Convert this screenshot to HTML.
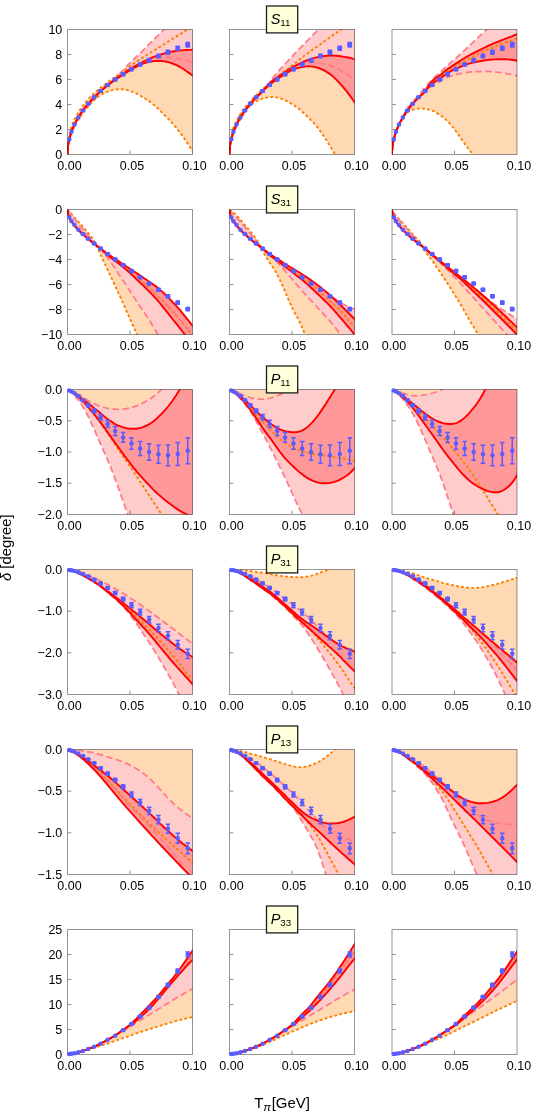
<!DOCTYPE html>
<html lang="en"><head><meta charset="utf-8"><title>Phase shifts</title>
<style>html,body{margin:0;padding:0;background:#fff}svg{display:block;will-change:transform}text{font-family:"Liberation Sans", sans-serif;fill:#000}.t{font-size:12.5px}.l{font-size:14.5px}.fo{fill:#ffd9b3;stroke:none}.fp{fill:#ffcccc;stroke:none}.fr{fill:#ff9999;stroke:none}.lo{fill:none;stroke:#ff8000;stroke-width:1.9;stroke-dasharray:2.9 2.2}.lp{fill:none;stroke:#ff7a86;stroke-width:1.75;stroke-dasharray:6.6 3.3}.lr{fill:none;stroke:#ff0000;stroke-width:1.9}.fr0{fill:none;stroke:#000;stroke-width:1;stroke-opacity:.42}.tk{stroke:#000;stroke-width:1;stroke-opacity:.45;fill:none}.pt{fill:#5b5bff}.eb{stroke:#5b5bff;stroke-width:1.5;fill:none}</style></head><body>
<svg width="540" height="1115" viewBox="0 0 540 1115">
<rect width="540" height="1115" fill="#fff"/>
<defs>
<clipPath id="c00"><rect x="67.5" y="29.5" width="125" height="125"/></clipPath>
<clipPath id="c01"><rect x="229.5" y="29.5" width="125" height="125"/></clipPath>
<clipPath id="c02"><rect x="392" y="29.5" width="125" height="125"/></clipPath>
<clipPath id="c10"><rect x="67.5" y="209.5" width="125" height="125"/></clipPath>
<clipPath id="c11"><rect x="229.5" y="209.5" width="125" height="125"/></clipPath>
<clipPath id="c12"><rect x="392" y="209.5" width="125" height="125"/></clipPath>
<clipPath id="c20"><rect x="67.5" y="389.5" width="125" height="125"/></clipPath>
<clipPath id="c21"><rect x="229.5" y="389.5" width="125" height="125"/></clipPath>
<clipPath id="c22"><rect x="392" y="389.5" width="125" height="125"/></clipPath>
<clipPath id="c30"><rect x="67.5" y="569.5" width="125" height="125"/></clipPath>
<clipPath id="c31"><rect x="229.5" y="569.5" width="125" height="125"/></clipPath>
<clipPath id="c32"><rect x="392" y="569.5" width="125" height="125"/></clipPath>
<clipPath id="c40"><rect x="67.5" y="749.5" width="125" height="125"/></clipPath>
<clipPath id="c41"><rect x="229.5" y="749.5" width="125" height="125"/></clipPath>
<clipPath id="c42"><rect x="392" y="749.5" width="125" height="125"/></clipPath>
<clipPath id="c50"><rect x="67.5" y="929.5" width="125" height="125"/></clipPath>
<clipPath id="c51"><rect x="229.5" y="929.5" width="125" height="125"/></clipPath>
<clipPath id="c52"><rect x="392" y="929.5" width="125" height="125"/></clipPath>
</defs>
<g clip-path="url(#c00)"><polygon class="fo" points="67.5,154.5 67.5,151.6 67.7,148.7 67.9,145.8 68.1,142.9 68.5,140.1 68.9,137.3 69.5,134.6 70.1,132 70.7,129.4 71.5,126.9 72.3,124.5 74.5,119.5 76.5,115.6 78.5,112.2 80.5,109.1 82.5,106.3 84.5,103.8 86.5,101.4 88.5,99.1 90.5,97 92.5,95 94.5,93.1 96.5,91.2 98.5,89.5 100.5,87.8 102.5,86.2 104.5,84.7 106.5,83.2 108.5,81.7 110.5,80.2 112.5,78.8 114.5,77.4 116.5,75.9 118.5,74.5 120.5,73.1 122.5,71.6 124.5,70.2 126.5,68.7 128.5,67.3 130.5,65.9 132.5,64.4 134.5,63 136.5,61.7 138.5,60.3 140.5,59 142.5,57.7 144.5,56.5 146.5,55.2 148.5,54 150.5,52.8 152.5,51.5 154.5,50.3 156.5,49 158.5,47.8 160.5,46.5 162.5,45.2 164.5,44 166.5,42.7 168.5,41.4 170.5,40.2 172.5,38.9 174.5,37.7 176.5,36.4 178.5,35.2 180.5,33.9 182.5,32.7 184.5,31.4 186.5,30.1 188.5,28.9 190.5,27.6 192.5,26.3 194.5,25 194.5,154.4 192.5,151.2 190.5,148 188.5,144.8 186.5,141.7 184.5,138.7 182.5,135.9 180.5,133.2 178.5,130.6 176.5,128.1 174.5,125.7 172.5,123.4 170.5,121.2 168.5,119.1 166.5,117.1 164.5,115.1 162.5,113.1 160.5,111.1 158.5,109.1 156.5,107.2 154.5,105.3 152.5,103.6 150.5,102.1 148.5,100.8 146.5,99.5 144.5,98.3 142.5,97.1 140.5,95.8 138.5,94.6 136.5,93.5 134.5,92.6 132.5,91.8 130.5,91 128.5,90.4 126.5,90 124.5,89.6 122.5,89.3 120.5,89.2 118.5,89.2 116.5,89.4 114.5,89.7 112.5,90.2 110.5,90.7 108.5,91.4 106.5,92.1 104.5,93 102.5,94 100.5,95.2 98.5,96.5 96.5,98 94.5,99.7 92.5,101.7 90.5,103.9 88.5,106.2 86.5,108.6 84.5,111 82.5,113.5 80.5,116.2 78.5,119.2 76.5,122.4 74.5,126 72.3,130.8 71.5,133 70.7,135.1 70.1,137.3 69.5,139.4 68.9,141.5 68.5,143.6 68.1,145.8 67.9,148 67.7,150.1 67.5,152.3 67.5,154.5"/><polygon class="fp" points="67.5,154.5 67.5,152.2 67.7,150 67.9,147.7 68.1,145.4 68.5,143.2 68.9,140.9 69.5,138.6 70.1,136.4 70.7,134.1 71.5,131.8 72.3,129.5 74.5,124.5 76.5,120.6 78.5,117.2 80.5,114 82.5,111.1 84.5,108.4 86.5,105.9 88.5,103.6 90.5,101.3 92.5,99.1 94.5,97 96.5,95 98.5,93.1 100.5,91.3 102.5,89.5 104.5,87.7 106.5,85.9 108.5,84.1 110.5,82.3 112.5,80.6 114.5,78.7 116.5,76.9 118.5,74.9 120.5,73 122.5,70.9 124.5,68.7 126.5,66.5 128.5,64.4 130.5,62.3 132.5,60.4 134.5,58.5 136.5,56.7 138.5,54.8 140.5,52.9 142.5,50.9 144.5,48.9 146.5,46.9 148.5,44.9 150.5,42.9 152.5,40.9 154.5,38.9 156.5,37 158.5,35 160.5,33 162.5,31 164.5,29 166.5,27 168.5,24.9 170.5,22.9 172.5,20.8 174.5,18.8 176.5,16.8 178.5,14.8 180.5,12.8 182.5,10.8 184.5,8.7 186.5,6.7 188.5,4.7 190.5,2.7 192.5,0.7 194.5,-1.3 194.5,62.8 192.5,62.2 190.5,61.6 188.5,61 186.5,60.5 184.5,59.9 182.5,59.4 180.5,59 178.5,58.6 176.5,58.2 174.5,57.9 172.5,57.7 170.5,57.5 168.5,57.3 166.5,57.2 164.5,57.2 162.5,57.1 160.5,57.2 158.5,57.3 156.5,57.6 154.5,58 152.5,58.6 150.5,59.3 148.5,60.1 146.5,61 144.5,61.9 142.5,62.9 140.5,63.9 138.5,65 136.5,66 134.5,67.2 132.5,68.3 130.5,69.5 128.5,70.7 126.5,72 124.5,73.3 122.5,74.6 120.5,75.9 118.5,77.3 116.5,78.7 114.5,80.2 112.5,81.7 110.5,83.2 108.5,84.7 106.5,86.3 104.5,87.9 102.5,89.6 100.5,91.3 98.5,93.1 96.5,95 94.5,97 92.5,99.1 90.5,101.3 88.5,103.6 86.5,105.9 84.5,108.4 82.5,111.1 80.5,114 78.5,117.2 76.5,120.6 74.5,124.5 72.3,129.5 71.5,131.8 70.7,134.1 70.1,136.4 69.5,138.6 68.9,140.9 68.5,143.2 68.1,145.4 67.9,147.7 67.7,150 67.5,152.2 67.5,154.5"/><polygon class="fr" points="67.5,154.5 67.5,152.2 67.7,150 67.9,147.7 68.1,145.4 68.5,143.2 68.9,140.9 69.5,138.6 70.1,136.4 70.7,134.1 71.5,131.8 72.3,129.5 74.5,124.5 76.5,120.6 78.5,117.2 80.5,114 82.5,111.1 84.5,108.4 86.5,105.9 88.5,103.6 90.5,101.3 92.5,99.1 94.5,97 96.5,95 98.5,93.1 100.5,91.3 102.5,89.5 104.5,87.8 106.5,86.1 108.5,84.5 110.5,82.9 112.5,81.3 114.5,79.8 116.5,78.3 118.5,76.9 120.5,75.5 122.5,74.1 124.5,72.8 126.5,71.4 128.5,70.1 130.5,68.8 132.5,67.6 134.5,66.4 136.5,65.3 138.5,64.2 140.5,63.1 142.5,62 144.5,61 146.5,60 148.5,59.1 150.5,58.2 152.5,57.4 154.5,56.6 156.5,55.9 158.5,55.2 160.5,54.6 162.5,54 164.5,53.4 166.5,52.9 168.5,52.4 170.5,51.9 172.5,51.5 174.5,51.2 176.5,50.9 178.5,50.6 180.5,50.4 182.5,50.3 184.5,50.1 186.5,50 188.5,49.9 190.5,49.9 192.5,49.8 194.5,49.7 194.5,77 192.5,75.5 190.5,74 188.5,72.6 186.5,71.2 184.5,69.8 182.5,68.5 180.5,67.3 178.5,66.2 176.5,65.2 174.5,64.3 172.5,63.5 170.5,62.8 168.5,62.2 166.5,61.7 164.5,61.4 162.5,61.1 160.5,61 158.5,61 156.5,61 154.5,61.1 152.5,61.3 150.5,61.6 148.5,62 146.5,62.6 144.5,63.2 142.5,63.9 140.5,64.7 138.5,65.6 136.5,66.6 134.5,67.6 132.5,68.7 130.5,69.9 128.5,71.1 126.5,72.4 124.5,73.7 122.5,75 120.5,76.3 118.5,77.6 116.5,79 114.5,80.4 112.5,81.8 110.5,83.2 108.5,84.7 106.5,86.3 104.5,87.9 102.5,89.6 100.5,91.3 98.5,93.1 96.5,95 94.5,97 92.5,99.1 90.5,101.3 88.5,103.6 86.5,105.9 84.5,108.4 82.5,111.1 80.5,114 78.5,117.2 76.5,120.6 74.5,124.5 72.3,129.5 71.5,131.8 70.7,134.1 70.1,136.4 69.5,138.6 68.9,140.9 68.5,143.2 68.1,145.4 67.9,147.7 67.7,150 67.5,152.2 67.5,154.5"/><polyline class="lo" points="67.5,154.5 67.5,152.3 67.7,150.1 67.9,148 68.1,145.8 68.5,143.6 68.9,141.5 69.5,139.4 70.1,137.3 70.7,135.1 71.5,133 72.3,130.8 74.5,126 76.5,122.4 78.5,119.2 80.5,116.2 82.5,113.5 84.5,111 86.5,108.6 88.5,106.2 90.5,103.9 92.5,101.7 94.5,99.7 96.5,98 98.5,96.5 100.5,95.2 102.5,94 104.5,93 106.5,92.1 108.5,91.4 110.5,90.7 112.5,90.2 114.5,89.7 116.5,89.4 118.5,89.2 120.5,89.2 122.5,89.3 124.5,89.6 126.5,90 128.5,90.4 130.5,91 132.5,91.8 134.5,92.6 136.5,93.5 138.5,94.6 140.5,95.8 142.5,97.1 144.5,98.3 146.5,99.5 148.5,100.8 150.5,102.1 152.5,103.6 154.5,105.3 156.5,107.2 158.5,109.1 160.5,111.1 162.5,113.1 164.5,115.1 166.5,117.1 168.5,119.1 170.5,121.2 172.5,123.4 174.5,125.7 176.5,128.1 178.5,130.6 180.5,133.2 182.5,135.9 184.5,138.7 186.5,141.7 188.5,144.8 190.5,148 192.5,151.2 194.5,154.4"/><polyline class="lo" points="67.5,154.5 67.5,151.6 67.7,148.7 67.9,145.8 68.1,142.9 68.5,140.1 68.9,137.3 69.5,134.6 70.1,132 70.7,129.4 71.5,126.9 72.3,124.5 74.5,119.5 76.5,115.6 78.5,112.2 80.5,109.1 82.5,106.3 84.5,103.8 86.5,101.4 88.5,99.1 90.5,97 92.5,95 94.5,93.1 96.5,91.2 98.5,89.5 100.5,87.8 102.5,86.2 104.5,84.7 106.5,83.2 108.5,81.7 110.5,80.2 112.5,78.8 114.5,77.4 116.5,75.9 118.5,74.5 120.5,73.1 122.5,71.6 124.5,70.2 126.5,68.7 128.5,67.3 130.5,65.9 132.5,64.4 134.5,63 136.5,61.7 138.5,60.3 140.5,59 142.5,57.7 144.5,56.5 146.5,55.2 148.5,54 150.5,52.8 152.5,51.5 154.5,50.3 156.5,49 158.5,47.8 160.5,46.5 162.5,45.2 164.5,44 166.5,42.7 168.5,41.4 170.5,40.2 172.5,38.9 174.5,37.7 176.5,36.4 178.5,35.2 180.5,33.9 182.5,32.7 184.5,31.4 186.5,30.1 188.5,28.9 190.5,27.6 192.5,26.3 194.5,25"/><polyline class="lp" points="67.5,154.5 67.5,152.2 67.7,150 67.9,147.7 68.1,145.4 68.5,143.2 68.9,140.9 69.5,138.6 70.1,136.4 70.7,134.1 71.5,131.8 72.3,129.5 74.5,124.5 76.5,120.6 78.5,117.2 80.5,114 82.5,111.1 84.5,108.4 86.5,105.9 88.5,103.6 90.5,101.3 92.5,99.1 94.5,97 96.5,95 98.5,93.1 100.5,91.3 102.5,89.6 104.5,87.9 106.5,86.3 108.5,84.7 110.5,83.2 112.5,81.7 114.5,80.2 116.5,78.7 118.5,77.3 120.5,75.9 122.5,74.6 124.5,73.3 126.5,72 128.5,70.7 130.5,69.5 132.5,68.3 134.5,67.2 136.5,66 138.5,65 140.5,63.9 142.5,62.9 144.5,61.9 146.5,61 148.5,60.1 150.5,59.3 152.5,58.6 154.5,58 156.5,57.6 158.5,57.3 160.5,57.2 162.5,57.1 164.5,57.2 166.5,57.2 168.5,57.3 170.5,57.5 172.5,57.7 174.5,57.9 176.5,58.2 178.5,58.6 180.5,59 182.5,59.4 184.5,59.9 186.5,60.5 188.5,61 190.5,61.6 192.5,62.2 194.5,62.8"/><polyline class="lp" points="67.5,154.5 67.5,152.2 67.7,150 67.9,147.7 68.1,145.4 68.5,143.2 68.9,140.9 69.5,138.6 70.1,136.4 70.7,134.1 71.5,131.8 72.3,129.5 74.5,124.5 76.5,120.6 78.5,117.2 80.5,114 82.5,111.1 84.5,108.4 86.5,105.9 88.5,103.6 90.5,101.3 92.5,99.1 94.5,97 96.5,95 98.5,93.1 100.5,91.3 102.5,89.5 104.5,87.7 106.5,85.9 108.5,84.1 110.5,82.3 112.5,80.6 114.5,78.7 116.5,76.9 118.5,74.9 120.5,73 122.5,70.9 124.5,68.7 126.5,66.5 128.5,64.4 130.5,62.3 132.5,60.4 134.5,58.5 136.5,56.7 138.5,54.8 140.5,52.9 142.5,50.9 144.5,48.9 146.5,46.9 148.5,44.9 150.5,42.9 152.5,40.9 154.5,38.9 156.5,37 158.5,35 160.5,33 162.5,31 164.5,29 166.5,27 168.5,24.9 170.5,22.9 172.5,20.8 174.5,18.8 176.5,16.8 178.5,14.8 180.5,12.8 182.5,10.8 184.5,8.7 186.5,6.7 188.5,4.7 190.5,2.7 192.5,0.7 194.5,-1.3"/><polyline class="lr" points="67.5,154.5 67.5,152.2 67.7,150 67.9,147.7 68.1,145.4 68.5,143.2 68.9,140.9 69.5,138.6 70.1,136.4 70.7,134.1 71.5,131.8 72.3,129.5 74.5,124.5 76.5,120.6 78.5,117.2 80.5,114 82.5,111.1 84.5,108.4 86.5,105.9 88.5,103.6 90.5,101.3 92.5,99.1 94.5,97 96.5,95 98.5,93.1 100.5,91.3 102.5,89.6 104.5,87.9 106.5,86.3 108.5,84.7 110.5,83.2 112.5,81.8 114.5,80.4 116.5,79 118.5,77.6 120.5,76.3 122.5,75 124.5,73.7 126.5,72.4 128.5,71.1 130.5,69.9 132.5,68.7 134.5,67.6 136.5,66.6 138.5,65.6 140.5,64.7 142.5,63.9 144.5,63.2 146.5,62.6 148.5,62 150.5,61.6 152.5,61.3 154.5,61.1 156.5,61 158.5,61 160.5,61 162.5,61.1 164.5,61.4 166.5,61.7 168.5,62.2 170.5,62.8 172.5,63.5 174.5,64.3 176.5,65.2 178.5,66.2 180.5,67.3 182.5,68.5 184.5,69.8 186.5,71.2 188.5,72.6 190.5,74 192.5,75.5 194.5,77"/><polyline class="lr" points="67.5,154.5 67.5,152.2 67.7,150 67.9,147.7 68.1,145.4 68.5,143.2 68.9,140.9 69.5,138.6 70.1,136.4 70.7,134.1 71.5,131.8 72.3,129.5 74.5,124.5 76.5,120.6 78.5,117.2 80.5,114 82.5,111.1 84.5,108.4 86.5,105.9 88.5,103.6 90.5,101.3 92.5,99.1 94.5,97 96.5,95 98.5,93.1 100.5,91.3 102.5,89.5 104.5,87.8 106.5,86.1 108.5,84.5 110.5,82.9 112.5,81.3 114.5,79.8 116.5,78.3 118.5,76.9 120.5,75.5 122.5,74.1 124.5,72.8 126.5,71.4 128.5,70.1 130.5,68.8 132.5,67.6 134.5,66.4 136.5,65.3 138.5,64.2 140.5,63.1 142.5,62 144.5,61 146.5,60 148.5,59.1 150.5,58.2 152.5,57.4 154.5,56.6 156.5,55.9 158.5,55.2 160.5,54.6 162.5,54 164.5,53.4 166.5,52.9 168.5,52.4 170.5,51.9 172.5,51.5 174.5,51.2 176.5,50.9 178.5,50.6 180.5,50.4 182.5,50.3 184.5,50.1 186.5,50 188.5,49.9 190.5,49.9 192.5,49.8 194.5,49.7"/></g>
<rect class="fr0" x="67.5" y="29.5" width="125" height="125"/>
<path class="tk" d="M130 154v-3.3M68 129.5h3.3M68 104.5h3.3M68 79.5h3.3M68 54.5h3.3"/>
<circle class="pt" cx="69.28" cy="139.25" r="2.25"/><circle class="pt" cx="71.48" cy="131.75" r="2.25"/><circle class="pt" cx="74.52" cy="124.5" r="2.25"/><circle class="pt" cx="78.36" cy="117.5" r="2.25"/><rect class="pt" x="80.59" y="108.92" width="4.7" height="3.15" rx="0.7"/><circle class="pt" cx="82.94" cy="110.5" r="2.25"/><rect class="pt" x="85.86" y="102.05" width="4.7" height="3.4" rx="0.7"/><circle class="pt" cx="88.21" cy="103.75" r="2.25"/><rect class="pt" x="91.78" y="95.42" width="4.7" height="3.65" rx="0.7"/><circle class="pt" cx="94.13" cy="97.25" r="2.25"/><rect class="pt" x="98.28" y="89.05" width="4.7" height="3.9" rx="0.7"/><circle class="pt" cx="100.63" cy="91" r="2.25"/><rect class="pt" x="105.31" y="82.93" width="4.7" height="4.15" rx="0.7"/><circle class="pt" cx="107.66" cy="85" r="2.25"/><rect class="pt" x="112.82" y="77.3" width="4.7" height="4.4" rx="0.7"/><circle class="pt" cx="115.17" cy="79.5" r="2.25"/><rect class="pt" x="120.77" y="72.05" width="4.7" height="4.4" rx="0.7"/><circle class="pt" cx="123.12" cy="74.25" r="2.25"/><rect class="pt" x="129.11" y="66.92" width="4.7" height="4.65" rx="0.7"/><circle class="pt" cx="131.46" cy="69.25" r="2.25"/><rect class="pt" x="137.8" y="62.17" width="4.7" height="4.65" rx="0.7"/><circle class="pt" cx="140.15" cy="64.5" r="2.25"/><rect class="pt" x="146.8" y="57.8" width="4.7" height="4.9" rx="0.7"/><circle class="pt" cx="149.15" cy="60.25" r="2.25"/><rect class="pt" x="156.09" y="53.42" width="4.7" height="5.15" rx="0.7"/><circle class="pt" cx="158.44" cy="56" r="2.25"/><rect class="pt" x="165.63" y="49.55" width="4.7" height="5.4" rx="0.7"/><circle class="pt" cx="167.98" cy="52.25" r="2.25"/><rect class="pt" x="175.4" y="45.42" width="4.7" height="5.65" rx="0.7"/><circle class="pt" cx="177.75" cy="48.25" r="2.25"/><rect class="pt" x="185.38" y="41.8" width="4.7" height="5.9" rx="0.7"/><circle class="pt" cx="187.73" cy="44.75" r="2.25"/>
<text class="t" text-anchor="middle" x="69.5" y="170">0.00</text>
<text class="t" text-anchor="middle" x="132" y="170">0.05</text>
<text class="t" text-anchor="middle" x="194.5" y="170">0.10</text>
<text class="t" text-anchor="end" x="62.3" y="158.5">0</text>
<text class="t" text-anchor="end" x="62.3" y="133.5">2</text>
<text class="t" text-anchor="end" x="62.3" y="108.5">4</text>
<text class="t" text-anchor="end" x="62.3" y="83.5">6</text>
<text class="t" text-anchor="end" x="62.3" y="58.5">8</text>
<text class="t" text-anchor="end" x="62.3" y="33.5">10</text>
<g clip-path="url(#c01)"><polygon class="fo" points="229.5,154.5 229.5,151.7 229.7,148.9 229.9,146.1 230.1,143.3 230.5,140.6 230.9,137.8 231.5,135.1 232.1,132.5 232.7,130 233.5,127.7 234.3,125.6 236.5,121 238.5,117.2 240.5,113.8 242.5,110.7 244.5,107.9 246.5,105.5 248.5,103.2 250.5,101 252.5,99 254.5,97 256.5,95 258.5,93.1 260.5,91.2 262.5,89.3 264.5,87.5 266.5,85.8 268.5,84 270.5,82.3 272.5,80.7 274.5,79.1 276.5,77.5 278.5,75.9 280.5,74.4 282.5,72.9 284.5,71.3 286.5,69.8 288.5,68.3 290.5,66.8 292.5,65.2 294.5,63.6 296.5,62 298.5,60.3 300.5,58.7 302.5,57.1 304.5,55.6 306.5,54.2 308.5,52.7 310.5,51.3 312.5,49.9 314.5,48.5 316.5,47.1 318.5,45.7 320.5,44.2 322.5,42.7 324.5,41.3 326.5,39.8 328.5,38.3 330.5,36.8 332.5,35.4 334.5,34 336.5,32.7 338.5,31.3 340.5,30 342.5,28.6 344.5,27.2 346.5,25.7 348.5,24.2 350.5,22.6 352.5,21.1 354.5,19.6 356.5,18.1 356.5,192 354.5,188.5 352.5,184.9 350.5,181.4 348.5,177.9 346.5,174.4 344.5,170.9 342.5,167.4 340.5,163.9 338.5,160.4 336.5,156.8 334.5,153.4 332.5,150 330.5,146.6 328.5,143.4 326.5,140.3 324.5,137.2 322.5,134.3 320.5,131.4 318.5,128.7 316.5,126.2 314.5,123.8 312.5,121.6 310.5,119.6 308.5,117.6 306.5,115.7 304.5,113.9 302.5,112 300.5,110.3 298.5,108.6 296.5,107.1 294.5,105.6 292.5,104.3 290.5,103.1 288.5,101.9 286.5,100.9 284.5,99.9 282.5,99.1 280.5,98.4 278.5,97.8 276.5,97.4 274.5,97.1 272.5,97 270.5,97.1 268.5,97.3 266.5,97.6 264.5,98.1 262.5,98.7 260.5,99.4 258.5,100.2 256.5,101.1 254.5,102.2 252.5,103.5 250.5,105.2 248.5,107.3 246.5,109.9 244.5,112.8 242.5,115.9 240.5,119.2 238.5,122.4 236.5,126 234.3,130.8 233.5,133 232.7,135.2 232.1,137.3 231.5,139.4 230.9,141.5 230.5,143.6 230.1,145.8 229.9,148 229.7,150.1 229.5,152.3 229.5,154.5"/><polygon class="fp" points="229.5,154.5 229.5,152.2 229.7,150 229.9,147.7 230.1,145.4 230.5,143.2 230.9,140.9 231.5,138.6 232.1,136.4 232.7,134.1 233.5,131.8 234.3,129.5 236.5,124.5 238.5,120.6 240.5,117.2 242.5,114 244.5,111.1 246.5,108.4 248.5,105.9 250.5,103.5 252.5,101.2 254.5,99 256.5,97 258.5,95.2 260.5,93.3 262.5,91.3 264.5,89 266.5,86.5 268.5,83.9 270.5,81.3 272.5,78.6 274.5,76 276.5,73.5 278.5,71.2 280.5,68.9 282.5,66.7 284.5,64.6 286.5,62.5 288.5,60.3 290.5,58.2 292.5,56.1 294.5,53.9 296.5,51.8 298.5,49.7 300.5,47.7 302.5,45.6 304.5,43.6 306.5,41.5 308.5,39.5 310.5,37.5 312.5,35.4 314.5,33.4 316.5,31.3 318.5,29.3 320.5,27.2 322.5,25.2 324.5,23.1 326.5,21.1 328.5,19 330.5,17 332.5,15 334.5,13 336.5,10.9 338.5,8.9 340.5,6.9 342.5,4.9 344.5,2.9 346.5,0.8 348.5,-1.2 350.5,-3.2 352.5,-5.2 354.5,-7.2 356.5,-9.2 356.5,81.3 354.5,79.8 352.5,78.3 350.5,76.8 348.5,75.4 346.5,74 344.5,72.6 342.5,71.4 340.5,70.2 338.5,69.1 336.5,68.1 334.5,67.2 332.5,66.4 330.5,65.7 328.5,65.1 326.5,64.6 324.5,64.2 322.5,63.8 320.5,63.5 318.5,63.1 316.5,62.8 314.5,62.5 312.5,62.3 310.5,62.3 308.5,62.5 306.5,62.8 304.5,63.3 302.5,63.9 300.5,64.6 298.5,65.4 296.5,66.3 294.5,67.2 292.5,68.3 290.5,69.4 288.5,70.6 286.5,71.8 284.5,73.1 282.5,74.4 280.5,75.8 278.5,77.2 276.5,78.6 274.5,80 272.5,81.5 270.5,83.1 268.5,85 266.5,87 264.5,89.2 262.5,91.3 260.5,93.3 258.5,95.1 256.5,97 254.5,99 252.5,101.2 250.5,103.5 248.5,105.9 246.5,108.4 244.5,111.1 242.5,114 240.5,117.2 238.5,120.6 236.5,124.5 234.3,129.5 233.5,131.8 232.7,134.1 232.1,136.4 231.5,138.6 230.9,140.9 230.5,143.2 230.1,145.4 229.9,147.7 229.7,150 229.5,152.2 229.5,154.5"/><polygon class="fr" points="229.5,154.5 229.5,152.2 229.7,150 229.9,147.7 230.1,145.4 230.5,143.2 230.9,140.9 231.5,138.6 232.1,136.4 232.7,134.1 233.5,131.8 234.3,129.5 236.5,124.5 238.5,120.6 240.5,117.2 242.5,114 244.5,111.1 246.5,108.4 248.5,105.9 250.5,103.5 252.5,101.2 254.5,99 256.5,97 258.5,95.2 260.5,93.3 262.5,91.3 264.5,89 266.5,86.7 268.5,84.4 270.5,82.5 272.5,80.8 274.5,79.3 276.5,77.9 278.5,76.5 280.5,75.1 282.5,73.7 284.5,72.3 286.5,71 288.5,69.7 290.5,68.5 292.5,67.3 294.5,66.2 296.5,65.1 298.5,64.1 300.5,63.1 302.5,62.2 304.5,61.3 306.5,60.5 308.5,59.8 310.5,59.1 312.5,58.4 314.5,57.9 316.5,57.3 318.5,56.9 320.5,56.5 322.5,56.2 324.5,56 326.5,55.8 328.5,55.6 330.5,55.6 332.5,55.5 334.5,55.6 336.5,55.8 338.5,56 340.5,56.3 342.5,56.6 344.5,56.9 346.5,57.2 348.5,57.5 350.5,58 352.5,58.6 354.5,59.3 356.5,60.1 356.5,105.3 354.5,102.3 352.5,99.3 350.5,96.4 348.5,93.8 346.5,91.2 344.5,88.8 342.5,86.4 340.5,84.1 338.5,81.9 336.5,79.8 334.5,77.9 332.5,76.1 330.5,74.5 328.5,73.1 326.5,71.8 324.5,70.7 322.5,69.7 320.5,68.8 318.5,68 316.5,67.4 314.5,66.9 312.5,66.6 310.5,66.4 308.5,66.3 306.5,66.4 304.5,66.6 302.5,67 300.5,67.4 298.5,67.8 296.5,68.4 294.5,69.1 292.5,70 290.5,70.9 288.5,72 286.5,73.2 284.5,74.4 282.5,75.7 280.5,76.9 278.5,78.2 276.5,79.5 274.5,80.9 272.5,82.4 270.5,84 268.5,85.7 266.5,87.5 264.5,89.4 262.5,91.3 260.5,93.2 258.5,95.1 256.5,97 254.5,99.1 252.5,101.3 250.5,103.5 248.5,105.9 246.5,108.4 244.5,111.1 242.5,114 240.5,117.2 238.5,120.6 236.5,124.5 234.3,129.5 233.5,131.8 232.7,134.1 232.1,136.4 231.5,138.6 230.9,140.9 230.5,143.2 230.1,145.4 229.9,147.7 229.7,150 229.5,152.2 229.5,154.5"/><polyline class="lo" points="229.5,154.5 229.5,152.3 229.7,150.1 229.9,148 230.1,145.8 230.5,143.6 230.9,141.5 231.5,139.4 232.1,137.3 232.7,135.2 233.5,133 234.3,130.8 236.5,126 238.5,122.4 240.5,119.2 242.5,115.9 244.5,112.8 246.5,109.9 248.5,107.3 250.5,105.2 252.5,103.5 254.5,102.2 256.5,101.1 258.5,100.2 260.5,99.4 262.5,98.7 264.5,98.1 266.5,97.6 268.5,97.3 270.5,97.1 272.5,97 274.5,97.1 276.5,97.4 278.5,97.8 280.5,98.4 282.5,99.1 284.5,99.9 286.5,100.9 288.5,101.9 290.5,103.1 292.5,104.3 294.5,105.6 296.5,107.1 298.5,108.6 300.5,110.3 302.5,112 304.5,113.9 306.5,115.7 308.5,117.6 310.5,119.6 312.5,121.6 314.5,123.8 316.5,126.2 318.5,128.7 320.5,131.4 322.5,134.3 324.5,137.2 326.5,140.3 328.5,143.4 330.5,146.6 332.5,150 334.5,153.4 336.5,156.8 338.5,160.4 340.5,163.9 342.5,167.4 344.5,170.9 346.5,174.4 348.5,177.9 350.5,181.4 352.5,184.9 354.5,188.5 356.5,192"/><polyline class="lo" points="229.5,154.5 229.5,151.7 229.7,148.9 229.9,146.1 230.1,143.3 230.5,140.6 230.9,137.8 231.5,135.1 232.1,132.5 232.7,130 233.5,127.7 234.3,125.6 236.5,121 238.5,117.2 240.5,113.8 242.5,110.7 244.5,107.9 246.5,105.5 248.5,103.2 250.5,101 252.5,99 254.5,97 256.5,95 258.5,93.1 260.5,91.2 262.5,89.3 264.5,87.5 266.5,85.8 268.5,84 270.5,82.3 272.5,80.7 274.5,79.1 276.5,77.5 278.5,75.9 280.5,74.4 282.5,72.9 284.5,71.3 286.5,69.8 288.5,68.3 290.5,66.8 292.5,65.2 294.5,63.6 296.5,62 298.5,60.3 300.5,58.7 302.5,57.1 304.5,55.6 306.5,54.2 308.5,52.7 310.5,51.3 312.5,49.9 314.5,48.5 316.5,47.1 318.5,45.7 320.5,44.2 322.5,42.7 324.5,41.3 326.5,39.8 328.5,38.3 330.5,36.8 332.5,35.4 334.5,34 336.5,32.7 338.5,31.3 340.5,30 342.5,28.6 344.5,27.2 346.5,25.7 348.5,24.2 350.5,22.6 352.5,21.1 354.5,19.6 356.5,18.1"/><polyline class="lp" points="229.5,154.5 229.5,152.2 229.7,150 229.9,147.7 230.1,145.4 230.5,143.2 230.9,140.9 231.5,138.6 232.1,136.4 232.7,134.1 233.5,131.8 234.3,129.5 236.5,124.5 238.5,120.6 240.5,117.2 242.5,114 244.5,111.1 246.5,108.4 248.5,105.9 250.5,103.5 252.5,101.2 254.5,99 256.5,97 258.5,95.1 260.5,93.3 262.5,91.3 264.5,89.2 266.5,87 268.5,85 270.5,83.1 272.5,81.5 274.5,80 276.5,78.6 278.5,77.2 280.5,75.8 282.5,74.4 284.5,73.1 286.5,71.8 288.5,70.6 290.5,69.4 292.5,68.3 294.5,67.2 296.5,66.3 298.5,65.4 300.5,64.6 302.5,63.9 304.5,63.3 306.5,62.8 308.5,62.5 310.5,62.3 312.5,62.3 314.5,62.5 316.5,62.8 318.5,63.1 320.5,63.5 322.5,63.8 324.5,64.2 326.5,64.6 328.5,65.1 330.5,65.7 332.5,66.4 334.5,67.2 336.5,68.1 338.5,69.1 340.5,70.2 342.5,71.4 344.5,72.6 346.5,74 348.5,75.4 350.5,76.8 352.5,78.3 354.5,79.8 356.5,81.3"/><polyline class="lp" points="229.5,154.5 229.5,152.2 229.7,150 229.9,147.7 230.1,145.4 230.5,143.2 230.9,140.9 231.5,138.6 232.1,136.4 232.7,134.1 233.5,131.8 234.3,129.5 236.5,124.5 238.5,120.6 240.5,117.2 242.5,114 244.5,111.1 246.5,108.4 248.5,105.9 250.5,103.5 252.5,101.2 254.5,99 256.5,97 258.5,95.2 260.5,93.3 262.5,91.3 264.5,89 266.5,86.5 268.5,83.9 270.5,81.3 272.5,78.6 274.5,76 276.5,73.5 278.5,71.2 280.5,68.9 282.5,66.7 284.5,64.6 286.5,62.5 288.5,60.3 290.5,58.2 292.5,56.1 294.5,53.9 296.5,51.8 298.5,49.7 300.5,47.7 302.5,45.6 304.5,43.6 306.5,41.5 308.5,39.5 310.5,37.5 312.5,35.4 314.5,33.4 316.5,31.3 318.5,29.3 320.5,27.2 322.5,25.2 324.5,23.1 326.5,21.1 328.5,19 330.5,17 332.5,15 334.5,13 336.5,10.9 338.5,8.9 340.5,6.9 342.5,4.9 344.5,2.9 346.5,0.8 348.5,-1.2 350.5,-3.2 352.5,-5.2 354.5,-7.2 356.5,-9.2"/><polyline class="lr" points="229.5,154.5 229.5,152.2 229.7,150 229.9,147.7 230.1,145.4 230.5,143.2 230.9,140.9 231.5,138.6 232.1,136.4 232.7,134.1 233.5,131.8 234.3,129.5 236.5,124.5 238.5,120.6 240.5,117.2 242.5,114 244.5,111.1 246.5,108.4 248.5,105.9 250.5,103.5 252.5,101.3 254.5,99.1 256.5,97 258.5,95.1 260.5,93.2 262.5,91.3 264.5,89.4 266.5,87.5 268.5,85.7 270.5,84 272.5,82.4 274.5,80.9 276.5,79.5 278.5,78.2 280.5,76.9 282.5,75.7 284.5,74.4 286.5,73.2 288.5,72 290.5,70.9 292.5,70 294.5,69.1 296.5,68.4 298.5,67.8 300.5,67.4 302.5,67 304.5,66.6 306.5,66.4 308.5,66.3 310.5,66.4 312.5,66.6 314.5,66.9 316.5,67.4 318.5,68 320.5,68.8 322.5,69.7 324.5,70.7 326.5,71.8 328.5,73.1 330.5,74.5 332.5,76.1 334.5,77.9 336.5,79.8 338.5,81.9 340.5,84.1 342.5,86.4 344.5,88.8 346.5,91.2 348.5,93.8 350.5,96.4 352.5,99.3 354.5,102.3 356.5,105.3"/><polyline class="lr" points="229.5,154.5 229.5,152.2 229.7,150 229.9,147.7 230.1,145.4 230.5,143.2 230.9,140.9 231.5,138.6 232.1,136.4 232.7,134.1 233.5,131.8 234.3,129.5 236.5,124.5 238.5,120.6 240.5,117.2 242.5,114 244.5,111.1 246.5,108.4 248.5,105.9 250.5,103.5 252.5,101.2 254.5,99 256.5,97 258.5,95.2 260.5,93.3 262.5,91.3 264.5,89 266.5,86.7 268.5,84.4 270.5,82.5 272.5,80.8 274.5,79.3 276.5,77.9 278.5,76.5 280.5,75.1 282.5,73.7 284.5,72.3 286.5,71 288.5,69.7 290.5,68.5 292.5,67.3 294.5,66.2 296.5,65.1 298.5,64.1 300.5,63.1 302.5,62.2 304.5,61.3 306.5,60.5 308.5,59.8 310.5,59.1 312.5,58.4 314.5,57.9 316.5,57.3 318.5,56.9 320.5,56.5 322.5,56.2 324.5,56 326.5,55.8 328.5,55.6 330.5,55.6 332.5,55.5 334.5,55.6 336.5,55.8 338.5,56 340.5,56.3 342.5,56.6 344.5,56.9 346.5,57.2 348.5,57.5 350.5,58 352.5,58.6 354.5,59.3 356.5,60.1"/></g>
<rect class="fr0" x="229.5" y="29.5" width="125" height="125"/>
<path class="tk" d="M292 154v-3.3M230 129.5h3.3M230 104.5h3.3M230 79.5h3.3M230 54.5h3.3"/>
<circle class="pt" cx="231.28" cy="139.25" r="2.25"/><circle class="pt" cx="233.48" cy="131.75" r="2.25"/><circle class="pt" cx="236.52" cy="124.5" r="2.25"/><circle class="pt" cx="240.36" cy="117.5" r="2.25"/><rect class="pt" x="242.59" y="108.92" width="4.7" height="3.15" rx="0.7"/><circle class="pt" cx="244.94" cy="110.5" r="2.25"/><rect class="pt" x="247.86" y="102.05" width="4.7" height="3.4" rx="0.7"/><circle class="pt" cx="250.21" cy="103.75" r="2.25"/><rect class="pt" x="253.78" y="95.42" width="4.7" height="3.65" rx="0.7"/><circle class="pt" cx="256.13" cy="97.25" r="2.25"/><rect class="pt" x="260.28" y="89.05" width="4.7" height="3.9" rx="0.7"/><circle class="pt" cx="262.63" cy="91" r="2.25"/><rect class="pt" x="267.31" y="82.93" width="4.7" height="4.15" rx="0.7"/><circle class="pt" cx="269.66" cy="85" r="2.25"/><rect class="pt" x="274.82" y="77.3" width="4.7" height="4.4" rx="0.7"/><circle class="pt" cx="277.17" cy="79.5" r="2.25"/><rect class="pt" x="282.77" y="72.05" width="4.7" height="4.4" rx="0.7"/><circle class="pt" cx="285.12" cy="74.25" r="2.25"/><rect class="pt" x="291.11" y="66.92" width="4.7" height="4.65" rx="0.7"/><circle class="pt" cx="293.46" cy="69.25" r="2.25"/><rect class="pt" x="299.8" y="62.17" width="4.7" height="4.65" rx="0.7"/><circle class="pt" cx="302.15" cy="64.5" r="2.25"/><rect class="pt" x="308.8" y="57.8" width="4.7" height="4.9" rx="0.7"/><circle class="pt" cx="311.15" cy="60.25" r="2.25"/><rect class="pt" x="318.09" y="53.42" width="4.7" height="5.15" rx="0.7"/><circle class="pt" cx="320.44" cy="56" r="2.25"/><rect class="pt" x="327.63" y="49.55" width="4.7" height="5.4" rx="0.7"/><circle class="pt" cx="329.98" cy="52.25" r="2.25"/><rect class="pt" x="337.4" y="45.42" width="4.7" height="5.65" rx="0.7"/><circle class="pt" cx="339.75" cy="48.25" r="2.25"/><rect class="pt" x="347.38" y="41.8" width="4.7" height="5.9" rx="0.7"/><circle class="pt" cx="349.73" cy="44.75" r="2.25"/>
<text class="t" text-anchor="middle" x="231.5" y="170">0.00</text>
<text class="t" text-anchor="middle" x="294" y="170">0.05</text>
<text class="t" text-anchor="middle" x="356.5" y="170">0.10</text>
<g clip-path="url(#c02)"><polygon class="fo" points="392,154.5 392,152.2 392.2,150 392.4,147.7 392.6,145.4 393,143.2 393.4,140.9 394,138.6 394.6,136.4 395.2,134.1 396,131.8 396.8,129.5 399,124.5 401,120.6 403,117.2 405,114 407,111.1 409,108.4 411,105.9 413,103.5 415,101.2 417,99 419,97 421,95.3 423,93.5 425,91.3 427,88.7 429,86 431,83.5 433,81.5 435,79.9 437,78.5 439,77.2 441,75.8 443,74.4 445,72.9 447,71.5 449,70.1 451,68.8 453,67.5 455,66.3 457,65.1 459,64.1 461,63 463,62 465,60.9 467,59.9 469,58.8 471,57.7 473,56.6 475,55.6 477,54.6 479,53.6 481,52.6 483,51.7 485,50.8 487,50 489,49.1 491,48.3 493,47.4 495,46.6 497,45.8 499,45 501,44.2 503,43.4 505,42.7 507,41.9 509,41.3 511,40.6 513,40 515,39.3 517,38.7 519,38.1 519,218.6 517,215.8 515,213 513,210.2 511,207.4 509,204.7 507,201.9 505,199.1 503,196.3 501,193.5 499,190.7 497,187.9 495,185.2 493,182.4 491,179.6 489,176.8 487,174 485,171.2 483,168.5 481,165.7 479,162.9 477,160.1 475,157.3 473,154.6 471,152 469,149.4 467,146.8 465,144.1 463,141.3 461,138.4 459,135.5 457,132.7 455,129.9 453,127.3 451,124.9 449,122.7 447,120.7 445,118.9 443,117.3 441,115.8 439,114.4 437,113.1 435,111.9 433,110.9 431,110.1 429,109.6 427,109.2 425,108.8 423,108.6 421,108.5 419,108.6 417,108.8 415,109.2 413,109.7 411,110.3 409,111.2 407,112.6 405,114.8 403,117.9 401,121.4 399,125.3 396.8,130.3 396,132.5 395.2,134.7 394.6,136.9 394,139.2 393.4,141.4 393,143.6 392.6,145.8 392.4,147.9 392.2,150.1 392,152.3 392,154.5"/><polygon class="fp" points="392,154.5 392,152.2 392.2,150 392.4,147.7 392.6,145.4 393,143.2 393.4,140.9 394,138.6 394.6,136.4 395.2,134.1 396,131.8 396.8,129.5 399,124.5 401,120.9 403,117.1 405,112.7 407,108.9 409,106.2 411,104 413,101.9 415,99.5 417,97.1 419,94.7 421,92.4 423,90.1 425,87.8 427,85.5 429,83.2 431,81.1 433,79 435,77 437,75.2 439,73.4 441,71.6 443,69.7 445,67.9 447,66.1 449,64.3 451,62.5 453,60.7 455,59 457,57.1 459,55.3 461,53.5 463,51.7 465,49.8 467,47.9 469,46.1 471,44.2 473,42.3 475,40.4 477,38.6 479,36.7 481,34.9 483,33 485,31.2 487,29.3 489,27.5 491,25.6 493,23.8 495,22 497,20.2 499,18.4 501,16.6 503,14.8 505,13.1 507,11.3 509,9.5 511,7.7 513,5.9 515,4.2 517,2.4 519,0.6 519,76.6 517,76 515,75.4 513,74.9 511,74.4 509,74 507,73.7 505,73.3 503,73 501,72.7 499,72.5 497,72.2 495,72 493,71.8 491,71.6 489,71.5 487,71.4 485,71.4 483,71.5 481,71.5 479,71.5 477,71.6 475,71.7 473,71.8 471,71.9 469,72.1 467,72.4 465,72.7 463,73 461,73.4 459,73.8 457,74.2 455,74.8 453,75.4 451,76 449,76.8 447,77.6 445,78.5 443,79.5 441,80.6 439,81.7 437,82.8 435,83.9 433,85.2 431,86.5 429,88 427,89.6 425,91.3 423,93.1 421,95 419,97 417,99.1 415,101.3 413,103.6 411,105.9 409,108.4 407,111.1 405,114 403,117.2 401,120.6 399,124.5 396.8,129.5 396,131.8 395.2,134.1 394.6,136.4 394,138.6 393.4,140.9 393,143.2 392.6,145.4 392.4,147.7 392.2,150 392,152.2 392,154.5"/><polygon class="fr" points="392,154.5 392,152.2 392.2,150 392.4,147.7 392.6,145.4 393,143.2 393.4,140.9 394,138.6 394.6,136.4 395.2,134.1 396,131.8 396.8,129.5 399,124.5 401,120.6 403,117.2 405,114 407,111 409,108.4 411,106 413,103.5 415,101.2 417,98.9 419,97.1 421,95.4 423,93.6 425,91.3 427,88.3 429,85.1 431,82.3 433,80.2 435,78.6 437,77.2 439,75.9 441,74.4 443,72.8 445,71.1 447,69.5 449,68.1 451,66.7 453,65.4 455,64.1 457,62.9 459,61.6 461,60.3 463,59 465,57.8 467,56.6 469,55.5 471,54.4 473,53.3 475,52.3 477,51.3 479,50.3 481,49.3 483,48.3 485,47.3 487,46.4 489,45.4 491,44.6 493,43.7 495,42.9 497,42.1 499,41.3 501,40.5 503,39.7 505,38.9 507,38.1 509,37.3 511,36.6 513,35.8 515,35 517,34.3 519,33.6 519,61.1 517,60.7 515,60.3 513,60 511,59.7 509,59.5 507,59.4 505,59.3 503,59.2 501,59.2 499,59.3 497,59.3 495,59.4 493,59.5 491,59.6 489,59.8 487,60.1 485,60.3 483,60.7 481,61 479,61.4 477,61.8 475,62.2 473,62.6 471,63.1 469,63.7 467,64.3 465,65 463,65.7 461,66.5 459,67.3 457,68.2 455,69.2 453,70.2 451,71.2 449,72.4 447,73.7 445,75 443,76.4 441,77.8 439,79.2 437,80.5 435,81.7 433,83.1 431,84.8 429,86.8 427,89.1 425,91.3 423,93.3 421,95.2 419,97 417,99 415,101.2 413,103.5 411,105.9 409,108.4 407,111.1 405,114 403,117.2 401,120.6 399,124.5 396.8,129.5 396,131.8 395.2,134.1 394.6,136.4 394,138.6 393.4,140.9 393,143.2 392.6,145.4 392.4,147.7 392.2,150 392,152.2 392,154.5"/><polyline class="lo" points="392,154.5 392,152.3 392.2,150.1 392.4,147.9 392.6,145.8 393,143.6 393.4,141.4 394,139.2 394.6,136.9 395.2,134.7 396,132.5 396.8,130.3 399,125.3 401,121.4 403,117.9 405,114.8 407,112.6 409,111.2 411,110.3 413,109.7 415,109.2 417,108.8 419,108.6 421,108.5 423,108.6 425,108.8 427,109.2 429,109.6 431,110.1 433,110.9 435,111.9 437,113.1 439,114.4 441,115.8 443,117.3 445,118.9 447,120.7 449,122.7 451,124.9 453,127.3 455,129.9 457,132.7 459,135.5 461,138.4 463,141.3 465,144.1 467,146.8 469,149.4 471,152 473,154.6 475,157.3 477,160.1 479,162.9 481,165.7 483,168.5 485,171.2 487,174 489,176.8 491,179.6 493,182.4 495,185.2 497,187.9 499,190.7 501,193.5 503,196.3 505,199.1 507,201.9 509,204.7 511,207.4 513,210.2 515,213 517,215.8 519,218.6"/><polyline class="lo" points="392,154.5 392,152.2 392.2,150 392.4,147.7 392.6,145.4 393,143.2 393.4,140.9 394,138.6 394.6,136.4 395.2,134.1 396,131.8 396.8,129.5 399,124.5 401,120.6 403,117.2 405,114 407,111.1 409,108.4 411,105.9 413,103.5 415,101.2 417,99 419,97 421,95.3 423,93.5 425,91.3 427,88.7 429,86 431,83.5 433,81.5 435,79.9 437,78.5 439,77.2 441,75.8 443,74.4 445,72.9 447,71.5 449,70.1 451,68.8 453,67.5 455,66.3 457,65.1 459,64.1 461,63 463,62 465,60.9 467,59.9 469,58.8 471,57.7 473,56.6 475,55.6 477,54.6 479,53.6 481,52.6 483,51.7 485,50.8 487,50 489,49.1 491,48.3 493,47.4 495,46.6 497,45.8 499,45 501,44.2 503,43.4 505,42.7 507,41.9 509,41.3 511,40.6 513,40 515,39.3 517,38.7 519,38.1"/><polyline class="lp" points="392,154.5 392,152.2 392.2,150 392.4,147.7 392.6,145.4 393,143.2 393.4,140.9 394,138.6 394.6,136.4 395.2,134.1 396,131.8 396.8,129.5 399,124.5 401,120.6 403,117.2 405,114 407,111.1 409,108.4 411,105.9 413,103.6 415,101.3 417,99.1 419,97 421,95 423,93.1 425,91.3 427,89.6 429,88 431,86.5 433,85.2 435,83.9 437,82.8 439,81.7 441,80.6 443,79.5 445,78.5 447,77.6 449,76.8 451,76 453,75.4 455,74.8 457,74.2 459,73.8 461,73.4 463,73 465,72.7 467,72.4 469,72.1 471,71.9 473,71.8 475,71.7 477,71.6 479,71.5 481,71.5 483,71.5 485,71.4 487,71.4 489,71.5 491,71.6 493,71.8 495,72 497,72.2 499,72.5 501,72.7 503,73 505,73.3 507,73.7 509,74 511,74.4 513,74.9 515,75.4 517,76 519,76.6"/><polyline class="lp" points="392,154.5 392,152.2 392.2,150 392.4,147.7 392.6,145.4 393,143.2 393.4,140.9 394,138.6 394.6,136.4 395.2,134.1 396,131.8 396.8,129.5 399,124.5 401,120.9 403,117.1 405,112.7 407,108.9 409,106.2 411,104 413,101.9 415,99.5 417,97.1 419,94.7 421,92.4 423,90.1 425,87.8 427,85.5 429,83.2 431,81.1 433,79 435,77 437,75.2 439,73.4 441,71.6 443,69.7 445,67.9 447,66.1 449,64.3 451,62.5 453,60.7 455,59 457,57.1 459,55.3 461,53.5 463,51.7 465,49.8 467,47.9 469,46.1 471,44.2 473,42.3 475,40.4 477,38.6 479,36.7 481,34.9 483,33 485,31.2 487,29.3 489,27.5 491,25.6 493,23.8 495,22 497,20.2 499,18.4 501,16.6 503,14.8 505,13.1 507,11.3 509,9.5 511,7.7 513,5.9 515,4.2 517,2.4 519,0.6"/><polyline class="lr" points="392,154.5 392,152.2 392.2,150 392.4,147.7 392.6,145.4 393,143.2 393.4,140.9 394,138.6 394.6,136.4 395.2,134.1 396,131.8 396.8,129.5 399,124.5 401,120.6 403,117.2 405,114 407,111.1 409,108.4 411,105.9 413,103.5 415,101.2 417,99 419,97 421,95.2 423,93.3 425,91.3 427,89.1 429,86.8 431,84.8 433,83.1 435,81.7 437,80.5 439,79.2 441,77.8 443,76.4 445,75 447,73.7 449,72.4 451,71.2 453,70.2 455,69.2 457,68.2 459,67.3 461,66.5 463,65.7 465,65 467,64.3 469,63.7 471,63.1 473,62.6 475,62.2 477,61.8 479,61.4 481,61 483,60.7 485,60.3 487,60.1 489,59.8 491,59.6 493,59.5 495,59.4 497,59.3 499,59.3 501,59.2 503,59.2 505,59.3 507,59.4 509,59.5 511,59.7 513,60 515,60.3 517,60.7 519,61.1"/><polyline class="lr" points="392,154.5 392,152.2 392.2,150 392.4,147.7 392.6,145.4 393,143.2 393.4,140.9 394,138.6 394.6,136.4 395.2,134.1 396,131.8 396.8,129.5 399,124.5 401,120.6 403,117.2 405,114 407,111 409,108.4 411,106 413,103.5 415,101.2 417,98.9 419,97.1 421,95.4 423,93.6 425,91.3 427,88.3 429,85.1 431,82.3 433,80.2 435,78.6 437,77.2 439,75.9 441,74.4 443,72.8 445,71.1 447,69.5 449,68.1 451,66.7 453,65.4 455,64.1 457,62.9 459,61.6 461,60.3 463,59 465,57.8 467,56.6 469,55.5 471,54.4 473,53.3 475,52.3 477,51.3 479,50.3 481,49.3 483,48.3 485,47.3 487,46.4 489,45.4 491,44.6 493,43.7 495,42.9 497,42.1 499,41.3 501,40.5 503,39.7 505,38.9 507,38.1 509,37.3 511,36.6 513,35.8 515,35 517,34.3 519,33.6"/></g>
<rect class="fr0" x="392" y="29.5" width="125" height="125"/>
<path class="tk" d="M454.5 154v-3.3M392.5 129.5h3.3M392.5 104.5h3.3M392.5 79.5h3.3M392.5 54.5h3.3"/>
<circle class="pt" cx="393.78" cy="139.25" r="2.25"/><circle class="pt" cx="395.98" cy="131.75" r="2.25"/><circle class="pt" cx="399.02" cy="124.5" r="2.25"/><circle class="pt" cx="402.86" cy="117.5" r="2.25"/><rect class="pt" x="405.09" y="108.92" width="4.7" height="3.15" rx="0.7"/><circle class="pt" cx="407.44" cy="110.5" r="2.25"/><rect class="pt" x="410.36" y="102.05" width="4.7" height="3.4" rx="0.7"/><circle class="pt" cx="412.71" cy="103.75" r="2.25"/><rect class="pt" x="416.28" y="95.42" width="4.7" height="3.65" rx="0.7"/><circle class="pt" cx="418.63" cy="97.25" r="2.25"/><rect class="pt" x="422.78" y="89.05" width="4.7" height="3.9" rx="0.7"/><circle class="pt" cx="425.13" cy="91" r="2.25"/><rect class="pt" x="429.81" y="82.93" width="4.7" height="4.15" rx="0.7"/><circle class="pt" cx="432.16" cy="85" r="2.25"/><rect class="pt" x="437.32" y="77.3" width="4.7" height="4.4" rx="0.7"/><circle class="pt" cx="439.67" cy="79.5" r="2.25"/><rect class="pt" x="445.27" y="72.05" width="4.7" height="4.4" rx="0.7"/><circle class="pt" cx="447.62" cy="74.25" r="2.25"/><rect class="pt" x="453.61" y="66.92" width="4.7" height="4.65" rx="0.7"/><circle class="pt" cx="455.96" cy="69.25" r="2.25"/><rect class="pt" x="462.3" y="62.17" width="4.7" height="4.65" rx="0.7"/><circle class="pt" cx="464.65" cy="64.5" r="2.25"/><rect class="pt" x="471.3" y="57.8" width="4.7" height="4.9" rx="0.7"/><circle class="pt" cx="473.65" cy="60.25" r="2.25"/><rect class="pt" x="480.59" y="53.42" width="4.7" height="5.15" rx="0.7"/><circle class="pt" cx="482.94" cy="56" r="2.25"/><rect class="pt" x="490.13" y="49.55" width="4.7" height="5.4" rx="0.7"/><circle class="pt" cx="492.48" cy="52.25" r="2.25"/><rect class="pt" x="499.9" y="45.42" width="4.7" height="5.65" rx="0.7"/><circle class="pt" cx="502.25" cy="48.25" r="2.25"/><rect class="pt" x="509.88" y="41.8" width="4.7" height="5.9" rx="0.7"/><circle class="pt" cx="512.23" cy="44.75" r="2.25"/>
<text class="t" text-anchor="middle" x="394" y="170">0.00</text>
<text class="t" text-anchor="middle" x="456.5" y="170">0.05</text>
<text class="t" text-anchor="middle" x="519" y="170">0.10</text>
<rect x="266.5" y="6" width="31.2" height="26.9" fill="#ffffd9" stroke="#1c1c1c" stroke-width="1.3"/>
<text class="l" x="270.7" y="24"><tspan font-style="italic">S</tspan><tspan font-size="9.8px" dy="2.2">11</tspan></text>
<g clip-path="url(#c10)"><polygon class="fo" points="67.5,209.5 67.5,210.7 67.7,211.9 67.9,213.1 68.1,214.3 68.5,215.5 68.9,216.7 69.5,217.9 70.1,219 70.7,220.2 71.5,221.3 72.3,222.5 74.5,225.4 76.5,227.9 78.5,230.1 80.5,232 82.5,233.7 84.5,235.6 86.5,237.5 88.5,239.2 90.5,240.8 92.5,242.4 94.5,243.9 96.5,245.4 98.5,247 100.5,248.6 102.5,250.3 104.5,251.9 106.5,253.6 108.5,255.1 110.5,256.6 112.5,258.1 114.5,259.5 116.5,260.9 118.5,262.3 120.5,263.8 122.5,265.2 124.5,266.6 126.5,268.1 128.5,269.6 130.5,271.1 132.5,272.7 134.5,274.4 136.5,276.1 138.5,277.8 140.5,279.6 142.5,281.4 144.5,283.3 146.5,285.1 148.5,287 150.5,288.9 152.5,290.8 154.5,292.8 156.5,294.8 158.5,296.8 160.5,298.9 162.5,300.9 164.5,303 166.5,305.1 168.5,307.1 170.5,309.2 172.5,311.3 174.5,313.5 176.5,315.8 178.5,318.2 180.5,320.7 182.5,323.1 184.5,325.6 186.5,328 188.5,330.4 190.5,332.8 192.5,335.2 194.5,337.6 194.5,463.3 192.5,458.8 190.5,454.4 188.5,449.9 186.5,445.4 184.5,440.9 182.5,436.4 180.5,432 178.5,427.5 176.5,423 174.5,418.5 172.5,414 170.5,409.6 168.5,405.1 166.5,400.6 164.5,396.1 162.5,391.7 160.5,387.2 158.5,382.7 156.5,378.2 154.5,373.7 152.5,369.3 150.5,364.8 148.5,360.3 146.5,355.8 144.5,351.3 142.5,346.9 140.5,342.4 138.5,337.9 136.5,333.4 134.5,328.9 132.5,324.5 130.5,320.1 128.5,315.5 126.5,311 124.5,306.4 122.5,301.9 120.5,297.4 118.5,293.1 116.5,288.7 114.5,284.4 112.5,280.2 110.5,275.9 108.5,271.6 106.5,267.3 104.5,263 102.5,258.8 100.5,254.6 98.5,250.1 96.5,245.7 94.5,241.7 92.5,238.5 90.5,235.8 88.5,233.5 86.5,231.2 84.5,228.7 82.5,226.2 80.5,223.9 78.5,221.8 76.5,219.7 74.5,217.6 72.3,215.1 71.5,214.1 70.7,213.3 70.1,212.5 69.5,211.8 68.9,211.3 68.5,210.8 68.1,210.5 67.9,210.2 67.7,209.9 67.5,209.7 67.5,209.5"/><polygon class="fp" points="67.5,209 67.5,210.2 67.7,211.4 67.9,212.6 68.1,213.8 68.5,215 68.9,216.2 69.5,217.4 70.1,218.5 70.7,219.7 71.5,220.8 72.3,222 74.5,224.9 76.5,227.4 78.5,229.6 80.5,231.5 82.5,233.2 84.5,235.1 86.5,237 88.5,238.7 90.5,240.3 92.5,241.9 94.5,243.4 96.5,244.9 98.5,246.5 100.5,248.1 102.5,249.8 104.5,251.4 106.5,253.1 108.5,254.6 110.5,256.1 112.5,257.6 114.5,259 116.5,260.4 118.5,261.8 120.5,263.3 122.5,264.7 124.5,266.1 126.5,267.6 128.5,269.1 130.5,270.6 132.5,272.2 134.5,273.9 136.5,275.6 138.5,277.3 140.5,279.1 142.5,280.9 144.5,282.8 146.5,284.6 148.5,286.5 150.5,288.4 152.5,290.3 154.5,292.3 156.5,294.3 158.5,296.3 160.5,298.4 162.5,300.4 164.5,302.5 166.5,304.6 168.5,306.6 170.5,308.7 172.5,310.8 174.5,313 176.5,315.3 178.5,317.7 180.5,320.2 182.5,322.6 184.5,325.1 186.5,327.5 188.5,329.9 190.5,332.3 192.5,334.7 194.5,337.1 194.5,394.9 192.5,391.6 190.5,388.3 188.5,385 186.5,381.7 184.5,378.4 182.5,375.1 180.5,371.9 178.5,368.6 176.5,365.3 174.5,362 172.5,358.7 170.5,355.4 168.5,352.1 166.5,348.8 164.5,345.5 162.5,342.2 160.5,338.9 158.5,335.5 156.5,332.2 154.5,328.8 152.5,325.5 150.5,322.2 148.5,319 146.5,316 144.5,313 142.5,310.1 140.5,307.2 138.5,304.2 136.5,301.2 134.5,298.1 132.5,295 130.5,291.8 128.5,288.7 126.5,285.7 124.5,282.7 122.5,279.8 120.5,276.8 118.5,273.8 116.5,270.8 114.5,267.7 112.5,264.7 110.5,261.8 108.5,259.1 106.5,256.5 104.5,254 102.5,251.5 100.5,249.2 98.5,247.2 96.5,245.2 94.5,243.1 92.5,240.9 90.5,238.6 88.5,236.3 86.5,233.9 84.5,231.5 82.5,229.1 80.5,226.6 78.5,224.1 76.5,221.5 74.5,218.9 72.3,216.1 71.5,215 70.7,214.1 70.1,213.3 69.5,212.6 68.9,211.9 68.5,211.4 68.1,210.9 67.9,210.5 67.7,210.2 67.5,209.8 67.5,209.5"/><polygon class="fr" points="67.5,209.5 67.5,210.7 67.7,211.9 67.9,213.1 68.1,214.3 68.5,215.5 68.9,216.7 69.5,217.9 70.1,219 70.7,220.2 71.5,221.3 72.3,222.5 74.5,225.4 76.5,227.9 78.5,230.1 80.5,232 82.5,233.7 84.5,235.6 86.5,237.5 88.5,239.2 90.5,240.8 92.5,242.4 94.5,243.9 96.5,245.5 98.5,247 100.5,248.6 102.5,250.1 104.5,251.6 106.5,253 108.5,254.4 110.5,255.8 112.5,257.2 114.5,258.5 116.5,259.8 118.5,261.1 120.5,262.5 122.5,263.8 124.5,265.1 126.5,266.5 128.5,267.8 130.5,269.2 132.5,270.5 134.5,271.8 136.5,273.1 138.5,274.4 140.5,275.8 142.5,277.1 144.5,278.5 146.5,279.8 148.5,281.2 150.5,282.6 152.5,283.9 154.5,285.4 156.5,286.8 158.5,288.4 160.5,290.1 162.5,291.9 164.5,293.8 166.5,295.7 168.5,297.8 170.5,299.8 172.5,301.9 174.5,304 176.5,306.2 178.5,308.4 180.5,310.7 182.5,313.1 184.5,315.6 186.5,318.1 188.5,320.6 190.5,323.2 192.5,325.7 194.5,328.2 194.5,347.6 192.5,344.9 190.5,342.2 188.5,339.5 186.5,336.8 184.5,334.1 182.5,331.5 180.5,329 178.5,326.4 176.5,323.9 174.5,321.5 172.5,319 170.5,316.5 168.5,313.9 166.5,311.4 164.5,308.8 162.5,306.3 160.5,303.9 158.5,301.5 156.5,299.2 154.5,297 152.5,294.9 150.5,292.8 148.5,290.8 146.5,288.8 144.5,286.8 142.5,284.9 140.5,283 138.5,281.1 136.5,279.2 134.5,277.3 132.5,275.4 130.5,273.5 128.5,271.7 126.5,269.9 124.5,268.2 122.5,266.6 120.5,265 118.5,263.4 116.5,262 114.5,260.5 112.5,259 110.5,257.4 108.5,255.8 106.5,254.1 104.5,252.3 102.5,250.4 100.5,248.6 98.5,246.9 96.5,245.4 94.5,243.9 92.5,242.4 90.5,240.9 88.5,239.2 86.5,237.5 84.5,235.6 82.5,233.7 80.5,232 78.5,230.1 76.5,227.9 74.5,225.4 72.3,222.5 71.5,221.3 70.7,220.2 70.1,219 69.5,217.9 68.9,216.7 68.5,215.5 68.1,214.3 67.9,213.1 67.7,211.9 67.5,210.7 67.5,209.5"/><polyline class="lo" points="67.5,209.5 67.5,209.7 67.7,209.9 67.9,210.2 68.1,210.5 68.5,210.8 68.9,211.3 69.5,211.8 70.1,212.5 70.7,213.3 71.5,214.1 72.3,215.1 74.5,217.6 76.5,219.7 78.5,221.8 80.5,223.9 82.5,226.2 84.5,228.7 86.5,231.2 88.5,233.5 90.5,235.8 92.5,238.5 94.5,241.7 96.5,245.7 98.5,250.1 100.5,254.6 102.5,258.8 104.5,263 106.5,267.3 108.5,271.6 110.5,275.9 112.5,280.2 114.5,284.4 116.5,288.7 118.5,293.1 120.5,297.4 122.5,301.9 124.5,306.4 126.5,311 128.5,315.5 130.5,320.1 132.5,324.5 134.5,328.9 136.5,333.4 138.5,337.9 140.5,342.4 142.5,346.9 144.5,351.3 146.5,355.8 148.5,360.3 150.5,364.8 152.5,369.3 154.5,373.7 156.5,378.2 158.5,382.7 160.5,387.2 162.5,391.7 164.5,396.1 166.5,400.6 168.5,405.1 170.5,409.6 172.5,414 174.5,418.5 176.5,423 178.5,427.5 180.5,432 182.5,436.4 184.5,440.9 186.5,445.4 188.5,449.9 190.5,454.4 192.5,458.8 194.5,463.3"/><polyline class="lo" points="67.5,209.5 67.5,210.7 67.7,211.9 67.9,213.1 68.1,214.3 68.5,215.5 68.9,216.7 69.5,217.9 70.1,219 70.7,220.2 71.5,221.3 72.3,222.5 74.5,225.4 76.5,227.9 78.5,230.1 80.5,232 82.5,233.7 84.5,235.6 86.5,237.5 88.5,239.2 90.5,240.8 92.5,242.4 94.5,243.9 96.5,245.4 98.5,247 100.5,248.6 102.5,250.3 104.5,251.9 106.5,253.6 108.5,255.1 110.5,256.6 112.5,258.1 114.5,259.5 116.5,260.9 118.5,262.3 120.5,263.8 122.5,265.2 124.5,266.6 126.5,268.1 128.5,269.6 130.5,271.1 132.5,272.7 134.5,274.4 136.5,276.1 138.5,277.8 140.5,279.6 142.5,281.4 144.5,283.3 146.5,285.1 148.5,287 150.5,288.9 152.5,290.8 154.5,292.8 156.5,294.8 158.5,296.8 160.5,298.9 162.5,300.9 164.5,303 166.5,305.1 168.5,307.1 170.5,309.2 172.5,311.3 174.5,313.5 176.5,315.8 178.5,318.2 180.5,320.7 182.5,323.1 184.5,325.6 186.5,328 188.5,330.4 190.5,332.8 192.5,335.2 194.5,337.6"/><polyline class="lp" points="67.5,209.5 67.5,209.8 67.7,210.2 67.9,210.5 68.1,210.9 68.5,211.4 68.9,211.9 69.5,212.6 70.1,213.3 70.7,214.1 71.5,215 72.3,216.1 74.5,218.9 76.5,221.5 78.5,224.1 80.5,226.6 82.5,229.1 84.5,231.5 86.5,233.9 88.5,236.3 90.5,238.6 92.5,240.9 94.5,243.1 96.5,245.2 98.5,247.2 100.5,249.2 102.5,251.5 104.5,254 106.5,256.5 108.5,259.1 110.5,261.8 112.5,264.7 114.5,267.7 116.5,270.8 118.5,273.8 120.5,276.8 122.5,279.8 124.5,282.7 126.5,285.7 128.5,288.7 130.5,291.8 132.5,295 134.5,298.1 136.5,301.2 138.5,304.2 140.5,307.2 142.5,310.1 144.5,313 146.5,316 148.5,319 150.5,322.2 152.5,325.5 154.5,328.8 156.5,332.2 158.5,335.5 160.5,338.9 162.5,342.2 164.5,345.5 166.5,348.8 168.5,352.1 170.5,355.4 172.5,358.7 174.5,362 176.5,365.3 178.5,368.6 180.5,371.9 182.5,375.1 184.5,378.4 186.5,381.7 188.5,385 190.5,388.3 192.5,391.6 194.5,394.9"/><polyline class="lp" points="67.5,209 67.5,210.2 67.7,211.4 67.9,212.6 68.1,213.8 68.5,215 68.9,216.2 69.5,217.4 70.1,218.5 70.7,219.7 71.5,220.8 72.3,222 74.5,224.9 76.5,227.4 78.5,229.6 80.5,231.5 82.5,233.2 84.5,235.1 86.5,237 88.5,238.7 90.5,240.3 92.5,241.9 94.5,243.4 96.5,244.9 98.5,246.5 100.5,248.1 102.5,249.8 104.5,251.4 106.5,253.1 108.5,254.6 110.5,256.1 112.5,257.6 114.5,259 116.5,260.4 118.5,261.8 120.5,263.3 122.5,264.7 124.5,266.1 126.5,267.6 128.5,269.1 130.5,270.6 132.5,272.2 134.5,273.9 136.5,275.6 138.5,277.3 140.5,279.1 142.5,280.9 144.5,282.8 146.5,284.6 148.5,286.5 150.5,288.4 152.5,290.3 154.5,292.3 156.5,294.3 158.5,296.3 160.5,298.4 162.5,300.4 164.5,302.5 166.5,304.6 168.5,306.6 170.5,308.7 172.5,310.8 174.5,313 176.5,315.3 178.5,317.7 180.5,320.2 182.5,322.6 184.5,325.1 186.5,327.5 188.5,329.9 190.5,332.3 192.5,334.7 194.5,337.1"/><polyline class="lr" points="67.5,209.5 67.5,210.7 67.7,211.9 67.9,213.1 68.1,214.3 68.5,215.5 68.9,216.7 69.5,217.9 70.1,219 70.7,220.2 71.5,221.3 72.3,222.5 74.5,225.4 76.5,227.9 78.5,230.1 80.5,232 82.5,233.7 84.5,235.6 86.5,237.5 88.5,239.2 90.5,240.9 92.5,242.4 94.5,243.9 96.5,245.4 98.5,246.9 100.5,248.6 102.5,250.4 104.5,252.3 106.5,254.1 108.5,255.8 110.5,257.4 112.5,259 114.5,260.5 116.5,262 118.5,263.4 120.5,265 122.5,266.6 124.5,268.2 126.5,269.9 128.5,271.7 130.5,273.5 132.5,275.4 134.5,277.3 136.5,279.2 138.5,281.1 140.5,283 142.5,284.9 144.5,286.8 146.5,288.8 148.5,290.8 150.5,292.8 152.5,294.9 154.5,297 156.5,299.2 158.5,301.5 160.5,303.9 162.5,306.3 164.5,308.8 166.5,311.4 168.5,313.9 170.5,316.5 172.5,319 174.5,321.5 176.5,323.9 178.5,326.4 180.5,329 182.5,331.5 184.5,334.1 186.5,336.8 188.5,339.5 190.5,342.2 192.5,344.9 194.5,347.6"/><polyline class="lr" points="67.5,209.5 67.5,210.7 67.7,211.9 67.9,213.1 68.1,214.3 68.5,215.5 68.9,216.7 69.5,217.9 70.1,219 70.7,220.2 71.5,221.3 72.3,222.5 74.5,225.4 76.5,227.9 78.5,230.1 80.5,232 82.5,233.7 84.5,235.6 86.5,237.5 88.5,239.2 90.5,240.8 92.5,242.4 94.5,243.9 96.5,245.5 98.5,247 100.5,248.6 102.5,250.1 104.5,251.6 106.5,253 108.5,254.4 110.5,255.8 112.5,257.2 114.5,258.5 116.5,259.8 118.5,261.1 120.5,262.5 122.5,263.8 124.5,265.1 126.5,266.5 128.5,267.8 130.5,269.2 132.5,270.5 134.5,271.8 136.5,273.1 138.5,274.4 140.5,275.8 142.5,277.1 144.5,278.5 146.5,279.8 148.5,281.2 150.5,282.6 152.5,283.9 154.5,285.4 156.5,286.8 158.5,288.4 160.5,290.1 162.5,291.9 164.5,293.8 166.5,295.7 168.5,297.8 170.5,299.8 172.5,301.9 174.5,304 176.5,306.2 178.5,308.4 180.5,310.7 182.5,313.1 184.5,315.6 186.5,318.1 188.5,320.6 190.5,323.2 192.5,325.7 194.5,328.2"/></g>
<rect class="fr0" x="67.5" y="209.5" width="125" height="125"/>
<path class="tk" d="M130 334v-3.3M68 309.5h3.3M68 284.5h3.3M68 259.5h3.3M68 234.5h3.3"/>
<circle class="pt" cx="69.28" cy="217.25" r="2.25"/><circle class="pt" cx="71.48" cy="221.25" r="2.25"/><circle class="pt" cx="74.52" cy="225.12" r="2.25"/><circle class="pt" cx="78.36" cy="229.75" r="2.25"/><rect class="pt" x="80.59" y="232.43" width="4.7" height="3.15" rx="0.7"/><circle class="pt" cx="82.94" cy="234" r="2.25"/><rect class="pt" x="85.86" y="237.05" width="4.7" height="3.4" rx="0.7"/><circle class="pt" cx="88.21" cy="238.75" r="2.25"/><rect class="pt" x="91.78" y="241.68" width="4.7" height="3.65" rx="0.7"/><circle class="pt" cx="94.13" cy="243.5" r="2.25"/><rect class="pt" x="98.28" y="246.68" width="4.7" height="3.9" rx="0.7"/><circle class="pt" cx="100.63" cy="248.62" r="2.25"/><rect class="pt" x="105.31" y="251.93" width="4.7" height="4.15" rx="0.7"/><circle class="pt" cx="107.66" cy="254" r="2.25"/><rect class="pt" x="112.82" y="257.3" width="4.7" height="4.4" rx="0.7"/><circle class="pt" cx="115.17" cy="259.5" r="2.25"/><rect class="pt" x="120.77" y="262.93" width="4.7" height="4.4" rx="0.7"/><circle class="pt" cx="123.12" cy="265.12" r="2.25"/><rect class="pt" x="129.11" y="268.8" width="4.7" height="4.4" rx="0.7"/><circle class="pt" cx="131.46" cy="271" r="2.25"/><rect class="pt" x="137.8" y="275.05" width="4.7" height="4.4" rx="0.7"/><circle class="pt" cx="140.15" cy="277.25" r="2.25"/><rect class="pt" x="146.8" y="281.43" width="4.7" height="4.4" rx="0.7"/><circle class="pt" cx="149.15" cy="283.62" r="2.25"/><rect class="pt" x="156.09" y="287.43" width="4.7" height="4.65" rx="0.7"/><circle class="pt" cx="158.44" cy="289.75" r="2.25"/><rect class="pt" x="165.63" y="293.93" width="4.7" height="4.65" rx="0.7"/><circle class="pt" cx="167.98" cy="296.25" r="2.25"/><rect class="pt" x="175.4" y="300.3" width="4.7" height="4.65" rx="0.7"/><circle class="pt" cx="177.75" cy="302.62" r="2.25"/><rect class="pt" x="185.38" y="306.8" width="4.7" height="4.65" rx="0.7"/><circle class="pt" cx="187.73" cy="309.12" r="2.25"/>
<text class="t" text-anchor="middle" x="69.5" y="350">0.00</text>
<text class="t" text-anchor="middle" x="132" y="350">0.05</text>
<text class="t" text-anchor="middle" x="194.5" y="350">0.10</text>
<text class="t" text-anchor="end" x="62.3" y="338.5">−10</text>
<text class="t" text-anchor="end" x="62.3" y="313.5">−8</text>
<text class="t" text-anchor="end" x="62.3" y="288.5">−6</text>
<text class="t" text-anchor="end" x="62.3" y="263.5">−4</text>
<text class="t" text-anchor="end" x="62.3" y="238.5">−2</text>
<text class="t" text-anchor="end" x="62.3" y="213.5">0</text>
<g clip-path="url(#c11)"><polygon class="fo" points="229.5,209.5 229.5,210.7 229.7,211.9 229.9,213.1 230.1,214.3 230.5,215.5 230.9,216.7 231.5,217.9 232.1,219 232.7,220.2 233.5,221.3 234.3,222.5 236.5,225.4 238.5,227.9 240.5,230.1 242.5,232 244.5,233.7 246.5,235.6 248.5,237.5 250.5,239.2 252.5,240.8 254.5,242.4 256.5,243.9 258.5,245.4 260.5,247 262.5,248.6 264.5,250.2 266.5,251.9 268.5,253.5 270.5,255 272.5,256.5 274.5,257.9 276.5,259.3 278.5,260.7 280.5,262.1 282.5,263.6 284.5,265 286.5,266.4 288.5,267.8 290.5,269.2 292.5,270.6 294.5,272.1 296.5,273.5 298.5,274.9 300.5,276.3 302.5,277.7 304.5,279.1 306.5,280.4 308.5,281.8 310.5,283.3 312.5,284.9 314.5,286.7 316.5,288.5 318.5,290.5 320.5,292.4 322.5,294.3 324.5,296.2 326.5,298 328.5,299.9 330.5,301.7 332.5,303.4 334.5,305.2 336.5,307 338.5,308.9 340.5,311 342.5,313.1 344.5,315.4 346.5,317.7 348.5,320.1 350.5,322.4 352.5,324.7 354.5,327 356.5,329.3 356.5,447.8 354.5,443.4 352.5,439 350.5,434.6 348.5,430.2 346.5,425.8 344.5,421.4 342.5,417 340.5,412.6 338.5,408.2 336.5,403.8 334.5,399.4 332.5,395 330.5,390.6 328.5,386.2 326.5,381.8 324.5,377.3 322.5,372.9 320.5,368.5 318.5,364.1 316.5,359.7 314.5,355.3 312.5,350.9 310.5,346.5 308.5,342.1 306.5,337.7 304.5,333.2 302.5,328.5 300.5,323.9 298.5,319.7 296.5,316 294.5,312.4 292.5,308.5 290.5,304.2 288.5,299.6 286.5,294.9 284.5,290.2 282.5,285.6 280.5,281.2 278.5,277.1 276.5,273.3 274.5,269.8 272.5,266.7 270.5,263.8 268.5,260.9 266.5,257.6 264.5,254.2 262.5,250.6 260.5,246.4 258.5,242.5 256.5,239.6 254.5,236.9 252.5,234.2 250.5,231.6 248.5,229.3 246.5,226.9 244.5,224.5 242.5,222.2 240.5,219.9 238.5,217.6 236.5,215.4 234.3,213.4 233.5,212.7 232.7,212.2 232.1,211.7 231.5,211.3 230.9,210.9 230.5,210.6 230.1,210.3 229.9,210.1 229.7,209.9 229.5,209.7 229.5,209.5"/><polygon class="fp" points="229.5,209.5 229.5,210.7 229.7,211.9 229.9,213.1 230.1,214.3 230.5,215.5 230.9,216.7 231.5,217.9 232.1,219 232.7,220.2 233.5,221.3 234.3,222.5 236.5,225.4 238.5,227.9 240.5,230.1 242.5,232 244.5,233.7 246.5,235.6 248.5,237.5 250.5,239.2 252.5,240.8 254.5,242.4 256.5,243.9 258.5,245.5 260.5,247 262.5,248.6 264.5,250.1 266.5,251.7 268.5,253.1 270.5,254.5 272.5,255.9 274.5,257.3 276.5,258.6 278.5,259.9 280.5,261.3 282.5,262.6 284.5,263.9 286.5,265.2 288.5,266.4 290.5,267.6 292.5,268.9 294.5,270.1 296.5,271.4 298.5,272.7 300.5,274 302.5,275.3 304.5,276.5 306.5,277.8 308.5,279.1 310.5,280.4 312.5,281.8 314.5,283.2 316.5,284.7 318.5,286.2 320.5,287.7 322.5,289.2 324.5,290.7 326.5,292.2 328.5,293.8 330.5,295.4 332.5,297 334.5,298.5 336.5,300 338.5,301.3 340.5,302.6 342.5,303.7 344.5,304.8 346.5,305.7 348.5,306.7 350.5,307.5 352.5,308.4 354.5,309.2 356.5,310 356.5,355.7 354.5,353 352.5,350.4 350.5,347.8 348.5,345.1 346.5,342.5 344.5,339.8 342.5,337.2 340.5,334.5 338.5,331.9 336.5,329.3 334.5,326.7 332.5,324.2 330.5,321.8 328.5,319.5 326.5,317.3 324.5,315.1 322.5,312.9 320.5,310.7 318.5,308.6 316.5,306.5 314.5,304.3 312.5,302.2 310.5,300 308.5,297.9 306.5,295.7 304.5,293.5 302.5,291.3 300.5,289 298.5,286.7 296.5,284.4 294.5,282 292.5,279.6 290.5,277.2 288.5,274.9 286.5,272.5 284.5,270.2 282.5,267.9 280.5,265.7 278.5,263.6 276.5,261.5 274.5,259.5 272.5,257.5 270.5,255.7 268.5,253.8 266.5,252.1 264.5,250.3 262.5,248.4 260.5,246.2 258.5,243.8 256.5,241.3 254.5,238.8 252.5,236.4 250.5,234.1 248.5,231.7 246.5,229.4 244.5,226.9 242.5,224.5 240.5,222.1 238.5,219.8 236.5,217.6 234.3,215.4 233.5,214.6 232.7,213.9 232.1,213.2 231.5,212.6 230.9,212 230.5,211.5 230.1,211.1 229.9,210.7 229.7,210.3 229.5,209.9 229.5,209.5"/><polygon class="fr" points="229.5,209.5 229.5,210.7 229.7,211.9 229.9,213.1 230.1,214.3 230.5,215.5 230.9,216.7 231.5,217.9 232.1,219 232.7,220.2 233.5,221.3 234.3,222.5 236.5,225.4 238.5,227.9 240.5,230.1 242.5,232 244.5,233.7 246.5,235.6 248.5,237.5 250.5,239.2 252.5,240.8 254.5,242.4 256.5,243.9 258.5,245.5 260.5,247 262.5,248.6 264.5,250.1 266.5,251.5 268.5,252.9 270.5,254.3 272.5,255.7 274.5,257 276.5,258.3 278.5,259.6 280.5,260.9 282.5,262.2 284.5,263.5 286.5,264.8 288.5,266 290.5,267.2 292.5,268.4 294.5,269.6 296.5,270.8 298.5,272 300.5,273.2 302.5,274.5 304.5,275.8 306.5,277.1 308.5,278.5 310.5,279.9 312.5,281.3 314.5,282.8 316.5,284.3 318.5,285.8 320.5,287.3 322.5,288.9 324.5,290.6 326.5,292.2 328.5,293.9 330.5,295.7 332.5,297.5 334.5,299.3 336.5,301.2 338.5,303.1 340.5,305 342.5,307 344.5,309 346.5,311 348.5,313 350.5,315 352.5,317 354.5,319 356.5,321 356.5,337.4 354.5,334.7 352.5,332 350.5,329.5 348.5,327.1 346.5,324.8 344.5,322.5 342.5,320.2 340.5,317.8 338.5,315.5 336.5,313.1 334.5,310.8 332.5,308.6 330.5,306.5 328.5,304.4 326.5,302.4 324.5,300.5 322.5,298.5 320.5,296.6 318.5,294.7 316.5,292.8 314.5,290.9 312.5,289 310.5,287.2 308.5,285.4 306.5,283.6 304.5,281.8 302.5,280.1 300.5,278.5 298.5,276.9 296.5,275.4 294.5,273.8 292.5,272.3 290.5,270.8 288.5,269.3 286.5,267.8 284.5,266.3 282.5,264.7 280.5,263.1 278.5,261.6 276.5,260.1 274.5,258.6 272.5,257.2 270.5,255.7 268.5,254 266.5,252.2 264.5,250.4 262.5,248.6 260.5,246.9 258.5,245.4 256.5,243.9 254.5,242.4 252.5,240.9 250.5,239.2 248.5,237.5 246.5,235.6 244.5,233.7 242.5,232 240.5,230.1 238.5,227.9 236.5,225.4 234.3,222.5 233.5,221.3 232.7,220.2 232.1,219 231.5,217.9 230.9,216.7 230.5,215.5 230.1,214.3 229.9,213.1 229.7,211.9 229.5,210.7 229.5,209.5"/><polyline class="lo" points="229.5,209.5 229.5,209.7 229.7,209.9 229.9,210.1 230.1,210.3 230.5,210.6 230.9,210.9 231.5,211.3 232.1,211.7 232.7,212.2 233.5,212.7 234.3,213.4 236.5,215.4 238.5,217.6 240.5,219.9 242.5,222.2 244.5,224.5 246.5,226.9 248.5,229.3 250.5,231.6 252.5,234.2 254.5,236.9 256.5,239.6 258.5,242.5 260.5,246.4 262.5,250.6 264.5,254.2 266.5,257.6 268.5,260.9 270.5,263.8 272.5,266.7 274.5,269.8 276.5,273.3 278.5,277.1 280.5,281.2 282.5,285.6 284.5,290.2 286.5,294.9 288.5,299.6 290.5,304.2 292.5,308.5 294.5,312.4 296.5,316 298.5,319.7 300.5,323.9 302.5,328.5 304.5,333.2 306.5,337.7 308.5,342.1 310.5,346.5 312.5,350.9 314.5,355.3 316.5,359.7 318.5,364.1 320.5,368.5 322.5,372.9 324.5,377.3 326.5,381.8 328.5,386.2 330.5,390.6 332.5,395 334.5,399.4 336.5,403.8 338.5,408.2 340.5,412.6 342.5,417 344.5,421.4 346.5,425.8 348.5,430.2 350.5,434.6 352.5,439 354.5,443.4 356.5,447.8"/><polyline class="lo" points="229.5,209.5 229.5,210.7 229.7,211.9 229.9,213.1 230.1,214.3 230.5,215.5 230.9,216.7 231.5,217.9 232.1,219 232.7,220.2 233.5,221.3 234.3,222.5 236.5,225.4 238.5,227.9 240.5,230.1 242.5,232 244.5,233.7 246.5,235.6 248.5,237.5 250.5,239.2 252.5,240.8 254.5,242.4 256.5,243.9 258.5,245.4 260.5,247 262.5,248.6 264.5,250.2 266.5,251.9 268.5,253.5 270.5,255 272.5,256.5 274.5,257.9 276.5,259.3 278.5,260.7 280.5,262.1 282.5,263.6 284.5,265 286.5,266.4 288.5,267.8 290.5,269.2 292.5,270.6 294.5,272.1 296.5,273.5 298.5,274.9 300.5,276.3 302.5,277.7 304.5,279.1 306.5,280.4 308.5,281.8 310.5,283.3 312.5,284.9 314.5,286.7 316.5,288.5 318.5,290.5 320.5,292.4 322.5,294.3 324.5,296.2 326.5,298 328.5,299.9 330.5,301.7 332.5,303.4 334.5,305.2 336.5,307 338.5,308.9 340.5,311 342.5,313.1 344.5,315.4 346.5,317.7 348.5,320.1 350.5,322.4 352.5,324.7 354.5,327 356.5,329.3"/><polyline class="lp" points="229.5,209.5 229.5,209.9 229.7,210.3 229.9,210.7 230.1,211.1 230.5,211.5 230.9,212 231.5,212.6 232.1,213.2 232.7,213.9 233.5,214.6 234.3,215.4 236.5,217.6 238.5,219.8 240.5,222.1 242.5,224.5 244.5,226.9 246.5,229.4 248.5,231.7 250.5,234.1 252.5,236.4 254.5,238.8 256.5,241.3 258.5,243.8 260.5,246.2 262.5,248.4 264.5,250.3 266.5,252.1 268.5,253.8 270.5,255.7 272.5,257.5 274.5,259.5 276.5,261.5 278.5,263.6 280.5,265.7 282.5,267.9 284.5,270.2 286.5,272.5 288.5,274.9 290.5,277.2 292.5,279.6 294.5,282 296.5,284.4 298.5,286.7 300.5,289 302.5,291.3 304.5,293.5 306.5,295.7 308.5,297.9 310.5,300 312.5,302.2 314.5,304.3 316.5,306.5 318.5,308.6 320.5,310.7 322.5,312.9 324.5,315.1 326.5,317.3 328.5,319.5 330.5,321.8 332.5,324.2 334.5,326.7 336.5,329.3 338.5,331.9 340.5,334.5 342.5,337.2 344.5,339.8 346.5,342.5 348.5,345.1 350.5,347.8 352.5,350.4 354.5,353 356.5,355.7"/><polyline class="lp" points="229.5,209.5 229.5,210.7 229.7,211.9 229.9,213.1 230.1,214.3 230.5,215.5 230.9,216.7 231.5,217.9 232.1,219 232.7,220.2 233.5,221.3 234.3,222.5 236.5,225.4 238.5,227.9 240.5,230.1 242.5,232 244.5,233.7 246.5,235.6 248.5,237.5 250.5,239.2 252.5,240.8 254.5,242.4 256.5,243.9 258.5,245.5 260.5,247 262.5,248.6 264.5,250.1 266.5,251.7 268.5,253.1 270.5,254.5 272.5,255.9 274.5,257.3 276.5,258.6 278.5,259.9 280.5,261.3 282.5,262.6 284.5,263.9 286.5,265.2 288.5,266.4 290.5,267.6 292.5,268.9 294.5,270.1 296.5,271.4 298.5,272.7 300.5,274 302.5,275.3 304.5,276.5 306.5,277.8 308.5,279.1 310.5,280.4 312.5,281.8 314.5,283.2 316.5,284.7 318.5,286.2 320.5,287.7 322.5,289.2 324.5,290.7 326.5,292.2 328.5,293.8 330.5,295.4 332.5,297 334.5,298.5 336.5,300 338.5,301.3 340.5,302.6 342.5,303.7 344.5,304.8 346.5,305.7 348.5,306.7 350.5,307.5 352.5,308.4 354.5,309.2 356.5,310"/><polyline class="lr" points="229.5,209.5 229.5,210.7 229.7,211.9 229.9,213.1 230.1,214.3 230.5,215.5 230.9,216.7 231.5,217.9 232.1,219 232.7,220.2 233.5,221.3 234.3,222.5 236.5,225.4 238.5,227.9 240.5,230.1 242.5,232 244.5,233.7 246.5,235.6 248.5,237.5 250.5,239.2 252.5,240.9 254.5,242.4 256.5,243.9 258.5,245.4 260.5,246.9 262.5,248.6 264.5,250.4 266.5,252.2 268.5,254 270.5,255.7 272.5,257.2 274.5,258.6 276.5,260.1 278.5,261.6 280.5,263.1 282.5,264.7 284.5,266.3 286.5,267.8 288.5,269.3 290.5,270.8 292.5,272.3 294.5,273.8 296.5,275.4 298.5,276.9 300.5,278.5 302.5,280.1 304.5,281.8 306.5,283.6 308.5,285.4 310.5,287.2 312.5,289 314.5,290.9 316.5,292.8 318.5,294.7 320.5,296.6 322.5,298.5 324.5,300.5 326.5,302.4 328.5,304.4 330.5,306.5 332.5,308.6 334.5,310.8 336.5,313.1 338.5,315.5 340.5,317.8 342.5,320.2 344.5,322.5 346.5,324.8 348.5,327.1 350.5,329.5 352.5,332 354.5,334.7 356.5,337.4"/><polyline class="lr" points="229.5,209.5 229.5,210.7 229.7,211.9 229.9,213.1 230.1,214.3 230.5,215.5 230.9,216.7 231.5,217.9 232.1,219 232.7,220.2 233.5,221.3 234.3,222.5 236.5,225.4 238.5,227.9 240.5,230.1 242.5,232 244.5,233.7 246.5,235.6 248.5,237.5 250.5,239.2 252.5,240.8 254.5,242.4 256.5,243.9 258.5,245.5 260.5,247 262.5,248.6 264.5,250.1 266.5,251.5 268.5,252.9 270.5,254.3 272.5,255.7 274.5,257 276.5,258.3 278.5,259.6 280.5,260.9 282.5,262.2 284.5,263.5 286.5,264.8 288.5,266 290.5,267.2 292.5,268.4 294.5,269.6 296.5,270.8 298.5,272 300.5,273.2 302.5,274.5 304.5,275.8 306.5,277.1 308.5,278.5 310.5,279.9 312.5,281.3 314.5,282.8 316.5,284.3 318.5,285.8 320.5,287.3 322.5,288.9 324.5,290.6 326.5,292.2 328.5,293.9 330.5,295.7 332.5,297.5 334.5,299.3 336.5,301.2 338.5,303.1 340.5,305 342.5,307 344.5,309 346.5,311 348.5,313 350.5,315 352.5,317 354.5,319 356.5,321"/></g>
<rect class="fr0" x="229.5" y="209.5" width="125" height="125"/>
<path class="tk" d="M292 334v-3.3M230 309.5h3.3M230 284.5h3.3M230 259.5h3.3M230 234.5h3.3"/>
<circle class="pt" cx="231.28" cy="217.25" r="2.25"/><circle class="pt" cx="233.48" cy="221.25" r="2.25"/><circle class="pt" cx="236.52" cy="225.12" r="2.25"/><circle class="pt" cx="240.36" cy="229.75" r="2.25"/><rect class="pt" x="242.59" y="232.43" width="4.7" height="3.15" rx="0.7"/><circle class="pt" cx="244.94" cy="234" r="2.25"/><rect class="pt" x="247.86" y="237.05" width="4.7" height="3.4" rx="0.7"/><circle class="pt" cx="250.21" cy="238.75" r="2.25"/><rect class="pt" x="253.78" y="241.68" width="4.7" height="3.65" rx="0.7"/><circle class="pt" cx="256.13" cy="243.5" r="2.25"/><rect class="pt" x="260.28" y="246.68" width="4.7" height="3.9" rx="0.7"/><circle class="pt" cx="262.63" cy="248.62" r="2.25"/><rect class="pt" x="267.31" y="251.93" width="4.7" height="4.15" rx="0.7"/><circle class="pt" cx="269.66" cy="254" r="2.25"/><rect class="pt" x="274.82" y="257.3" width="4.7" height="4.4" rx="0.7"/><circle class="pt" cx="277.17" cy="259.5" r="2.25"/><rect class="pt" x="282.77" y="262.93" width="4.7" height="4.4" rx="0.7"/><circle class="pt" cx="285.12" cy="265.12" r="2.25"/><rect class="pt" x="291.11" y="268.8" width="4.7" height="4.4" rx="0.7"/><circle class="pt" cx="293.46" cy="271" r="2.25"/><rect class="pt" x="299.8" y="275.05" width="4.7" height="4.4" rx="0.7"/><circle class="pt" cx="302.15" cy="277.25" r="2.25"/><rect class="pt" x="308.8" y="281.43" width="4.7" height="4.4" rx="0.7"/><circle class="pt" cx="311.15" cy="283.62" r="2.25"/><rect class="pt" x="318.09" y="287.43" width="4.7" height="4.65" rx="0.7"/><circle class="pt" cx="320.44" cy="289.75" r="2.25"/><rect class="pt" x="327.63" y="293.93" width="4.7" height="4.65" rx="0.7"/><circle class="pt" cx="329.98" cy="296.25" r="2.25"/><rect class="pt" x="337.4" y="300.3" width="4.7" height="4.65" rx="0.7"/><circle class="pt" cx="339.75" cy="302.62" r="2.25"/><rect class="pt" x="347.38" y="306.8" width="4.7" height="4.65" rx="0.7"/><circle class="pt" cx="349.73" cy="309.12" r="2.25"/>
<text class="t" text-anchor="middle" x="231.5" y="350">0.00</text>
<text class="t" text-anchor="middle" x="294" y="350">0.05</text>
<text class="t" text-anchor="middle" x="356.5" y="350">0.10</text>
<g clip-path="url(#c12)"><polygon class="fo" points="392,209.5 392,210.7 392.2,211.9 392.4,213.1 392.6,214.3 393,215.5 393.4,216.7 394,217.9 394.6,219 395.2,220.2 396,221.3 396.8,222.5 399,225.4 401,227.9 403,230.1 405,232 407,233.7 409,235.6 411,237.5 413,239.2 415,240.8 417,242.4 419,243.9 421,245.4 423,247 425,248.6 427,250.3 429,252 431,253.7 433,255.4 435,257 437,258.7 439,260.4 441,262 443,263.7 445,265.3 447,267 449,268.6 451,270.3 453,272 455,273.6 457,275.2 459,276.8 461,278.5 463,280.2 465,281.9 467,283.7 469,285.4 471,287.2 473,289 475,290.8 477,292.6 479,294.4 481,296.2 483,298 485,299.9 487,301.8 489,303.7 491,305.6 493,307.5 495,309.5 497,311.4 499,313.4 501,315.3 503,317.3 505,319.2 507,321.2 509,323.1 511,325 513,327 515,328.9 517,330.8 519,332.7 519,410.9 517,407.1 515,403.4 513,399.6 511,395.9 509,392.2 507,388.4 505,384.7 503,381 501,377.2 499,373.5 497,369.8 495,366 493,362.3 491,358.5 489,354.8 487,351.1 485,347.3 483,343.6 481,339.9 479,336.1 477,332.5 475,329.2 473,326 471,322.8 469,319.4 467,315.8 465,312.2 463,308.6 461,305.1 459,301.7 457,298.4 455,295.2 453,292 451,288.8 449,285.7 447,282.6 445,279.6 443,276.6 441,273.6 439,270.6 437,267.7 435,264.8 433,261.8 431,259 429,256.5 427,253.9 425,250.8 423,247.1 421,243.3 419,241 417,239.1 415,237 413,234.7 411,232.3 409,229.9 407,227.6 405,225.4 403,223.2 401,221.2 399,219.2 396.8,217 396,216.2 395.2,215.4 394.6,214.7 394,214 393.4,213.3 393,212.6 392.6,212 392.4,211.4 392.2,210.7 392,210.1 392,209.5"/><polygon class="fp" points="392,209.5 392,210.7 392.2,211.9 392.4,213.1 392.6,214.3 393,215.5 393.4,216.7 394,217.9 394.6,219 395.2,220.2 396,221.3 396.8,222.5 399,225.4 401,227.9 403,230.1 405,232 407,233.7 409,235.6 411,237.5 413,239.2 415,240.8 417,242.4 419,243.9 421,245.4 423,247 425,248.6 427,250.2 429,251.9 431,253.6 433,255.3 435,257 437,258.6 439,260.3 441,261.9 443,263.5 445,265 447,266.6 449,268.2 451,269.8 453,271.3 455,272.9 457,274.5 459,276 461,277.6 463,279.2 465,280.8 467,282.4 469,284 471,285.6 473,287.2 475,288.9 477,290.5 479,292.1 481,293.7 483,295.3 485,296.9 487,298.5 489,300 491,301.5 493,303.1 495,304.6 497,306 499,307.4 501,308.7 503,310.1 505,311.3 507,312.6 509,313.9 511,315.2 513,316.5 515,317.7 517,319 519,320.3 519,347.9 517,345.7 515,343.5 513,341.3 511,339.1 509,336.9 507,334.7 505,332.5 503,330.3 501,328.1 499,325.9 497,323.7 495,321.5 493,319.3 491,317.1 489,314.8 487,312.6 485,310.4 483,308.2 481,306 479,303.8 477,301.6 475,299.4 473,297.2 471,295 469,292.8 467,290.6 465,288.4 463,286.2 461,284 459,281.8 457,279.6 455,277.5 453,275.4 451,273.4 449,271.4 447,269.3 445,267.3 443,265.3 441,263.3 439,261.4 437,259.5 435,257.7 433,256 431,254.3 429,252.6 427,250.9 425,249 423,247 421,244.8 419,242.6 417,240.3 415,238.1 413,235.8 411,233.6 409,231.3 407,229 405,226.7 403,224.4 401,222 399,219.5 396.8,216.6 396,215.5 395.2,214.5 394.6,213.7 394,212.9 393.4,212.2 393,211.7 392.6,211.2 392.4,210.7 392.2,210.3 392,209.9 392,209.5"/><polygon class="fr" points="392,209.5 392,210.7 392.2,211.9 392.4,213.1 392.6,214.3 393,215.5 393.4,216.7 394,217.9 394.6,219 395.2,220.2 396,221.3 396.8,222.5 399,225.4 401,227.9 403,230.1 405,232 407,233.7 409,235.6 411,237.5 413,239.2 415,240.8 417,242.4 419,243.9 421,245.4 423,247 425,248.6 427,250.2 429,251.8 431,253.4 433,255 435,256.7 437,258.4 439,260 441,261.6 443,263.2 445,264.8 447,266.3 449,267.9 451,269.4 453,271 455,272.6 457,274.2 459,275.7 461,277.3 463,278.9 465,280.5 467,282 469,283.7 471,285.3 473,286.9 475,288.6 477,290.3 479,292 481,293.8 483,295.5 485,297.3 487,299.1 489,300.9 491,302.7 493,304.5 495,306.3 497,308.2 499,310.1 501,312 503,313.9 505,315.8 507,317.7 509,319.7 511,321.6 513,323.5 515,325.4 517,327.3 519,329.2 519,336.7 517,334.6 515,332.6 513,330.5 511,328.5 509,326.5 507,324.5 505,322.5 503,320.5 501,318.5 499,316.5 497,314.5 495,312.5 493,310.5 491,308.5 489,306.5 487,304.5 485,302.5 483,300.5 481,298.6 479,296.7 477,294.8 475,292.9 473,291 471,289 469,287.1 467,285.2 465,283.3 463,281.4 461,279.6 459,277.9 457,276.2 455,274.6 453,272.9 451,271.2 449,269.4 447,267.7 445,265.9 443,264.2 441,262.5 439,260.8 437,259.1 435,257.4 433,255.7 431,253.9 429,252.1 427,250.3 425,248.6 423,247 421,245.4 419,243.9 417,242.4 415,240.8 413,239.2 411,237.5 409,235.6 407,233.7 405,232 403,230.1 401,227.9 399,225.4 396.8,222.5 396,221.3 395.2,220.2 394.6,219 394,217.9 393.4,216.7 393,215.5 392.6,214.3 392.4,213.1 392.2,211.9 392,210.7 392,209.5"/><polyline class="lo" points="392,209.5 392,210.1 392.2,210.7 392.4,211.4 392.6,212 393,212.6 393.4,213.3 394,214 394.6,214.7 395.2,215.4 396,216.2 396.8,217 399,219.2 401,221.2 403,223.2 405,225.4 407,227.6 409,229.9 411,232.3 413,234.7 415,237 417,239.1 419,241 421,243.3 423,247.1 425,250.8 427,253.9 429,256.5 431,259 433,261.8 435,264.8 437,267.7 439,270.6 441,273.6 443,276.6 445,279.6 447,282.6 449,285.7 451,288.8 453,292 455,295.2 457,298.4 459,301.7 461,305.1 463,308.6 465,312.2 467,315.8 469,319.4 471,322.8 473,326 475,329.2 477,332.5 479,336.1 481,339.9 483,343.6 485,347.3 487,351.1 489,354.8 491,358.5 493,362.3 495,366 497,369.8 499,373.5 501,377.2 503,381 505,384.7 507,388.4 509,392.2 511,395.9 513,399.6 515,403.4 517,407.1 519,410.9"/><polyline class="lo" points="392,209.5 392,210.7 392.2,211.9 392.4,213.1 392.6,214.3 393,215.5 393.4,216.7 394,217.9 394.6,219 395.2,220.2 396,221.3 396.8,222.5 399,225.4 401,227.9 403,230.1 405,232 407,233.7 409,235.6 411,237.5 413,239.2 415,240.8 417,242.4 419,243.9 421,245.4 423,247 425,248.6 427,250.3 429,252 431,253.7 433,255.4 435,257 437,258.7 439,260.4 441,262 443,263.7 445,265.3 447,267 449,268.6 451,270.3 453,272 455,273.6 457,275.2 459,276.8 461,278.5 463,280.2 465,281.9 467,283.7 469,285.4 471,287.2 473,289 475,290.8 477,292.6 479,294.4 481,296.2 483,298 485,299.9 487,301.8 489,303.7 491,305.6 493,307.5 495,309.5 497,311.4 499,313.4 501,315.3 503,317.3 505,319.2 507,321.2 509,323.1 511,325 513,327 515,328.9 517,330.8 519,332.7"/><polyline class="lp" points="392,209.5 392,209.9 392.2,210.3 392.4,210.7 392.6,211.2 393,211.7 393.4,212.2 394,212.9 394.6,213.7 395.2,214.5 396,215.5 396.8,216.6 399,219.5 401,222 403,224.4 405,226.7 407,229 409,231.3 411,233.6 413,235.8 415,238.1 417,240.3 419,242.6 421,244.8 423,247 425,249 427,250.9 429,252.6 431,254.3 433,256 435,257.7 437,259.5 439,261.4 441,263.3 443,265.3 445,267.3 447,269.3 449,271.4 451,273.4 453,275.4 455,277.5 457,279.6 459,281.8 461,284 463,286.2 465,288.4 467,290.6 469,292.8 471,295 473,297.2 475,299.4 477,301.6 479,303.8 481,306 483,308.2 485,310.4 487,312.6 489,314.8 491,317.1 493,319.3 495,321.5 497,323.7 499,325.9 501,328.1 503,330.3 505,332.5 507,334.7 509,336.9 511,339.1 513,341.3 515,343.5 517,345.7 519,347.9"/><polyline class="lp" points="392,209.5 392,210.7 392.2,211.9 392.4,213.1 392.6,214.3 393,215.5 393.4,216.7 394,217.9 394.6,219 395.2,220.2 396,221.3 396.8,222.5 399,225.4 401,227.9 403,230.1 405,232 407,233.7 409,235.6 411,237.5 413,239.2 415,240.8 417,242.4 419,243.9 421,245.4 423,247 425,248.6 427,250.2 429,251.9 431,253.6 433,255.3 435,257 437,258.6 439,260.3 441,261.9 443,263.5 445,265 447,266.6 449,268.2 451,269.8 453,271.3 455,272.9 457,274.5 459,276 461,277.6 463,279.2 465,280.8 467,282.4 469,284 471,285.6 473,287.2 475,288.9 477,290.5 479,292.1 481,293.7 483,295.3 485,296.9 487,298.5 489,300 491,301.5 493,303.1 495,304.6 497,306 499,307.4 501,308.7 503,310.1 505,311.3 507,312.6 509,313.9 511,315.2 513,316.5 515,317.7 517,319 519,320.3"/><polyline class="lr" points="392,209.5 392,210.7 392.2,211.9 392.4,213.1 392.6,214.3 393,215.5 393.4,216.7 394,217.9 394.6,219 395.2,220.2 396,221.3 396.8,222.5 399,225.4 401,227.9 403,230.1 405,232 407,233.7 409,235.6 411,237.5 413,239.2 415,240.8 417,242.4 419,243.9 421,245.4 423,247 425,248.6 427,250.3 429,252.1 431,253.9 433,255.7 435,257.4 437,259.1 439,260.8 441,262.5 443,264.2 445,265.9 447,267.7 449,269.4 451,271.2 453,272.9 455,274.6 457,276.2 459,277.9 461,279.6 463,281.4 465,283.3 467,285.2 469,287.1 471,289 473,291 475,292.9 477,294.8 479,296.7 481,298.6 483,300.5 485,302.5 487,304.5 489,306.5 491,308.5 493,310.5 495,312.5 497,314.5 499,316.5 501,318.5 503,320.5 505,322.5 507,324.5 509,326.5 511,328.5 513,330.5 515,332.6 517,334.6 519,336.7"/><polyline class="lr" points="392,209.5 392,210.7 392.2,211.9 392.4,213.1 392.6,214.3 393,215.5 393.4,216.7 394,217.9 394.6,219 395.2,220.2 396,221.3 396.8,222.5 399,225.4 401,227.9 403,230.1 405,232 407,233.7 409,235.6 411,237.5 413,239.2 415,240.8 417,242.4 419,243.9 421,245.4 423,247 425,248.6 427,250.2 429,251.8 431,253.4 433,255 435,256.7 437,258.4 439,260 441,261.6 443,263.2 445,264.8 447,266.3 449,267.9 451,269.4 453,271 455,272.6 457,274.2 459,275.7 461,277.3 463,278.9 465,280.5 467,282 469,283.7 471,285.3 473,286.9 475,288.6 477,290.3 479,292 481,293.8 483,295.5 485,297.3 487,299.1 489,300.9 491,302.7 493,304.5 495,306.3 497,308.2 499,310.1 501,312 503,313.9 505,315.8 507,317.7 509,319.7 511,321.6 513,323.5 515,325.4 517,327.3 519,329.2"/></g>
<rect class="fr0" x="392" y="209.5" width="125" height="125"/>
<path class="tk" d="M454.5 334v-3.3M392.5 309.5h3.3M392.5 284.5h3.3M392.5 259.5h3.3M392.5 234.5h3.3"/>
<circle class="pt" cx="393.78" cy="217.25" r="2.25"/><circle class="pt" cx="395.98" cy="221.25" r="2.25"/><circle class="pt" cx="399.02" cy="225.12" r="2.25"/><circle class="pt" cx="402.86" cy="229.75" r="2.25"/><rect class="pt" x="405.09" y="232.43" width="4.7" height="3.15" rx="0.7"/><circle class="pt" cx="407.44" cy="234" r="2.25"/><rect class="pt" x="410.36" y="237.05" width="4.7" height="3.4" rx="0.7"/><circle class="pt" cx="412.71" cy="238.75" r="2.25"/><rect class="pt" x="416.28" y="241.68" width="4.7" height="3.65" rx="0.7"/><circle class="pt" cx="418.63" cy="243.5" r="2.25"/><rect class="pt" x="422.78" y="246.68" width="4.7" height="3.9" rx="0.7"/><circle class="pt" cx="425.13" cy="248.62" r="2.25"/><rect class="pt" x="429.81" y="251.93" width="4.7" height="4.15" rx="0.7"/><circle class="pt" cx="432.16" cy="254" r="2.25"/><rect class="pt" x="437.32" y="257.3" width="4.7" height="4.4" rx="0.7"/><circle class="pt" cx="439.67" cy="259.5" r="2.25"/><rect class="pt" x="445.27" y="262.93" width="4.7" height="4.4" rx="0.7"/><circle class="pt" cx="447.62" cy="265.12" r="2.25"/><rect class="pt" x="453.61" y="268.8" width="4.7" height="4.4" rx="0.7"/><circle class="pt" cx="455.96" cy="271" r="2.25"/><rect class="pt" x="462.3" y="275.05" width="4.7" height="4.4" rx="0.7"/><circle class="pt" cx="464.65" cy="277.25" r="2.25"/><rect class="pt" x="471.3" y="281.43" width="4.7" height="4.4" rx="0.7"/><circle class="pt" cx="473.65" cy="283.62" r="2.25"/><rect class="pt" x="480.59" y="287.43" width="4.7" height="4.65" rx="0.7"/><circle class="pt" cx="482.94" cy="289.75" r="2.25"/><rect class="pt" x="490.13" y="293.93" width="4.7" height="4.65" rx="0.7"/><circle class="pt" cx="492.48" cy="296.25" r="2.25"/><rect class="pt" x="499.9" y="300.3" width="4.7" height="4.65" rx="0.7"/><circle class="pt" cx="502.25" cy="302.62" r="2.25"/><rect class="pt" x="509.88" y="306.8" width="4.7" height="4.65" rx="0.7"/><circle class="pt" cx="512.23" cy="309.12" r="2.25"/>
<text class="t" text-anchor="middle" x="394" y="350">0.00</text>
<text class="t" text-anchor="middle" x="456.5" y="350">0.05</text>
<text class="t" text-anchor="middle" x="519" y="350">0.10</text>
<rect x="266.5" y="186" width="31.2" height="26.9" fill="#ffffd9" stroke="#1c1c1c" stroke-width="1.3"/>
<text class="l" x="270.7" y="204"><tspan font-style="italic">S</tspan><tspan font-size="9.8px" dy="2.2">31</tspan></text>
<g clip-path="url(#c20)"><polygon class="fo" points="67.5,389.5 67.5,389.5 67.7,389.5 67.9,389.5 68.1,389.5 68.5,389.5 68.9,389.4 69.5,389.3 70.1,389.2 70.7,389 71.5,388.8 72.3,388.6 74.5,387.7 76.5,386.8 78.5,385.8 80.5,384.7 82.5,383.5 84.5,382.2 86.5,380.8 88.5,379.4 90.5,377.9 92.5,376.4 94.5,374.9 96.5,373.3 98.5,371.8 100.5,370.2 102.5,368.6 104.5,366.9 106.5,365.3 108.5,363.7 110.5,362 112.5,360.4 114.5,358.8 116.5,357.1 118.5,355.5 120.5,353.8 122.5,352.2 124.5,350.5 126.5,348.9 128.5,347.3 130.5,345.6 132.5,344 134.5,342.4 136.5,340.8 138.5,339.2 140.5,337.6 142.5,336 144.5,334.5 146.5,332.9 148.5,331.3 150.5,329.8 152.5,328.2 154.5,326.7 156.5,325.2 158.5,323.7 160.5,322.2 162.5,320.7 164.5,319.2 166.5,317.7 168.5,316.3 170.5,314.8 172.5,313.4 174.5,311.9 176.5,310.5 178.5,309.1 180.5,307.7 182.5,306.3 184.5,304.9 186.5,303.5 188.5,302.2 190.5,300.8 192.5,299.5 194.5,298.2 194.5,564.5 192.5,561.4 190.5,558.4 188.5,555.3 186.5,552.3 184.5,549.2 182.5,546.2 180.5,543.1 178.5,540.1 176.5,537 174.5,534 172.5,530.9 170.5,527.9 168.5,524.8 166.5,521.8 164.5,518.7 162.5,515.7 160.5,512.6 158.5,509.6 156.5,506.5 154.5,503.5 152.5,500.5 150.5,497.5 148.5,494.5 146.5,491.4 144.5,488.3 142.5,485.2 140.5,482.1 138.5,479 136.5,476 134.5,473 132.5,470 130.5,467.1 128.5,464.2 126.5,461.3 124.5,458.5 122.5,455.6 120.5,452.6 118.5,449.7 116.5,446.6 114.5,443.6 112.5,440.4 110.5,437.3 108.5,434.3 106.5,431.3 104.5,428.4 102.5,425.6 100.5,422.9 98.5,420.2 96.5,417.6 94.5,415 92.5,412.5 90.5,410 88.5,407.6 86.5,405.2 84.5,402.9 82.5,400.8 80.5,398.8 78.5,397 76.5,395.4 74.5,393.8 72.3,392.3 71.5,391.8 70.7,391.4 70.1,391 69.5,390.6 68.9,390.4 68.5,390.1 68.1,390 67.9,389.8 67.7,389.7 67.5,389.6 67.5,389.5"/><polygon class="fp" points="67.5,389.5 67.5,389.5 67.7,389.6 67.9,389.6 68.1,389.7 68.5,389.8 68.9,390 69.5,390.2 70.1,390.4 70.7,390.7 71.5,391 72.3,391.3 74.5,392.4 76.5,393.5 78.5,394.7 80.5,395.9 82.5,397.1 84.5,398.3 86.5,399.5 88.5,400.7 90.5,401.9 92.5,402.9 94.5,403.9 96.5,404.8 98.5,405.6 100.5,406.3 102.5,406.9 104.5,407.5 106.5,408.1 108.5,408.5 110.5,408.8 112.5,409.1 114.5,409.2 116.5,409.4 118.5,409.4 120.5,409.3 122.5,409.1 124.5,408.9 126.5,408.6 128.5,408.2 130.5,407.7 132.5,407.2 134.5,406.6 136.5,405.9 138.5,405.1 140.5,404.2 142.5,403.2 144.5,402.2 146.5,401.1 148.5,399.9 150.5,398.7 152.5,397.3 154.5,395.8 156.5,394.1 158.5,392.3 160.5,390.3 162.5,388.1 164.5,385.8 166.5,383.4 168.5,381.1 170.5,378.8 172.5,376.4 174.5,374.1 176.5,371.8 178.5,369.4 180.5,367.1 182.5,364.8 184.5,362.4 186.5,360.1 188.5,357.8 190.5,355.4 192.5,353.1 194.5,350.8 194.5,701 192.5,695.4 190.5,689.8 188.5,684.2 186.5,678.6 184.5,673 182.5,667.5 180.5,661.9 178.5,656.3 176.5,650.7 174.5,645.1 172.5,639.5 170.5,633.9 168.5,628.3 166.5,622.7 164.5,617.1 162.5,611.5 160.5,606 158.5,600.4 156.5,594.8 154.5,589.2 152.5,583.6 150.5,578 148.5,572.4 146.5,566.8 144.5,561.2 142.5,555.6 140.5,550.1 138.5,544.5 136.5,538.9 134.5,533.3 132.5,527.7 130.5,522.1 128.5,516.5 126.5,510.9 124.5,505.3 122.5,499.6 120.5,493.9 118.5,488.2 116.5,482.6 114.5,477.1 112.5,471.8 110.5,466.8 108.5,462 106.5,457.4 104.5,452.8 102.5,448.3 100.5,443.8 98.5,439.2 96.5,434.7 94.5,430.2 92.5,425.7 90.5,421.3 88.5,417 86.5,413 84.5,409.4 82.5,406.2 80.5,403.2 78.5,400.4 76.5,397.8 74.5,395.3 72.3,393.2 71.5,392.5 70.7,391.9 70.1,391.3 69.5,390.9 68.9,390.6 68.5,390.3 68.1,390.1 67.9,389.9 67.7,389.7 67.5,389.6 67.5,389.5"/><polygon class="fr" points="67.5,389.5 67.5,389.5 67.7,389.6 67.9,389.7 68.1,389.8 68.5,389.9 68.9,390.1 69.5,390.3 70.1,390.6 70.7,390.9 71.5,391.3 72.3,391.8 74.5,393.1 76.5,394.4 78.5,395.9 80.5,397.4 82.5,399 84.5,400.5 86.5,402 88.5,403.5 90.5,405.1 92.5,406.7 94.5,408.4 96.5,410 98.5,411.6 100.5,413.2 102.5,414.9 104.5,416.6 106.5,418.3 108.5,419.7 110.5,421 112.5,422.4 114.5,423.8 116.5,424.9 118.5,425.7 120.5,426.4 122.5,427.1 124.5,427.7 126.5,428.2 128.5,428.5 130.5,428.7 132.5,428.8 134.5,428.8 136.5,428.7 138.5,428.3 140.5,427.8 142.5,427.3 144.5,426.5 146.5,425.7 148.5,424.6 150.5,423.4 152.5,421.9 154.5,420.4 156.5,418.6 158.5,416.8 160.5,414.9 162.5,412.9 164.5,410.7 166.5,408.4 168.5,406 170.5,403.4 172.5,400.7 174.5,397.8 176.5,394.8 178.5,391.6 180.5,388.3 182.5,384.9 184.5,381.4 186.5,377.9 188.5,374.4 190.5,370.9 192.5,367.4 194.5,363.9 194.5,518.3 192.5,517.3 190.5,516.3 188.5,515.2 186.5,514.3 184.5,513.3 182.5,512.3 180.5,511.2 178.5,509.9 176.5,508.6 174.5,507.3 172.5,505.8 170.5,504.3 168.5,502.8 166.5,501.3 164.5,499.7 162.5,498 160.5,496.3 158.5,494.6 156.5,492.7 154.5,490.8 152.5,488.8 150.5,486.7 148.5,484.6 146.5,482.5 144.5,480.3 142.5,478.1 140.5,475.9 138.5,473.7 136.5,471.3 134.5,468.9 132.5,466.4 130.5,463.7 128.5,461 126.5,458.5 124.5,455.9 122.5,453.1 120.5,450.3 118.5,447.5 116.5,444.8 114.5,442.1 112.5,439.2 110.5,436.4 108.5,433.6 106.5,430.8 104.5,427.9 102.5,425.1 100.5,422.4 98.5,419.8 96.5,417.2 94.5,414.7 92.5,412.2 90.5,409.8 88.5,407.4 86.5,405.1 84.5,402.9 82.5,400.8 80.5,398.8 78.5,397 76.5,395.4 74.5,393.8 72.3,392.3 71.5,391.8 70.7,391.4 70.1,391 69.5,390.6 68.9,390.4 68.5,390.1 68.1,390 67.9,389.8 67.7,389.7 67.5,389.6 67.5,389.5"/><polyline class="lo" points="67.5,389.5 67.5,389.6 67.7,389.7 67.9,389.8 68.1,390 68.5,390.1 68.9,390.4 69.5,390.6 70.1,391 70.7,391.4 71.5,391.8 72.3,392.3 74.5,393.8 76.5,395.4 78.5,397 80.5,398.8 82.5,400.8 84.5,402.9 86.5,405.2 88.5,407.6 90.5,410 92.5,412.5 94.5,415 96.5,417.6 98.5,420.2 100.5,422.9 102.5,425.6 104.5,428.4 106.5,431.3 108.5,434.3 110.5,437.3 112.5,440.4 114.5,443.6 116.5,446.6 118.5,449.7 120.5,452.6 122.5,455.6 124.5,458.5 126.5,461.3 128.5,464.2 130.5,467.1 132.5,470 134.5,473 136.5,476 138.5,479 140.5,482.1 142.5,485.2 144.5,488.3 146.5,491.4 148.5,494.5 150.5,497.5 152.5,500.5 154.5,503.5 156.5,506.5 158.5,509.6 160.5,512.6 162.5,515.7 164.5,518.7 166.5,521.8 168.5,524.8 170.5,527.9 172.5,530.9 174.5,534 176.5,537 178.5,540.1 180.5,543.1 182.5,546.2 184.5,549.2 186.5,552.3 188.5,555.3 190.5,558.4 192.5,561.4 194.5,564.5"/><polyline class="lo" points="67.5,389.5 67.5,389.5 67.7,389.5 67.9,389.5 68.1,389.5 68.5,389.5 68.9,389.4 69.5,389.3 70.1,389.2 70.7,389 71.5,388.8 72.3,388.6 74.5,387.7 76.5,386.8 78.5,385.8 80.5,384.7 82.5,383.5 84.5,382.2 86.5,380.8 88.5,379.4 90.5,377.9 92.5,376.4 94.5,374.9 96.5,373.3 98.5,371.8 100.5,370.2 102.5,368.6 104.5,366.9 106.5,365.3 108.5,363.7 110.5,362 112.5,360.4 114.5,358.8 116.5,357.1 118.5,355.5 120.5,353.8 122.5,352.2 124.5,350.5 126.5,348.9 128.5,347.3 130.5,345.6 132.5,344 134.5,342.4 136.5,340.8 138.5,339.2 140.5,337.6 142.5,336 144.5,334.5 146.5,332.9 148.5,331.3 150.5,329.8 152.5,328.2 154.5,326.7 156.5,325.2 158.5,323.7 160.5,322.2 162.5,320.7 164.5,319.2 166.5,317.7 168.5,316.3 170.5,314.8 172.5,313.4 174.5,311.9 176.5,310.5 178.5,309.1 180.5,307.7 182.5,306.3 184.5,304.9 186.5,303.5 188.5,302.2 190.5,300.8 192.5,299.5 194.5,298.2"/><polyline class="lp" points="67.5,389.5 67.5,389.6 67.7,389.7 67.9,389.9 68.1,390.1 68.5,390.3 68.9,390.6 69.5,390.9 70.1,391.3 70.7,391.9 71.5,392.5 72.3,393.2 74.5,395.3 76.5,397.8 78.5,400.4 80.5,403.2 82.5,406.2 84.5,409.4 86.5,413 88.5,417 90.5,421.3 92.5,425.7 94.5,430.2 96.5,434.7 98.5,439.2 100.5,443.8 102.5,448.3 104.5,452.8 106.5,457.4 108.5,462 110.5,466.8 112.5,471.8 114.5,477.1 116.5,482.6 118.5,488.2 120.5,493.9 122.5,499.6 124.5,505.3 126.5,510.9 128.5,516.5 130.5,522.1 132.5,527.7 134.5,533.3 136.5,538.9 138.5,544.5 140.5,550.1 142.5,555.6 144.5,561.2 146.5,566.8 148.5,572.4 150.5,578 152.5,583.6 154.5,589.2 156.5,594.8 158.5,600.4 160.5,606 162.5,611.5 164.5,617.1 166.5,622.7 168.5,628.3 170.5,633.9 172.5,639.5 174.5,645.1 176.5,650.7 178.5,656.3 180.5,661.9 182.5,667.5 184.5,673 186.5,678.6 188.5,684.2 190.5,689.8 192.5,695.4 194.5,701"/><polyline class="lp" points="67.5,389.5 67.5,389.5 67.7,389.6 67.9,389.6 68.1,389.7 68.5,389.8 68.9,390 69.5,390.2 70.1,390.4 70.7,390.7 71.5,391 72.3,391.3 74.5,392.4 76.5,393.5 78.5,394.7 80.5,395.9 82.5,397.1 84.5,398.3 86.5,399.5 88.5,400.7 90.5,401.9 92.5,402.9 94.5,403.9 96.5,404.8 98.5,405.6 100.5,406.3 102.5,406.9 104.5,407.5 106.5,408.1 108.5,408.5 110.5,408.8 112.5,409.1 114.5,409.2 116.5,409.4 118.5,409.4 120.5,409.3 122.5,409.1 124.5,408.9 126.5,408.6 128.5,408.2 130.5,407.7 132.5,407.2 134.5,406.6 136.5,405.9 138.5,405.1 140.5,404.2 142.5,403.2 144.5,402.2 146.5,401.1 148.5,399.9 150.5,398.7 152.5,397.3 154.5,395.8 156.5,394.1 158.5,392.3 160.5,390.3 162.5,388.1 164.5,385.8 166.5,383.4 168.5,381.1 170.5,378.8 172.5,376.4 174.5,374.1 176.5,371.8 178.5,369.4 180.5,367.1 182.5,364.8 184.5,362.4 186.5,360.1 188.5,357.8 190.5,355.4 192.5,353.1 194.5,350.8"/><polyline class="lr" points="67.5,389.5 67.5,389.6 67.7,389.7 67.9,389.8 68.1,390 68.5,390.1 68.9,390.4 69.5,390.6 70.1,391 70.7,391.4 71.5,391.8 72.3,392.3 74.5,393.8 76.5,395.4 78.5,397 80.5,398.8 82.5,400.8 84.5,402.9 86.5,405.1 88.5,407.4 90.5,409.8 92.5,412.2 94.5,414.7 96.5,417.2 98.5,419.8 100.5,422.4 102.5,425.1 104.5,427.9 106.5,430.8 108.5,433.6 110.5,436.4 112.5,439.2 114.5,442.1 116.5,444.8 118.5,447.5 120.5,450.3 122.5,453.1 124.5,455.9 126.5,458.5 128.5,461 130.5,463.7 132.5,466.4 134.5,468.9 136.5,471.3 138.5,473.7 140.5,475.9 142.5,478.1 144.5,480.3 146.5,482.5 148.5,484.6 150.5,486.7 152.5,488.8 154.5,490.8 156.5,492.7 158.5,494.6 160.5,496.3 162.5,498 164.5,499.7 166.5,501.3 168.5,502.8 170.5,504.3 172.5,505.8 174.5,507.3 176.5,508.6 178.5,509.9 180.5,511.2 182.5,512.3 184.5,513.3 186.5,514.3 188.5,515.2 190.5,516.3 192.5,517.3 194.5,518.3"/><polyline class="lr" points="67.5,389.5 67.5,389.5 67.7,389.6 67.9,389.7 68.1,389.8 68.5,389.9 68.9,390.1 69.5,390.3 70.1,390.6 70.7,390.9 71.5,391.3 72.3,391.8 74.5,393.1 76.5,394.4 78.5,395.9 80.5,397.4 82.5,399 84.5,400.5 86.5,402 88.5,403.5 90.5,405.1 92.5,406.7 94.5,408.4 96.5,410 98.5,411.6 100.5,413.2 102.5,414.9 104.5,416.6 106.5,418.3 108.5,419.7 110.5,421 112.5,422.4 114.5,423.8 116.5,424.9 118.5,425.7 120.5,426.4 122.5,427.1 124.5,427.7 126.5,428.2 128.5,428.5 130.5,428.7 132.5,428.8 134.5,428.8 136.5,428.7 138.5,428.3 140.5,427.8 142.5,427.3 144.5,426.5 146.5,425.7 148.5,424.6 150.5,423.4 152.5,421.9 154.5,420.4 156.5,418.6 158.5,416.8 160.5,414.9 162.5,412.9 164.5,410.7 166.5,408.4 168.5,406 170.5,403.4 172.5,400.7 174.5,397.8 176.5,394.8 178.5,391.6 180.5,388.3 182.5,384.9 184.5,381.4 186.5,377.9 188.5,374.4 190.5,370.9 192.5,367.4 194.5,363.9"/></g>
<rect class="fr0" x="67.5" y="389.5" width="125" height="125"/>
<path class="tk" d="M130 514v-3.3M68 483.25h3.3M68 452h3.3M68 420.75h3.3"/>
<circle class="pt" cx="69.28" cy="390.38" r="2.25"/><circle class="pt" cx="71.48" cy="391.5" r="2.25"/><circle class="pt" cx="74.52" cy="393.19" r="2.25"/><rect class="pt" x="76.01" y="394.36" width="4.7" height="3.27" rx="0.7"/><circle class="pt" cx="78.36" cy="396" r="2.25"/><rect class="pt" x="80.59" y="398.24" width="4.7" height="3.9" rx="0.7"/><circle class="pt" cx="82.94" cy="400.19" r="2.25"/><rect class="pt" x="85.86" y="402.93" width="4.7" height="4.53" rx="0.7"/><circle class="pt" cx="88.21" cy="405.19" r="2.25"/><rect class="pt" x="91.78" y="408.3" width="4.7" height="5.4" rx="0.7"/><circle class="pt" cx="94.13" cy="411" r="2.25"/><path class="eb" d="M100.63 414.5V420.12M98.33 414.5h4.6M98.33 420.12h4.6"/><circle class="pt" cx="100.63" cy="417.31" r="2.25"/><path class="eb" d="M107.66 420.19V427.56M105.36 420.19h4.6M105.36 427.56h4.6"/><circle class="pt" cx="107.66" cy="423.88" r="2.25"/><path class="eb" d="M115.17 426.56V435.44M112.87 426.56h4.6M112.87 435.44h4.6"/><circle class="pt" cx="115.17" cy="431" r="2.25"/><path class="eb" d="M123.12 432.56V442.31M120.82 432.56h4.6M120.82 442.31h4.6"/><circle class="pt" cx="123.12" cy="437.44" r="2.25"/><path class="eb" d="M131.46 437.69V449.31M129.16 437.69h4.6M129.16 449.31h4.6"/><circle class="pt" cx="131.46" cy="443.5" r="2.25"/><path class="eb" d="M140.15 441.44V455.56M137.85 441.44h4.6M137.85 455.56h4.6"/><circle class="pt" cx="140.15" cy="448.5" r="2.25"/><path class="eb" d="M149.15 443.81V460.19M146.85 443.81h4.6M146.85 460.19h4.6"/><circle class="pt" cx="149.15" cy="452" r="2.25"/><path class="eb" d="M158.44 445.31V463.31M156.14 445.31h4.6M156.14 463.31h4.6"/><circle class="pt" cx="158.44" cy="454.31" r="2.25"/><path class="eb" d="M167.98 444.88V465.75M165.68 444.88h4.6M165.68 465.75h4.6"/><circle class="pt" cx="167.98" cy="455.31" r="2.25"/><path class="eb" d="M177.75 442.5V465.5M175.45 442.5h4.6M175.45 465.5h4.6"/><circle class="pt" cx="177.75" cy="454" r="2.25"/><path class="eb" d="M187.73 437.69V463.69M185.43 437.69h4.6M185.43 463.69h4.6"/><circle class="pt" cx="187.73" cy="450.69" r="2.25"/>
<text class="t" text-anchor="middle" x="69.5" y="530">0.00</text>
<text class="t" text-anchor="middle" x="132" y="530">0.05</text>
<text class="t" text-anchor="middle" x="194.5" y="530">0.10</text>
<text class="t" text-anchor="end" x="62.3" y="518.5">−2.0</text>
<text class="t" text-anchor="end" x="62.3" y="487.25">−1.5</text>
<text class="t" text-anchor="end" x="62.3" y="456">−1.0</text>
<text class="t" text-anchor="end" x="62.3" y="424.75">−0.5</text>
<text class="t" text-anchor="end" x="62.3" y="393.5">0.0</text>
<g clip-path="url(#c21)"><polygon class="fo" points="229.5,389.5 229.5,389.5 229.7,389.5 229.9,389.5 230.1,389.5 230.5,389.5 230.9,389.4 231.5,389.3 232.1,389.2 232.7,389 233.5,388.8 234.3,388.6 236.5,387.7 238.5,386.8 240.5,385.8 242.5,384.7 244.5,383.5 246.5,382.2 248.5,380.8 250.5,379.4 252.5,377.9 254.5,376.4 256.5,374.9 258.5,373.3 260.5,371.8 262.5,370.2 264.5,368.6 266.5,366.9 268.5,365.3 270.5,363.7 272.5,362 274.5,360.4 276.5,358.8 278.5,357.1 280.5,355.5 282.5,353.8 284.5,352.2 286.5,350.5 288.5,348.9 290.5,347.3 292.5,345.6 294.5,344 296.5,342.4 298.5,340.8 300.5,339.2 302.5,337.6 304.5,336 306.5,334.5 308.5,332.9 310.5,331.3 312.5,329.8 314.5,328.2 316.5,326.7 318.5,325.2 320.5,323.7 322.5,322.2 324.5,320.7 326.5,319.2 328.5,317.7 330.5,316.3 332.5,314.8 334.5,313.4 336.5,311.9 338.5,310.5 340.5,309.1 342.5,307.7 344.5,306.3 346.5,304.9 348.5,303.5 350.5,302.2 352.5,300.8 354.5,299.5 356.5,298.2 356.5,461.1 354.5,460.7 352.5,460.3 350.5,459.9 348.5,459.5 346.5,459.2 344.5,458.8 342.5,458.4 340.5,458.1 338.5,457.8 336.5,457.4 334.5,457.1 332.5,456.8 330.5,456.5 328.5,456.2 326.5,455.9 324.5,455.6 322.5,455.3 320.5,455 318.5,454.7 316.5,454.4 314.5,454.1 312.5,453.8 310.5,453.4 308.5,453 306.5,452.5 304.5,452 302.5,451.4 300.5,450.8 298.5,450.1 296.5,449.3 294.5,448.5 292.5,447.5 290.5,446.4 288.5,445.2 286.5,443.8 284.5,442.4 282.5,440.9 280.5,439.3 278.5,437.6 276.5,435.8 274.5,434 272.5,432 270.5,430 268.5,427.9 266.5,425.8 264.5,423.8 262.5,421.8 260.5,419.8 258.5,417.8 256.5,415.6 254.5,413.3 252.5,410.8 250.5,408.3 248.5,405.9 246.5,403.6 244.5,401.4 242.5,399.4 240.5,397.4 238.5,395.5 236.5,393.7 234.3,392.2 233.5,391.7 232.7,391.3 232.1,390.9 231.5,390.5 230.9,390.3 230.5,390 230.1,389.9 229.9,389.7 229.7,389.6 229.5,389.6 229.5,389.5"/><polygon class="fp" points="229.5,389.5 229.5,389.5 229.7,389.6 229.9,389.6 230.1,389.7 230.5,389.8 230.9,389.9 231.5,390 232.1,390.2 232.7,390.5 233.5,390.8 234.3,391.2 236.5,392.1 238.5,393 240.5,393.9 242.5,394.8 244.5,395.7 246.5,396.4 248.5,397.1 250.5,397.7 252.5,398.2 254.5,398.6 256.5,398.9 258.5,399.1 260.5,399.2 262.5,399.2 264.5,399.1 266.5,398.9 268.5,398.5 270.5,398 272.5,397.5 274.5,396.8 276.5,396.1 278.5,395.3 280.5,394.4 282.5,393.3 284.5,392.2 286.5,391 288.5,389.8 290.5,388.5 292.5,387 294.5,385.4 296.5,383.8 298.5,382.3 300.5,380.7 302.5,379.1 304.5,377.6 306.5,376 308.5,374.4 310.5,372.8 312.5,371.3 314.5,369.7 316.5,368.1 318.5,366.6 320.5,365 322.5,363.4 324.5,361.9 326.5,360.3 328.5,358.7 330.5,357.2 332.5,355.6 334.5,354 336.5,352.5 338.5,350.9 340.5,349.3 342.5,347.8 344.5,346.2 346.5,344.6 348.5,343.1 350.5,341.5 352.5,339.9 354.5,338.3 356.5,336.8 356.5,623.6 354.5,619.6 352.5,615.6 350.5,611.5 348.5,607.5 346.5,603.5 344.5,599.5 342.5,595.4 340.5,591.4 338.5,587.4 336.5,583.4 334.5,579.3 332.5,575.3 330.5,571.3 328.5,567.3 326.5,563.2 324.5,559.2 322.5,555.2 320.5,551.2 318.5,547.1 316.5,543.1 314.5,539.1 312.5,535.1 310.5,531.1 308.5,527 306.5,523 304.5,519 302.5,514.9 300.5,510.8 298.5,506.8 296.5,502.6 294.5,498.4 292.5,494 290.5,489.6 288.5,485.1 286.5,480.7 284.5,476.5 282.5,472.4 280.5,468.3 278.5,464.2 276.5,460.1 274.5,456 272.5,452 270.5,448.1 268.5,444.3 266.5,440.5 264.5,436.7 262.5,432.9 260.5,429.1 258.5,425.4 256.5,421.8 254.5,418.3 252.5,414.9 250.5,411.8 248.5,408.8 246.5,406 244.5,403.4 242.5,401 240.5,398.8 238.5,396.6 236.5,394.6 234.3,392.8 233.5,392.1 232.7,391.6 232.1,391.2 231.5,390.8 230.9,390.5 230.5,390.2 230.1,390 229.9,389.8 229.7,389.7 229.5,389.6 229.5,389.5"/><polygon class="fr" points="229.5,389.5 229.5,389.5 229.7,389.6 229.9,389.7 230.1,389.8 230.5,389.9 230.9,390.1 231.5,390.3 232.1,390.6 232.7,390.9 233.5,391.3 234.3,391.8 236.5,393.1 238.5,394.5 240.5,396.1 242.5,397.8 244.5,399.7 246.5,401.5 248.5,403.5 250.5,405.5 252.5,407.5 254.5,409.6 256.5,411.5 258.5,413.4 260.5,415.3 262.5,417.1 264.5,418.8 266.5,420.5 268.5,422 270.5,423.6 272.5,425 274.5,426.3 276.5,427.6 278.5,428.7 280.5,429.6 282.5,430.4 284.5,431 286.5,431.4 288.5,431.7 290.5,432 292.5,432.2 294.5,432.2 296.5,432.1 298.5,431.8 300.5,431.2 302.5,430.3 304.5,429.2 306.5,427.8 308.5,426.1 310.5,424.2 312.5,422.1 314.5,419.8 316.5,417.3 318.5,414.7 320.5,411.9 322.5,408.9 324.5,405.9 326.5,402.7 328.5,399.6 330.5,396.5 332.5,393.3 334.5,390 336.5,386.6 338.5,383.1 340.5,379.6 342.5,376.1 344.5,372.7 346.5,369.2 348.5,365.7 350.5,362.2 352.5,358.7 354.5,355.2 356.5,351.7 356.5,465.9 354.5,468.2 352.5,470.5 350.5,472.5 348.5,474.2 346.5,475.7 344.5,477 342.5,478.2 340.5,479.3 338.5,480.3 336.5,481.2 334.5,481.9 332.5,482.4 330.5,482.8 328.5,483.1 326.5,483.2 324.5,483.3 322.5,483.2 320.5,483 318.5,482.6 316.5,482.1 314.5,481.4 312.5,480.6 310.5,479.7 308.5,478.6 306.5,477.4 304.5,476.1 302.5,474.6 300.5,473.1 298.5,471.4 296.5,469.6 294.5,467.7 292.5,465.8 290.5,463.8 288.5,461.8 286.5,459.8 284.5,457.6 282.5,455.2 280.5,452.7 278.5,449.9 276.5,447.1 274.5,444.2 272.5,441.4 270.5,438.7 268.5,436.1 266.5,433.4 264.5,430.6 262.5,427.7 260.5,424.7 258.5,421.6 256.5,418.6 254.5,415.6 252.5,412.8 250.5,410 248.5,407.4 246.5,404.8 244.5,402.4 242.5,400.2 240.5,398 238.5,395.9 236.5,394 234.3,392.3 233.5,391.8 232.7,391.4 232.1,391 231.5,390.6 230.9,390.4 230.5,390.1 230.1,390 229.9,389.8 229.7,389.7 229.5,389.6 229.5,389.5"/><polyline class="lo" points="229.5,389.5 229.5,389.6 229.7,389.6 229.9,389.7 230.1,389.9 230.5,390 230.9,390.3 231.5,390.5 232.1,390.9 232.7,391.3 233.5,391.7 234.3,392.2 236.5,393.7 238.5,395.5 240.5,397.4 242.5,399.4 244.5,401.4 246.5,403.6 248.5,405.9 250.5,408.3 252.5,410.8 254.5,413.3 256.5,415.6 258.5,417.8 260.5,419.8 262.5,421.8 264.5,423.8 266.5,425.8 268.5,427.9 270.5,430 272.5,432 274.5,434 276.5,435.8 278.5,437.6 280.5,439.3 282.5,440.9 284.5,442.4 286.5,443.8 288.5,445.2 290.5,446.4 292.5,447.5 294.5,448.5 296.5,449.3 298.5,450.1 300.5,450.8 302.5,451.4 304.5,452 306.5,452.5 308.5,453 310.5,453.4 312.5,453.8 314.5,454.1 316.5,454.4 318.5,454.7 320.5,455 322.5,455.3 324.5,455.6 326.5,455.9 328.5,456.2 330.5,456.5 332.5,456.8 334.5,457.1 336.5,457.4 338.5,457.8 340.5,458.1 342.5,458.4 344.5,458.8 346.5,459.2 348.5,459.5 350.5,459.9 352.5,460.3 354.5,460.7 356.5,461.1"/><polyline class="lo" points="229.5,389.5 229.5,389.5 229.7,389.5 229.9,389.5 230.1,389.5 230.5,389.5 230.9,389.4 231.5,389.3 232.1,389.2 232.7,389 233.5,388.8 234.3,388.6 236.5,387.7 238.5,386.8 240.5,385.8 242.5,384.7 244.5,383.5 246.5,382.2 248.5,380.8 250.5,379.4 252.5,377.9 254.5,376.4 256.5,374.9 258.5,373.3 260.5,371.8 262.5,370.2 264.5,368.6 266.5,366.9 268.5,365.3 270.5,363.7 272.5,362 274.5,360.4 276.5,358.8 278.5,357.1 280.5,355.5 282.5,353.8 284.5,352.2 286.5,350.5 288.5,348.9 290.5,347.3 292.5,345.6 294.5,344 296.5,342.4 298.5,340.8 300.5,339.2 302.5,337.6 304.5,336 306.5,334.5 308.5,332.9 310.5,331.3 312.5,329.8 314.5,328.2 316.5,326.7 318.5,325.2 320.5,323.7 322.5,322.2 324.5,320.7 326.5,319.2 328.5,317.7 330.5,316.3 332.5,314.8 334.5,313.4 336.5,311.9 338.5,310.5 340.5,309.1 342.5,307.7 344.5,306.3 346.5,304.9 348.5,303.5 350.5,302.2 352.5,300.8 354.5,299.5 356.5,298.2"/><polyline class="lp" points="229.5,389.5 229.5,389.6 229.7,389.7 229.9,389.8 230.1,390 230.5,390.2 230.9,390.5 231.5,390.8 232.1,391.2 232.7,391.6 233.5,392.1 234.3,392.8 236.5,394.6 238.5,396.6 240.5,398.8 242.5,401 244.5,403.4 246.5,406 248.5,408.8 250.5,411.8 252.5,414.9 254.5,418.3 256.5,421.8 258.5,425.4 260.5,429.1 262.5,432.9 264.5,436.7 266.5,440.5 268.5,444.3 270.5,448.1 272.5,452 274.5,456 276.5,460.1 278.5,464.2 280.5,468.3 282.5,472.4 284.5,476.5 286.5,480.7 288.5,485.1 290.5,489.6 292.5,494 294.5,498.4 296.5,502.6 298.5,506.8 300.5,510.8 302.5,514.9 304.5,519 306.5,523 308.5,527 310.5,531.1 312.5,535.1 314.5,539.1 316.5,543.1 318.5,547.1 320.5,551.2 322.5,555.2 324.5,559.2 326.5,563.2 328.5,567.3 330.5,571.3 332.5,575.3 334.5,579.3 336.5,583.4 338.5,587.4 340.5,591.4 342.5,595.4 344.5,599.5 346.5,603.5 348.5,607.5 350.5,611.5 352.5,615.6 354.5,619.6 356.5,623.6"/><polyline class="lp" points="229.5,389.5 229.5,389.5 229.7,389.6 229.9,389.6 230.1,389.7 230.5,389.8 230.9,389.9 231.5,390 232.1,390.2 232.7,390.5 233.5,390.8 234.3,391.2 236.5,392.1 238.5,393 240.5,393.9 242.5,394.8 244.5,395.7 246.5,396.4 248.5,397.1 250.5,397.7 252.5,398.2 254.5,398.6 256.5,398.9 258.5,399.1 260.5,399.2 262.5,399.2 264.5,399.1 266.5,398.9 268.5,398.5 270.5,398 272.5,397.5 274.5,396.8 276.5,396.1 278.5,395.3 280.5,394.4 282.5,393.3 284.5,392.2 286.5,391 288.5,389.8 290.5,388.5 292.5,387 294.5,385.4 296.5,383.8 298.5,382.3 300.5,380.7 302.5,379.1 304.5,377.6 306.5,376 308.5,374.4 310.5,372.8 312.5,371.3 314.5,369.7 316.5,368.1 318.5,366.6 320.5,365 322.5,363.4 324.5,361.9 326.5,360.3 328.5,358.7 330.5,357.2 332.5,355.6 334.5,354 336.5,352.5 338.5,350.9 340.5,349.3 342.5,347.8 344.5,346.2 346.5,344.6 348.5,343.1 350.5,341.5 352.5,339.9 354.5,338.3 356.5,336.8"/><polyline class="lr" points="229.5,389.5 229.5,389.6 229.7,389.7 229.9,389.8 230.1,390 230.5,390.1 230.9,390.4 231.5,390.6 232.1,391 232.7,391.4 233.5,391.8 234.3,392.3 236.5,394 238.5,395.9 240.5,398 242.5,400.2 244.5,402.4 246.5,404.8 248.5,407.4 250.5,410 252.5,412.8 254.5,415.6 256.5,418.6 258.5,421.6 260.5,424.7 262.5,427.7 264.5,430.6 266.5,433.4 268.5,436.1 270.5,438.7 272.5,441.4 274.5,444.2 276.5,447.1 278.5,449.9 280.5,452.7 282.5,455.2 284.5,457.6 286.5,459.8 288.5,461.8 290.5,463.8 292.5,465.8 294.5,467.7 296.5,469.6 298.5,471.4 300.5,473.1 302.5,474.6 304.5,476.1 306.5,477.4 308.5,478.6 310.5,479.7 312.5,480.6 314.5,481.4 316.5,482.1 318.5,482.6 320.5,483 322.5,483.2 324.5,483.3 326.5,483.2 328.5,483.1 330.5,482.8 332.5,482.4 334.5,481.9 336.5,481.2 338.5,480.3 340.5,479.3 342.5,478.2 344.5,477 346.5,475.7 348.5,474.2 350.5,472.5 352.5,470.5 354.5,468.2 356.5,465.9"/><polyline class="lr" points="229.5,389.5 229.5,389.5 229.7,389.6 229.9,389.7 230.1,389.8 230.5,389.9 230.9,390.1 231.5,390.3 232.1,390.6 232.7,390.9 233.5,391.3 234.3,391.8 236.5,393.1 238.5,394.5 240.5,396.1 242.5,397.8 244.5,399.7 246.5,401.5 248.5,403.5 250.5,405.5 252.5,407.5 254.5,409.6 256.5,411.5 258.5,413.4 260.5,415.3 262.5,417.1 264.5,418.8 266.5,420.5 268.5,422 270.5,423.6 272.5,425 274.5,426.3 276.5,427.6 278.5,428.7 280.5,429.6 282.5,430.4 284.5,431 286.5,431.4 288.5,431.7 290.5,432 292.5,432.2 294.5,432.2 296.5,432.1 298.5,431.8 300.5,431.2 302.5,430.3 304.5,429.2 306.5,427.8 308.5,426.1 310.5,424.2 312.5,422.1 314.5,419.8 316.5,417.3 318.5,414.7 320.5,411.9 322.5,408.9 324.5,405.9 326.5,402.7 328.5,399.6 330.5,396.5 332.5,393.3 334.5,390 336.5,386.6 338.5,383.1 340.5,379.6 342.5,376.1 344.5,372.7 346.5,369.2 348.5,365.7 350.5,362.2 352.5,358.7 354.5,355.2 356.5,351.7"/></g>
<rect class="fr0" x="229.5" y="389.5" width="125" height="125"/>
<path class="tk" d="M292 514v-3.3M230 483.25h3.3M230 452h3.3M230 420.75h3.3"/>
<circle class="pt" cx="231.28" cy="390.38" r="2.25"/><circle class="pt" cx="233.48" cy="391.5" r="2.25"/><circle class="pt" cx="236.52" cy="393.19" r="2.25"/><rect class="pt" x="238.01" y="394.36" width="4.7" height="3.27" rx="0.7"/><circle class="pt" cx="240.36" cy="396" r="2.25"/><rect class="pt" x="242.59" y="398.24" width="4.7" height="3.9" rx="0.7"/><circle class="pt" cx="244.94" cy="400.19" r="2.25"/><rect class="pt" x="247.86" y="402.93" width="4.7" height="4.53" rx="0.7"/><circle class="pt" cx="250.21" cy="405.19" r="2.25"/><rect class="pt" x="253.78" y="408.3" width="4.7" height="5.4" rx="0.7"/><circle class="pt" cx="256.13" cy="411" r="2.25"/><path class="eb" d="M262.63 414.5V420.12M260.33 414.5h4.6M260.33 420.12h4.6"/><circle class="pt" cx="262.63" cy="417.31" r="2.25"/><path class="eb" d="M269.66 420.19V427.56M267.36 420.19h4.6M267.36 427.56h4.6"/><circle class="pt" cx="269.66" cy="423.88" r="2.25"/><path class="eb" d="M277.17 426.56V435.44M274.87 426.56h4.6M274.87 435.44h4.6"/><circle class="pt" cx="277.17" cy="431" r="2.25"/><path class="eb" d="M285.12 432.56V442.31M282.82 432.56h4.6M282.82 442.31h4.6"/><circle class="pt" cx="285.12" cy="437.44" r="2.25"/><path class="eb" d="M293.46 437.69V449.31M291.16 437.69h4.6M291.16 449.31h4.6"/><circle class="pt" cx="293.46" cy="443.5" r="2.25"/><path class="eb" d="M302.15 441.44V455.56M299.85 441.44h4.6M299.85 455.56h4.6"/><circle class="pt" cx="302.15" cy="448.5" r="2.25"/><path class="eb" d="M311.15 443.81V460.19M308.85 443.81h4.6M308.85 460.19h4.6"/><circle class="pt" cx="311.15" cy="452" r="2.25"/><path class="eb" d="M320.44 445.31V463.31M318.14 445.31h4.6M318.14 463.31h4.6"/><circle class="pt" cx="320.44" cy="454.31" r="2.25"/><path class="eb" d="M329.98 444.88V465.75M327.68 444.88h4.6M327.68 465.75h4.6"/><circle class="pt" cx="329.98" cy="455.31" r="2.25"/><path class="eb" d="M339.75 442.5V465.5M337.45 442.5h4.6M337.45 465.5h4.6"/><circle class="pt" cx="339.75" cy="454" r="2.25"/><path class="eb" d="M349.73 437.69V463.69M347.43 437.69h4.6M347.43 463.69h4.6"/><circle class="pt" cx="349.73" cy="450.69" r="2.25"/>
<text class="t" text-anchor="middle" x="231.5" y="530">0.00</text>
<text class="t" text-anchor="middle" x="294" y="530">0.05</text>
<text class="t" text-anchor="middle" x="356.5" y="530">0.10</text>
<g clip-path="url(#c22)"><polygon class="fo" points="392,389.5 392,389.5 392.2,389.5 392.4,389.5 392.6,389.5 393,389.5 393.4,389.4 394,389.3 394.6,389.2 395.2,389 396,388.8 396.8,388.6 399,387.7 401,386.8 403,385.8 405,384.7 407,383.5 409,382.2 411,380.8 413,379.4 415,377.9 417,376.4 419,374.9 421,373.3 423,371.8 425,370.2 427,368.6 429,366.9 431,365.3 433,363.7 435,362 437,360.4 439,358.8 441,357.1 443,355.5 445,353.8 447,352.2 449,350.5 451,348.9 453,347.3 455,345.6 457,344 459,342.4 461,340.8 463,339.2 465,337.6 467,336 469,334.5 471,332.9 473,331.3 475,329.8 477,328.2 479,326.7 481,325.2 483,323.7 485,322.2 487,320.7 489,319.2 491,317.7 493,316.3 495,314.8 497,313.4 499,311.9 501,310.5 503,309.1 505,307.7 507,306.3 509,304.9 511,303.5 513,302.2 515,300.8 517,299.5 519,298.2 519,550.6 517,547.2 515,543.9 513,540.5 511,537.1 509,533.7 507,530.3 505,526.9 503,523.5 501,520.1 499,516.7 497,513.3 495,510 493,506.7 491,503.5 489,500.2 487,497 485,493.7 483,490.5 481,487.3 479,484.2 477,481.1 475,478 473,475.1 471,472.2 469,469.4 467,466.6 465,464 463,461.4 461,458.8 459,456.3 457,453.8 455,451.3 453,448.9 451,446.5 449,444.1 447,441.8 445,439.6 443,437.4 441,435.1 439,433 437,430.8 435,428.8 433,426.7 431,424.7 429,422.6 427,420.6 425,418.4 423,416.3 421,414.1 419,412 417,409.9 415,407.9 413,405.9 411,404 409,402.1 407,400.3 405,398.5 403,396.8 401,395.1 399,393.5 396.8,392.1 396,391.6 395.2,391.2 394.6,390.8 394,390.5 393.4,390.3 393,390.1 392.6,389.9 392.4,389.8 392.2,389.7 392,389.6 392,389.5"/><polygon class="fp" points="392,389.5 392,389.5 392.2,389.6 392.4,389.6 392.6,389.7 393,389.8 393.4,389.9 394,390 394.6,390.2 395.2,390.4 396,390.7 396.8,391 399,391.8 401,392.6 403,393.3 405,393.9 407,394.5 409,394.9 411,395.3 413,395.6 415,395.7 417,395.8 419,395.7 421,395.5 423,395.2 425,394.9 427,394.5 429,394 431,393.5 433,393 435,392.4 437,391.6 439,390.8 441,389.8 443,388.7 445,387.6 447,386.4 449,385.3 451,384.1 453,383 455,381.8 457,380.7 459,379.5 461,378.4 463,377.2 465,376.1 467,374.9 469,373.8 471,372.6 473,371.5 475,370.3 477,369.2 479,368 481,366.9 483,365.7 485,364.6 487,363.4 489,362.3 491,361.1 493,360 495,358.8 497,357.7 499,356.5 501,355.4 503,354.2 505,353.1 507,351.9 509,350.8 511,349.6 513,348.5 515,347.3 517,346.2 519,345 519,710.4 517,704.4 515,698.4 513,692.5 511,686.5 509,680.5 507,674.5 505,668.5 503,662.6 501,656.6 499,650.6 497,644.6 495,638.6 493,632.6 491,626.7 489,620.7 487,614.7 485,608.7 483,602.7 481,596.8 479,590.8 477,584.8 475,578.8 473,572.8 471,566.9 469,560.9 467,554.9 465,548.9 463,542.9 461,537 459,531 457,525 455,519 453,513 451,507.1 449,501.2 447,495.2 445,489.2 443,483.2 441,477.5 439,472.2 437,467.5 435,462.9 433,458.2 431,453.5 429,448.8 427,444 425,439.3 423,434.7 421,430.2 419,425.9 417,421.7 415,417.8 413,414.1 411,410.7 409,407.5 407,404.6 405,401.9 403,399.4 401,397 399,394.8 396.8,392.8 396,392.1 395.2,391.6 394.6,391.1 394,390.8 393.4,390.5 393,390.2 392.6,390 392.4,389.9 392.2,389.7 392,389.6 392,389.5"/><polygon class="fr" points="392,389.5 392,389.5 392.2,389.6 392.4,389.7 392.6,389.8 393,389.9 393.4,390.1 394,390.3 394.6,390.6 395.2,390.9 396,391.3 396.8,391.8 399,393.1 401,394.5 403,395.9 405,397.5 407,399.1 409,400.7 411,402.3 413,403.9 415,405.5 417,407.1 419,408.8 421,410.4 423,412 425,413.5 427,415 429,416.4 431,417.7 433,418.9 435,420 437,421 439,421.8 441,422.5 443,423.1 445,423.5 447,423.8 449,424 451,424 453,423.8 455,423.4 457,422.8 459,421.9 461,420.6 463,419.1 465,417.4 467,415.4 469,413.3 471,411 473,408.6 475,406.1 477,403.5 479,400.5 481,397.3 483,393.7 485,389.9 487,386 489,382 491,378 493,374.1 495,370.1 497,366.1 499,362.2 501,358.2 503,354.3 505,350.3 507,346.3 509,342.4 511,338.4 513,334.5 515,330.5 517,326.5 519,322.6 519,471.8 517,475.3 515,478.7 513,481.6 511,484 509,486 507,487.8 505,489.3 503,490.5 501,491.4 499,492 497,492.2 495,492.3 493,492.2 491,491.9 489,491.4 487,490.8 485,490 483,489.2 481,488.2 479,487.2 477,486 475,484.8 473,483.4 471,481.9 469,480.3 467,478.5 465,476.5 463,474.5 461,472.3 459,470 457,467.6 455,465.2 453,462.7 451,460.2 449,457.6 447,455.1 445,452.4 443,449.7 441,446.9 439,444.1 437,441.2 435,438.4 433,435.6 431,432.8 429,430 427,427.2 425,424.4 423,421.6 421,418.9 419,416.1 417,413.4 415,410.7 413,408.1 411,405.7 409,403.5 407,401.4 405,399.4 403,397.6 401,395.7 399,393.9 396.8,392.3 396,391.8 395.2,391.4 394.6,391 394,390.6 393.4,390.4 393,390.1 392.6,390 392.4,389.8 392.2,389.7 392,389.6 392,389.5"/><polyline class="lo" points="392,389.5 392,389.6 392.2,389.7 392.4,389.8 392.6,389.9 393,390.1 393.4,390.3 394,390.5 394.6,390.8 395.2,391.2 396,391.6 396.8,392.1 399,393.5 401,395.1 403,396.8 405,398.5 407,400.3 409,402.1 411,404 413,405.9 415,407.9 417,409.9 419,412 421,414.1 423,416.3 425,418.4 427,420.6 429,422.6 431,424.7 433,426.7 435,428.8 437,430.8 439,433 441,435.1 443,437.4 445,439.6 447,441.8 449,444.1 451,446.5 453,448.9 455,451.3 457,453.8 459,456.3 461,458.8 463,461.4 465,464 467,466.6 469,469.4 471,472.2 473,475.1 475,478 477,481.1 479,484.2 481,487.3 483,490.5 485,493.7 487,497 489,500.2 491,503.5 493,506.7 495,510 497,513.3 499,516.7 501,520.1 503,523.5 505,526.9 507,530.3 509,533.7 511,537.1 513,540.5 515,543.9 517,547.2 519,550.6"/><polyline class="lo" points="392,389.5 392,389.5 392.2,389.5 392.4,389.5 392.6,389.5 393,389.5 393.4,389.4 394,389.3 394.6,389.2 395.2,389 396,388.8 396.8,388.6 399,387.7 401,386.8 403,385.8 405,384.7 407,383.5 409,382.2 411,380.8 413,379.4 415,377.9 417,376.4 419,374.9 421,373.3 423,371.8 425,370.2 427,368.6 429,366.9 431,365.3 433,363.7 435,362 437,360.4 439,358.8 441,357.1 443,355.5 445,353.8 447,352.2 449,350.5 451,348.9 453,347.3 455,345.6 457,344 459,342.4 461,340.8 463,339.2 465,337.6 467,336 469,334.5 471,332.9 473,331.3 475,329.8 477,328.2 479,326.7 481,325.2 483,323.7 485,322.2 487,320.7 489,319.2 491,317.7 493,316.3 495,314.8 497,313.4 499,311.9 501,310.5 503,309.1 505,307.7 507,306.3 509,304.9 511,303.5 513,302.2 515,300.8 517,299.5 519,298.2"/><polyline class="lp" points="392,389.5 392,389.6 392.2,389.7 392.4,389.9 392.6,390 393,390.2 393.4,390.5 394,390.8 394.6,391.1 395.2,391.6 396,392.1 396.8,392.8 399,394.8 401,397 403,399.4 405,401.9 407,404.6 409,407.5 411,410.7 413,414.1 415,417.8 417,421.7 419,425.9 421,430.2 423,434.7 425,439.3 427,444 429,448.8 431,453.5 433,458.2 435,462.9 437,467.5 439,472.2 441,477.5 443,483.2 445,489.2 447,495.2 449,501.2 451,507.1 453,513 455,519 457,525 459,531 461,537 463,542.9 465,548.9 467,554.9 469,560.9 471,566.9 473,572.8 475,578.8 477,584.8 479,590.8 481,596.8 483,602.7 485,608.7 487,614.7 489,620.7 491,626.7 493,632.6 495,638.6 497,644.6 499,650.6 501,656.6 503,662.6 505,668.5 507,674.5 509,680.5 511,686.5 513,692.5 515,698.4 517,704.4 519,710.4"/><polyline class="lp" points="392,389.5 392,389.5 392.2,389.6 392.4,389.6 392.6,389.7 393,389.8 393.4,389.9 394,390 394.6,390.2 395.2,390.4 396,390.7 396.8,391 399,391.8 401,392.6 403,393.3 405,393.9 407,394.5 409,394.9 411,395.3 413,395.6 415,395.7 417,395.8 419,395.7 421,395.5 423,395.2 425,394.9 427,394.5 429,394 431,393.5 433,393 435,392.4 437,391.6 439,390.8 441,389.8 443,388.7 445,387.6 447,386.4 449,385.3 451,384.1 453,383 455,381.8 457,380.7 459,379.5 461,378.4 463,377.2 465,376.1 467,374.9 469,373.8 471,372.6 473,371.5 475,370.3 477,369.2 479,368 481,366.9 483,365.7 485,364.6 487,363.4 489,362.3 491,361.1 493,360 495,358.8 497,357.7 499,356.5 501,355.4 503,354.2 505,353.1 507,351.9 509,350.8 511,349.6 513,348.5 515,347.3 517,346.2 519,345"/><polyline class="lr" points="392,389.5 392,389.6 392.2,389.7 392.4,389.8 392.6,390 393,390.1 393.4,390.4 394,390.6 394.6,391 395.2,391.4 396,391.8 396.8,392.3 399,393.9 401,395.7 403,397.6 405,399.4 407,401.4 409,403.5 411,405.7 413,408.1 415,410.7 417,413.4 419,416.1 421,418.9 423,421.6 425,424.4 427,427.2 429,430 431,432.8 433,435.6 435,438.4 437,441.2 439,444.1 441,446.9 443,449.7 445,452.4 447,455.1 449,457.6 451,460.2 453,462.7 455,465.2 457,467.6 459,470 461,472.3 463,474.5 465,476.5 467,478.5 469,480.3 471,481.9 473,483.4 475,484.8 477,486 479,487.2 481,488.2 483,489.2 485,490 487,490.8 489,491.4 491,491.9 493,492.2 495,492.3 497,492.2 499,492 501,491.4 503,490.5 505,489.3 507,487.8 509,486 511,484 513,481.6 515,478.7 517,475.3 519,471.8"/><polyline class="lr" points="392,389.5 392,389.5 392.2,389.6 392.4,389.7 392.6,389.8 393,389.9 393.4,390.1 394,390.3 394.6,390.6 395.2,390.9 396,391.3 396.8,391.8 399,393.1 401,394.5 403,395.9 405,397.5 407,399.1 409,400.7 411,402.3 413,403.9 415,405.5 417,407.1 419,408.8 421,410.4 423,412 425,413.5 427,415 429,416.4 431,417.7 433,418.9 435,420 437,421 439,421.8 441,422.5 443,423.1 445,423.5 447,423.8 449,424 451,424 453,423.8 455,423.4 457,422.8 459,421.9 461,420.6 463,419.1 465,417.4 467,415.4 469,413.3 471,411 473,408.6 475,406.1 477,403.5 479,400.5 481,397.3 483,393.7 485,389.9 487,386 489,382 491,378 493,374.1 495,370.1 497,366.1 499,362.2 501,358.2 503,354.3 505,350.3 507,346.3 509,342.4 511,338.4 513,334.5 515,330.5 517,326.5 519,322.6"/></g>
<rect class="fr0" x="392" y="389.5" width="125" height="125"/>
<path class="tk" d="M454.5 514v-3.3M392.5 483.25h3.3M392.5 452h3.3M392.5 420.75h3.3"/>
<circle class="pt" cx="393.78" cy="390.38" r="2.25"/><circle class="pt" cx="395.98" cy="391.5" r="2.25"/><circle class="pt" cx="399.02" cy="393.19" r="2.25"/><rect class="pt" x="400.51" y="394.36" width="4.7" height="3.27" rx="0.7"/><circle class="pt" cx="402.86" cy="396" r="2.25"/><rect class="pt" x="405.09" y="398.24" width="4.7" height="3.9" rx="0.7"/><circle class="pt" cx="407.44" cy="400.19" r="2.25"/><rect class="pt" x="410.36" y="402.93" width="4.7" height="4.53" rx="0.7"/><circle class="pt" cx="412.71" cy="405.19" r="2.25"/><rect class="pt" x="416.28" y="408.3" width="4.7" height="5.4" rx="0.7"/><circle class="pt" cx="418.63" cy="411" r="2.25"/><path class="eb" d="M425.13 414.5V420.12M422.83 414.5h4.6M422.83 420.12h4.6"/><circle class="pt" cx="425.13" cy="417.31" r="2.25"/><path class="eb" d="M432.16 420.19V427.56M429.86 420.19h4.6M429.86 427.56h4.6"/><circle class="pt" cx="432.16" cy="423.88" r="2.25"/><path class="eb" d="M439.67 426.56V435.44M437.37 426.56h4.6M437.37 435.44h4.6"/><circle class="pt" cx="439.67" cy="431" r="2.25"/><path class="eb" d="M447.62 432.56V442.31M445.32 432.56h4.6M445.32 442.31h4.6"/><circle class="pt" cx="447.62" cy="437.44" r="2.25"/><path class="eb" d="M455.96 437.69V449.31M453.66 437.69h4.6M453.66 449.31h4.6"/><circle class="pt" cx="455.96" cy="443.5" r="2.25"/><path class="eb" d="M464.65 441.44V455.56M462.35 441.44h4.6M462.35 455.56h4.6"/><circle class="pt" cx="464.65" cy="448.5" r="2.25"/><path class="eb" d="M473.65 443.81V460.19M471.35 443.81h4.6M471.35 460.19h4.6"/><circle class="pt" cx="473.65" cy="452" r="2.25"/><path class="eb" d="M482.94 445.31V463.31M480.64 445.31h4.6M480.64 463.31h4.6"/><circle class="pt" cx="482.94" cy="454.31" r="2.25"/><path class="eb" d="M492.48 444.88V465.75M490.18 444.88h4.6M490.18 465.75h4.6"/><circle class="pt" cx="492.48" cy="455.31" r="2.25"/><path class="eb" d="M502.25 442.5V465.5M499.95 442.5h4.6M499.95 465.5h4.6"/><circle class="pt" cx="502.25" cy="454" r="2.25"/><path class="eb" d="M512.23 437.69V463.69M509.93 437.69h4.6M509.93 463.69h4.6"/><circle class="pt" cx="512.23" cy="450.69" r="2.25"/>
<text class="t" text-anchor="middle" x="394" y="530">0.00</text>
<text class="t" text-anchor="middle" x="456.5" y="530">0.05</text>
<text class="t" text-anchor="middle" x="519" y="530">0.10</text>
<rect x="266.5" y="366" width="31.2" height="26.9" fill="#ffffd9" stroke="#1c1c1c" stroke-width="1.3"/>
<text class="l" x="270.7" y="384"><tspan font-style="italic">P</tspan><tspan font-size="9.8px" dy="2.2">11</tspan></text>
<g clip-path="url(#c30)"><polygon class="fo" points="67.5,569.5 67.5,569.5 67.7,569.5 67.9,569.5 68.1,569.5 68.5,569.5 68.9,569.4 69.5,569.3 70.1,569.2 70.7,569 71.5,568.8 72.3,568.6 74.5,567.7 76.5,566.8 78.5,565.8 80.5,564.7 82.5,563.5 84.5,562.2 86.5,560.8 88.5,559.4 90.5,557.9 92.5,556.4 94.5,554.9 96.5,553.3 98.5,551.8 100.5,550.2 102.5,548.6 104.5,546.9 106.5,545.3 108.5,543.7 110.5,542 112.5,540.4 114.5,538.8 116.5,537.1 118.5,535.5 120.5,533.8 122.5,532.2 124.5,530.5 126.5,528.9 128.5,527.3 130.5,525.6 132.5,524 134.5,522.4 136.5,520.8 138.5,519.2 140.5,517.6 142.5,516 144.5,514.5 146.5,512.9 148.5,511.3 150.5,509.8 152.5,508.2 154.5,506.7 156.5,505.2 158.5,503.7 160.5,502.2 162.5,500.7 164.5,499.2 166.5,497.7 168.5,496.3 170.5,494.8 172.5,493.4 174.5,491.9 176.5,490.5 178.5,489.1 180.5,487.7 182.5,486.3 184.5,484.9 186.5,483.5 188.5,482.2 190.5,480.8 192.5,479.5 194.5,478.2 194.5,682.2 192.5,680 190.5,677.7 188.5,675.3 186.5,672.7 184.5,670 182.5,667.4 180.5,664.8 178.5,662.4 176.5,660 174.5,657.6 172.5,655.3 170.5,652.9 168.5,650.5 166.5,648.1 164.5,645.8 162.5,643.5 160.5,641.3 158.5,639.1 156.5,637 154.5,634.9 152.5,632.9 150.5,631 148.5,629 146.5,627 144.5,625 142.5,623 140.5,621 138.5,619 136.5,616.9 134.5,614.9 132.5,613 130.5,611.1 128.5,609.3 126.5,607.5 124.5,605.7 122.5,603.9 120.5,602.1 118.5,600.3 116.5,598.5 114.5,596.8 112.5,595.2 110.5,593.6 108.5,592.1 106.5,590.5 104.5,589 102.5,587.4 100.5,585.9 98.5,584.5 96.5,583.2 94.5,581.9 92.5,580.7 90.5,579.5 88.5,578.3 86.5,577.1 84.5,575.9 82.5,574.8 80.5,573.8 78.5,572.9 76.5,572.1 74.5,571.3 72.3,570.7 71.5,570.4 70.7,570.3 70.1,570.1 69.5,570 68.9,569.9 68.5,569.8 68.1,569.7 67.9,569.7 67.7,569.6 67.5,569.5 67.5,569.5"/><polygon class="fp" points="67.5,569.5 67.5,569.5 67.7,569.6 67.9,569.6 68.1,569.7 68.5,569.7 68.9,569.8 69.5,569.9 70.1,569.9 70.7,570 71.5,570.1 72.3,570.3 74.5,570.7 76.5,571.2 78.5,571.8 80.5,572.4 82.5,573.1 84.5,573.8 86.5,574.7 88.5,575.5 90.5,576.4 92.5,577.3 94.5,578.2 96.5,579.1 98.5,580 100.5,581 102.5,582 104.5,583 106.5,584 108.5,585.1 110.5,586.2 112.5,587.3 114.5,588.4 116.5,589.4 118.5,590.5 120.5,591.6 122.5,592.8 124.5,594.1 126.5,595.5 128.5,596.8 130.5,598.1 132.5,599.4 134.5,600.7 136.5,602 138.5,603.4 140.5,604.8 142.5,606.2 144.5,607.6 146.5,609.1 148.5,610.5 150.5,612 152.5,613.5 154.5,614.9 156.5,616.5 158.5,618 160.5,619.5 162.5,621 164.5,622.5 166.5,624 168.5,625.5 170.5,627 172.5,628.5 174.5,630 176.5,631.5 178.5,633 180.5,634.5 182.5,636.1 184.5,637.6 186.5,639.1 188.5,640.6 190.5,642 192.5,643.5 194.5,645 194.5,725.5 192.5,721.5 190.5,717.5 188.5,713.5 186.5,709.5 184.5,705.5 182.5,701.5 180.5,697.5 178.5,693.5 176.5,689.6 174.5,685.7 172.5,682 170.5,678.3 168.5,674.8 166.5,671.3 164.5,667.8 162.5,664.4 160.5,660.9 158.5,657.5 156.5,654.2 154.5,650.9 152.5,647.7 150.5,644.5 148.5,641.4 146.5,638.3 144.5,635.4 142.5,632.4 140.5,629.5 138.5,626.6 136.5,623.8 134.5,621 132.5,618.2 130.5,615.5 128.5,612.8 126.5,610.3 124.5,607.9 122.5,605.7 120.5,603.7 118.5,601.8 116.5,600 114.5,598.3 112.5,596.6 110.5,595 108.5,593.3 106.5,591.6 104.5,589.8 102.5,588 100.5,586.4 98.5,584.9 96.5,583.5 94.5,582.3 92.5,581.1 90.5,579.9 88.5,578.7 86.5,577.5 84.5,576.3 82.5,575.2 80.5,574.2 78.5,573.3 76.5,572.5 74.5,571.7 72.3,571 71.5,570.8 70.7,570.7 70.1,570.5 69.5,570.4 68.9,570.3 68.5,570.2 68.1,570 67.9,569.9 67.7,569.8 67.5,569.6 67.5,569.5"/><polygon class="fr" points="67.5,569.5 67.5,569.5 67.7,569.6 67.9,569.7 68.1,569.7 68.5,569.8 68.9,569.9 69.5,570 70.1,570.1 70.7,570.3 71.5,570.4 72.3,570.7 74.5,571.3 76.5,572.1 78.5,572.9 80.5,573.8 82.5,574.8 84.5,575.9 86.5,577.1 88.5,578.3 90.5,579.5 92.5,580.7 94.5,581.9 96.5,583.2 98.5,584.5 100.5,585.9 102.5,587.4 104.5,588.9 106.5,590.4 108.5,591.9 110.5,593.3 112.5,594.8 114.5,596.2 116.5,597.7 118.5,599.2 120.5,600.8 122.5,602.3 124.5,603.9 126.5,605.6 128.5,607.2 130.5,608.8 132.5,610.4 134.5,612 136.5,613.6 138.5,615.2 140.5,616.9 142.5,618.5 144.5,620.2 146.5,621.8 148.5,623.5 150.5,625.2 152.5,627 154.5,628.7 156.5,630.4 158.5,632 160.5,633.7 162.5,635.3 164.5,636.9 166.5,638.5 168.5,640.1 170.5,641.7 172.5,643.3 174.5,644.8 176.5,646.3 178.5,647.8 180.5,649.3 182.5,650.6 184.5,652 186.5,653.3 188.5,654.5 190.5,655.8 192.5,657 194.5,658.2 194.5,686.4 192.5,684.2 190.5,682 188.5,679.7 186.5,677.5 184.5,675.3 182.5,673.1 180.5,670.9 178.5,668.7 176.5,666.5 174.5,664.2 172.5,661.9 170.5,659.6 168.5,657.2 166.5,654.7 164.5,652.3 162.5,649.9 160.5,647.5 158.5,645.1 156.5,642.7 154.5,640.2 152.5,637.8 150.5,635.4 148.5,633.1 146.5,630.8 144.5,628.7 142.5,626.6 140.5,624.4 138.5,622.2 136.5,620 134.5,617.8 132.5,615.6 130.5,613.4 128.5,611.2 126.5,609.1 124.5,607 122.5,605 120.5,603.1 118.5,601.2 116.5,599.4 114.5,597.6 112.5,595.9 110.5,594.3 108.5,592.7 106.5,591.1 104.5,589.4 102.5,587.8 100.5,586.3 98.5,584.8 96.5,583.5 94.5,582.2 92.5,581 90.5,579.8 88.5,578.6 86.5,577.4 84.5,576.2 82.5,575.1 80.5,574.1 78.5,573.2 76.5,572.4 74.5,571.6 72.3,570.9 71.5,570.7 70.7,570.6 70.1,570.4 69.5,570.3 68.9,570.2 68.5,570.1 68.1,570 67.9,569.8 67.7,569.7 67.5,569.6 67.5,569.5"/><polyline class="lo" points="67.5,569.5 67.5,569.5 67.7,569.6 67.9,569.7 68.1,569.7 68.5,569.8 68.9,569.9 69.5,570 70.1,570.1 70.7,570.3 71.5,570.4 72.3,570.7 74.5,571.3 76.5,572.1 78.5,572.9 80.5,573.8 82.5,574.8 84.5,575.9 86.5,577.1 88.5,578.3 90.5,579.5 92.5,580.7 94.5,581.9 96.5,583.2 98.5,584.5 100.5,585.9 102.5,587.4 104.5,589 106.5,590.5 108.5,592.1 110.5,593.6 112.5,595.2 114.5,596.8 116.5,598.5 118.5,600.3 120.5,602.1 122.5,603.9 124.5,605.7 126.5,607.5 128.5,609.3 130.5,611.1 132.5,613 134.5,614.9 136.5,616.9 138.5,619 140.5,621 142.5,623 144.5,625 146.5,627 148.5,629 150.5,631 152.5,632.9 154.5,634.9 156.5,637 158.5,639.1 160.5,641.3 162.5,643.5 164.5,645.8 166.5,648.1 168.5,650.5 170.5,652.9 172.5,655.3 174.5,657.6 176.5,660 178.5,662.4 180.5,664.8 182.5,667.4 184.5,670 186.5,672.7 188.5,675.3 190.5,677.7 192.5,680 194.5,682.2"/><polyline class="lo" points="67.5,569.5 67.5,569.5 67.7,569.5 67.9,569.5 68.1,569.5 68.5,569.5 68.9,569.4 69.5,569.3 70.1,569.2 70.7,569 71.5,568.8 72.3,568.6 74.5,567.7 76.5,566.8 78.5,565.8 80.5,564.7 82.5,563.5 84.5,562.2 86.5,560.8 88.5,559.4 90.5,557.9 92.5,556.4 94.5,554.9 96.5,553.3 98.5,551.8 100.5,550.2 102.5,548.6 104.5,546.9 106.5,545.3 108.5,543.7 110.5,542 112.5,540.4 114.5,538.8 116.5,537.1 118.5,535.5 120.5,533.8 122.5,532.2 124.5,530.5 126.5,528.9 128.5,527.3 130.5,525.6 132.5,524 134.5,522.4 136.5,520.8 138.5,519.2 140.5,517.6 142.5,516 144.5,514.5 146.5,512.9 148.5,511.3 150.5,509.8 152.5,508.2 154.5,506.7 156.5,505.2 158.5,503.7 160.5,502.2 162.5,500.7 164.5,499.2 166.5,497.7 168.5,496.3 170.5,494.8 172.5,493.4 174.5,491.9 176.5,490.5 178.5,489.1 180.5,487.7 182.5,486.3 184.5,484.9 186.5,483.5 188.5,482.2 190.5,480.8 192.5,479.5 194.5,478.2"/><polyline class="lp" points="67.5,569.5 67.5,569.6 67.7,569.8 67.9,569.9 68.1,570 68.5,570.2 68.9,570.3 69.5,570.4 70.1,570.5 70.7,570.7 71.5,570.8 72.3,571 74.5,571.7 76.5,572.5 78.5,573.3 80.5,574.2 82.5,575.2 84.5,576.3 86.5,577.5 88.5,578.7 90.5,579.9 92.5,581.1 94.5,582.3 96.5,583.5 98.5,584.9 100.5,586.4 102.5,588 104.5,589.8 106.5,591.6 108.5,593.3 110.5,595 112.5,596.6 114.5,598.3 116.5,600 118.5,601.8 120.5,603.7 122.5,605.7 124.5,607.9 126.5,610.3 128.5,612.8 130.5,615.5 132.5,618.2 134.5,621 136.5,623.8 138.5,626.6 140.5,629.5 142.5,632.4 144.5,635.4 146.5,638.3 148.5,641.4 150.5,644.5 152.5,647.7 154.5,650.9 156.5,654.2 158.5,657.5 160.5,660.9 162.5,664.4 164.5,667.8 166.5,671.3 168.5,674.8 170.5,678.3 172.5,682 174.5,685.7 176.5,689.6 178.5,693.5 180.5,697.5 182.5,701.5 184.5,705.5 186.5,709.5 188.5,713.5 190.5,717.5 192.5,721.5 194.5,725.5"/><polyline class="lp" points="67.5,569.5 67.5,569.5 67.7,569.6 67.9,569.6 68.1,569.7 68.5,569.7 68.9,569.8 69.5,569.9 70.1,569.9 70.7,570 71.5,570.1 72.3,570.3 74.5,570.7 76.5,571.2 78.5,571.8 80.5,572.4 82.5,573.1 84.5,573.8 86.5,574.7 88.5,575.5 90.5,576.4 92.5,577.3 94.5,578.2 96.5,579.1 98.5,580 100.5,581 102.5,582 104.5,583 106.5,584 108.5,585.1 110.5,586.2 112.5,587.3 114.5,588.4 116.5,589.4 118.5,590.5 120.5,591.6 122.5,592.8 124.5,594.1 126.5,595.5 128.5,596.8 130.5,598.1 132.5,599.4 134.5,600.7 136.5,602 138.5,603.4 140.5,604.8 142.5,606.2 144.5,607.6 146.5,609.1 148.5,610.5 150.5,612 152.5,613.5 154.5,614.9 156.5,616.5 158.5,618 160.5,619.5 162.5,621 164.5,622.5 166.5,624 168.5,625.5 170.5,627 172.5,628.5 174.5,630 176.5,631.5 178.5,633 180.5,634.5 182.5,636.1 184.5,637.6 186.5,639.1 188.5,640.6 190.5,642 192.5,643.5 194.5,645"/><polyline class="lr" points="67.5,569.5 67.5,569.6 67.7,569.7 67.9,569.8 68.1,570 68.5,570.1 68.9,570.2 69.5,570.3 70.1,570.4 70.7,570.6 71.5,570.7 72.3,570.9 74.5,571.6 76.5,572.4 78.5,573.2 80.5,574.1 82.5,575.1 84.5,576.2 86.5,577.4 88.5,578.6 90.5,579.8 92.5,581 94.5,582.2 96.5,583.5 98.5,584.8 100.5,586.3 102.5,587.8 104.5,589.4 106.5,591.1 108.5,592.7 110.5,594.3 112.5,595.9 114.5,597.6 116.5,599.4 118.5,601.2 120.5,603.1 122.5,605 124.5,607 126.5,609.1 128.5,611.2 130.5,613.4 132.5,615.6 134.5,617.8 136.5,620 138.5,622.2 140.5,624.4 142.5,626.6 144.5,628.7 146.5,630.8 148.5,633.1 150.5,635.4 152.5,637.8 154.5,640.2 156.5,642.7 158.5,645.1 160.5,647.5 162.5,649.9 164.5,652.3 166.5,654.7 168.5,657.2 170.5,659.6 172.5,661.9 174.5,664.2 176.5,666.5 178.5,668.7 180.5,670.9 182.5,673.1 184.5,675.3 186.5,677.5 188.5,679.7 190.5,682 192.5,684.2 194.5,686.4"/><polyline class="lr" points="67.5,569.5 67.5,569.5 67.7,569.6 67.9,569.7 68.1,569.7 68.5,569.8 68.9,569.9 69.5,570 70.1,570.1 70.7,570.3 71.5,570.4 72.3,570.7 74.5,571.3 76.5,572.1 78.5,572.9 80.5,573.8 82.5,574.8 84.5,575.9 86.5,577.1 88.5,578.3 90.5,579.5 92.5,580.7 94.5,581.9 96.5,583.2 98.5,584.5 100.5,585.9 102.5,587.4 104.5,588.9 106.5,590.4 108.5,591.9 110.5,593.3 112.5,594.8 114.5,596.2 116.5,597.7 118.5,599.2 120.5,600.8 122.5,602.3 124.5,603.9 126.5,605.6 128.5,607.2 130.5,608.8 132.5,610.4 134.5,612 136.5,613.6 138.5,615.2 140.5,616.9 142.5,618.5 144.5,620.2 146.5,621.8 148.5,623.5 150.5,625.2 152.5,627 154.5,628.7 156.5,630.4 158.5,632 160.5,633.7 162.5,635.3 164.5,636.9 166.5,638.5 168.5,640.1 170.5,641.7 172.5,643.3 174.5,644.8 176.5,646.3 178.5,647.8 180.5,649.3 182.5,650.6 184.5,652 186.5,653.3 188.5,654.5 190.5,655.8 192.5,657 194.5,658.2"/></g>
<rect class="fr0" x="67.5" y="569.5" width="125" height="125"/>
<path class="tk" d="M130 694v-3.3M68 652.83h3.3M68 611.17h3.3"/>
<circle class="pt" cx="69.28" cy="570" r="2.25"/><circle class="pt" cx="71.48" cy="570.33" r="2.25"/><circle class="pt" cx="74.52" cy="571" r="2.25"/><rect class="pt" x="76.01" y="570.72" width="4.7" height="3.07" rx="0.7"/><circle class="pt" cx="78.36" cy="572.25" r="2.25"/><rect class="pt" x="80.59" y="572.26" width="4.7" height="3.48" rx="0.7"/><circle class="pt" cx="82.94" cy="574" r="2.25"/><rect class="pt" x="85.86" y="574.55" width="4.7" height="3.9" rx="0.7"/><circle class="pt" cx="88.21" cy="576.5" r="2.25"/><rect class="pt" x="91.78" y="577.59" width="4.7" height="4.32" rx="0.7"/><circle class="pt" cx="94.13" cy="579.75" r="2.25"/><rect class="pt" x="98.28" y="581.3" width="4.7" height="4.4" rx="0.7"/><circle class="pt" cx="100.63" cy="583.5" r="2.25"/><rect class="pt" x="105.31" y="585.76" width="4.7" height="4.48" rx="0.7"/><circle class="pt" cx="107.66" cy="588" r="2.25"/><rect class="pt" x="112.82" y="590.63" width="4.7" height="4.73" rx="0.7"/><circle class="pt" cx="115.17" cy="593" r="2.25"/><rect class="pt" x="120.77" y="596.51" width="4.7" height="5.15" rx="0.7"/><circle class="pt" cx="123.12" cy="599.08" r="2.25"/><path class="eb" d="M131.46 602.79V607.79M129.16 602.79h4.6M129.16 607.79h4.6"/><circle class="pt" cx="131.46" cy="605.29" r="2.25"/><path class="eb" d="M140.15 609.29V615.12M137.85 609.29h4.6M137.85 615.12h4.6"/><circle class="pt" cx="140.15" cy="612.21" r="2.25"/><path class="eb" d="M149.15 616.46V622.96M146.85 616.46h4.6M146.85 622.96h4.6"/><circle class="pt" cx="149.15" cy="619.71" r="2.25"/><path class="eb" d="M158.44 624.33V631.67M156.14 624.33h4.6M156.14 631.67h4.6"/><circle class="pt" cx="158.44" cy="628" r="2.25"/><path class="eb" d="M167.98 631.83V639.75M165.68 631.83h4.6M165.68 639.75h4.6"/><circle class="pt" cx="167.98" cy="635.79" r="2.25"/><path class="eb" d="M177.75 640.42V649M175.45 640.42h4.6M175.45 649h4.6"/><circle class="pt" cx="177.75" cy="644.71" r="2.25"/><path class="eb" d="M187.73 649.21V658.38M185.43 649.21h4.6M185.43 658.38h4.6"/><circle class="pt" cx="187.73" cy="653.79" r="2.25"/>
<text class="t" text-anchor="middle" x="69.5" y="710">0.00</text>
<text class="t" text-anchor="middle" x="132" y="710">0.05</text>
<text class="t" text-anchor="middle" x="194.5" y="710">0.10</text>
<text class="t" text-anchor="end" x="62.3" y="698.5">−3.0</text>
<text class="t" text-anchor="end" x="62.3" y="656.83">−2.0</text>
<text class="t" text-anchor="end" x="62.3" y="615.17">−1.0</text>
<text class="t" text-anchor="end" x="62.3" y="573.5">0.0</text>
<g clip-path="url(#c31)"><polygon class="fo" points="229.5,569.5 229.5,569.5 229.7,569.5 229.9,569.5 230.1,569.5 230.5,569.5 230.9,569.5 231.5,569.5 232.1,569.5 232.7,569.5 233.5,569.6 234.3,569.6 236.5,569.7 238.5,569.8 240.5,569.9 242.5,570.1 244.5,570.3 246.5,570.5 248.5,570.8 250.5,571.1 252.5,571.4 254.5,571.7 256.5,572 258.5,572.3 260.5,572.5 262.5,572.8 264.5,573 266.5,573.4 268.5,573.7 270.5,574.1 272.5,574.5 274.5,574.9 276.5,575.3 278.5,575.6 280.5,575.9 282.5,576.2 284.5,576.4 286.5,576.6 288.5,576.8 290.5,576.9 292.5,577 294.5,577.1 296.5,577.2 298.5,577.2 300.5,577.2 302.5,577.2 304.5,577 306.5,576.7 308.5,576.4 310.5,575.9 312.5,575.4 314.5,574.8 316.5,574.1 318.5,573.3 320.5,572.5 322.5,571.7 324.5,571 326.5,570.3 328.5,569.6 330.5,568.7 332.5,567.7 334.5,566.8 336.5,565.7 338.5,564.7 340.5,563.7 342.5,562.7 344.5,561.7 346.5,560.7 348.5,559.7 350.5,558.7 352.5,557.7 354.5,556.7 356.5,555.7 356.5,690.7 354.5,688 352.5,685.3 350.5,682.4 348.5,679.4 346.5,676.3 344.5,673.3 342.5,670.3 340.5,667.4 338.5,664.6 336.5,661.9 334.5,659.2 332.5,656.6 330.5,654 328.5,651.5 326.5,649 324.5,646.6 322.5,644.2 320.5,641.8 318.5,639.4 316.5,637 314.5,634.6 312.5,632.1 310.5,629.8 308.5,627.4 306.5,625.2 304.5,623 302.5,621 300.5,619.2 298.5,617.4 296.5,615.8 294.5,614.1 292.5,612.4 290.5,610.5 288.5,608.7 286.5,606.8 284.5,604.9 282.5,603.1 280.5,601.3 278.5,599.5 276.5,597.8 274.5,596.1 272.5,594.5 270.5,592.9 268.5,591.4 266.5,590.1 264.5,588.8 262.5,587.5 260.5,586 258.5,584.5 256.5,583.1 254.5,581.7 252.5,580.5 250.5,579.3 248.5,578 246.5,576.6 244.5,575.3 242.5,574.2 240.5,573.1 238.5,572.2 236.5,571.4 234.3,570.6 233.5,570.3 232.7,570.1 232.1,569.9 231.5,569.8 230.9,569.6 230.5,569.6 230.1,569.5 229.9,569.5 229.7,569.5 229.5,569.5 229.5,569.5"/><polygon class="fp" points="229.5,569.5 229.5,569.6 229.7,569.6 229.9,569.7 230.1,569.7 230.5,569.8 230.9,569.9 231.5,570 232.1,570.1 232.7,570.2 233.5,570.3 234.3,570.5 236.5,571.1 238.5,571.8 240.5,572.5 242.5,573.2 244.5,573.9 246.5,574.7 248.5,575.6 250.5,576.6 252.5,577.6 254.5,578.6 256.5,579.7 258.5,580.8 260.5,581.9 262.5,583 264.5,584.3 266.5,585.6 268.5,586.9 270.5,588.2 272.5,589.6 274.5,590.9 276.5,592.3 278.5,593.8 280.5,595.3 282.5,596.9 284.5,598.4 286.5,599.9 288.5,601.4 290.5,602.8 292.5,604.3 294.5,605.9 296.5,607.5 298.5,609.2 300.5,610.9 302.5,612.5 304.5,614.1 306.5,615.8 308.5,617.5 310.5,619.3 312.5,621.3 314.5,623.4 316.5,625.6 318.5,627.7 320.5,629.7 322.5,631.5 324.5,633.3 326.5,635 328.5,636.7 330.5,638.3 332.5,640 334.5,641.6 336.5,643.1 338.5,644.5 340.5,645.7 342.5,646.8 344.5,647.8 346.5,648.7 348.5,649.6 350.5,650.4 352.5,651.2 354.5,652 356.5,652.8 356.5,720.7 354.5,716.7 352.5,712.8 350.5,708.9 348.5,704.9 346.5,701 344.5,697.1 342.5,693.1 340.5,689.2 338.5,685.3 336.5,681.5 334.5,677.8 332.5,674.2 330.5,670.6 328.5,667.1 326.5,663.6 324.5,660.2 322.5,656.7 320.5,653.3 318.5,650 316.5,646.7 314.5,643.4 312.5,640.3 310.5,637.2 308.5,634.2 306.5,631.3 304.5,628.6 302.5,626 300.5,623.7 298.5,621.4 296.5,619.3 294.5,617.2 292.5,615.1 290.5,613 288.5,610.9 286.5,608.8 284.5,606.8 282.5,604.9 280.5,603.1 278.5,601.3 276.5,599.5 274.5,597.8 272.5,596.1 270.5,594.4 268.5,592.9 266.5,591.5 264.5,590.2 262.5,588.8 260.5,587.3 258.5,585.8 256.5,584.3 254.5,582.9 252.5,581.5 250.5,580.2 248.5,578.8 246.5,577.3 244.5,575.9 242.5,574.7 240.5,573.5 238.5,572.5 236.5,571.6 234.3,570.8 233.5,570.5 232.7,570.2 232.1,570 231.5,569.9 230.9,569.7 230.5,569.7 230.1,569.6 229.9,569.5 229.7,569.5 229.5,569.5 229.5,569.5"/><polygon class="fr" points="229.5,569.5 229.5,569.5 229.7,569.5 229.9,569.5 230.1,569.5 230.5,569.6 230.9,569.6 231.5,569.7 232.1,569.9 232.7,570 233.5,570.2 234.3,570.5 236.5,571.2 238.5,572 240.5,572.9 242.5,573.8 244.5,574.9 246.5,576.2 248.5,577.4 250.5,578.7 252.5,579.9 254.5,581.2 256.5,582.5 258.5,583.9 260.5,585.3 262.5,586.7 264.5,588 266.5,589.3 268.5,590.6 270.5,592.1 272.5,593.7 274.5,595.3 276.5,597 278.5,598.7 280.5,600.5 282.5,602.2 284.5,603.9 286.5,605.7 288.5,607.5 290.5,609.2 292.5,611 294.5,612.7 296.5,614.5 298.5,616.2 300.5,617.8 302.5,619.3 304.5,620.8 306.5,622.2 308.5,623.5 310.5,624.9 312.5,626.2 314.5,627.6 316.5,629 318.5,630.4 320.5,631.9 322.5,633.3 324.5,634.7 326.5,636.1 328.5,637.6 330.5,639 332.5,640.4 334.5,641.7 336.5,643 338.5,644.2 340.5,645.4 342.5,646.5 344.5,647.4 346.5,648.3 348.5,649.1 350.5,649.9 352.5,650.6 354.5,651.3 356.5,652 356.5,673.3 354.5,671.3 352.5,669.3 350.5,667.3 348.5,665.3 346.5,663.3 344.5,661.3 342.5,659.3 340.5,657.2 338.5,655.2 336.5,653.3 334.5,651.4 332.5,649.6 330.5,647.8 328.5,646.1 326.5,644.3 324.5,642.5 322.5,640.7 320.5,638.9 318.5,637 316.5,635.2 314.5,633.4 312.5,631.6 310.5,629.8 308.5,628 306.5,626.2 304.5,624.5 302.5,622.7 300.5,620.9 298.5,619.1 296.5,617.3 294.5,615.5 292.5,613.6 290.5,611.6 288.5,609.6 286.5,607.7 284.5,605.8 282.5,603.9 280.5,602.2 278.5,600.4 276.5,598.7 274.5,597 272.5,595.4 270.5,593.8 268.5,592.3 266.5,591 264.5,589.7 262.5,588.3 260.5,586.8 258.5,585.3 256.5,583.8 254.5,582.4 252.5,581.1 250.5,579.8 248.5,578.5 246.5,577.1 244.5,575.7 242.5,574.5 240.5,573.4 238.5,572.3 236.5,571.4 234.3,570.6 233.5,570.3 232.7,570.1 232.1,569.9 231.5,569.8 230.9,569.7 230.5,569.6 230.1,569.6 229.9,569.5 229.7,569.5 229.5,569.5 229.5,569.5"/><polyline class="lo" points="229.5,569.5 229.5,569.5 229.7,569.5 229.9,569.5 230.1,569.5 230.5,569.6 230.9,569.6 231.5,569.8 232.1,569.9 232.7,570.1 233.5,570.3 234.3,570.6 236.5,571.4 238.5,572.2 240.5,573.1 242.5,574.2 244.5,575.3 246.5,576.6 248.5,578 250.5,579.3 252.5,580.5 254.5,581.7 256.5,583.1 258.5,584.5 260.5,586 262.5,587.5 264.5,588.8 266.5,590.1 268.5,591.4 270.5,592.9 272.5,594.5 274.5,596.1 276.5,597.8 278.5,599.5 280.5,601.3 282.5,603.1 284.5,604.9 286.5,606.8 288.5,608.7 290.5,610.5 292.5,612.4 294.5,614.1 296.5,615.8 298.5,617.4 300.5,619.2 302.5,621 304.5,623 306.5,625.2 308.5,627.4 310.5,629.8 312.5,632.1 314.5,634.6 316.5,637 318.5,639.4 320.5,641.8 322.5,644.2 324.5,646.6 326.5,649 328.5,651.5 330.5,654 332.5,656.6 334.5,659.2 336.5,661.9 338.5,664.6 340.5,667.4 342.5,670.3 344.5,673.3 346.5,676.3 348.5,679.4 350.5,682.4 352.5,685.3 354.5,688 356.5,690.7"/><polyline class="lo" points="229.5,569.5 229.5,569.5 229.7,569.5 229.9,569.5 230.1,569.5 230.5,569.5 230.9,569.5 231.5,569.5 232.1,569.5 232.7,569.5 233.5,569.6 234.3,569.6 236.5,569.7 238.5,569.8 240.5,569.9 242.5,570.1 244.5,570.3 246.5,570.5 248.5,570.8 250.5,571.1 252.5,571.4 254.5,571.7 256.5,572 258.5,572.3 260.5,572.5 262.5,572.8 264.5,573 266.5,573.4 268.5,573.7 270.5,574.1 272.5,574.5 274.5,574.9 276.5,575.3 278.5,575.6 280.5,575.9 282.5,576.2 284.5,576.4 286.5,576.6 288.5,576.8 290.5,576.9 292.5,577 294.5,577.1 296.5,577.2 298.5,577.2 300.5,577.2 302.5,577.2 304.5,577 306.5,576.7 308.5,576.4 310.5,575.9 312.5,575.4 314.5,574.8 316.5,574.1 318.5,573.3 320.5,572.5 322.5,571.7 324.5,571 326.5,570.3 328.5,569.6 330.5,568.7 332.5,567.7 334.5,566.8 336.5,565.7 338.5,564.7 340.5,563.7 342.5,562.7 344.5,561.7 346.5,560.7 348.5,559.7 350.5,558.7 352.5,557.7 354.5,556.7 356.5,555.7"/><polyline class="lp" points="229.5,569.5 229.5,569.5 229.7,569.5 229.9,569.5 230.1,569.6 230.5,569.7 230.9,569.7 231.5,569.9 232.1,570 232.7,570.2 233.5,570.5 234.3,570.8 236.5,571.6 238.5,572.5 240.5,573.5 242.5,574.7 244.5,575.9 246.5,577.3 248.5,578.8 250.5,580.2 252.5,581.5 254.5,582.9 256.5,584.3 258.5,585.8 260.5,587.3 262.5,588.8 264.5,590.2 266.5,591.5 268.5,592.9 270.5,594.4 272.5,596.1 274.5,597.8 276.5,599.5 278.5,601.3 280.5,603.1 282.5,604.9 284.5,606.8 286.5,608.8 288.5,610.9 290.5,613 292.5,615.1 294.5,617.2 296.5,619.3 298.5,621.4 300.5,623.7 302.5,626 304.5,628.6 306.5,631.3 308.5,634.2 310.5,637.2 312.5,640.3 314.5,643.4 316.5,646.7 318.5,650 320.5,653.3 322.5,656.7 324.5,660.2 326.5,663.6 328.5,667.1 330.5,670.6 332.5,674.2 334.5,677.8 336.5,681.5 338.5,685.3 340.5,689.2 342.5,693.1 344.5,697.1 346.5,701 348.5,704.9 350.5,708.9 352.5,712.8 354.5,716.7 356.5,720.7"/><polyline class="lp" points="229.5,569.5 229.5,569.6 229.7,569.6 229.9,569.7 230.1,569.7 230.5,569.8 230.9,569.9 231.5,570 232.1,570.1 232.7,570.2 233.5,570.3 234.3,570.5 236.5,571.1 238.5,571.8 240.5,572.5 242.5,573.2 244.5,573.9 246.5,574.7 248.5,575.6 250.5,576.6 252.5,577.6 254.5,578.6 256.5,579.7 258.5,580.8 260.5,581.9 262.5,583 264.5,584.3 266.5,585.6 268.5,586.9 270.5,588.2 272.5,589.6 274.5,590.9 276.5,592.3 278.5,593.8 280.5,595.3 282.5,596.9 284.5,598.4 286.5,599.9 288.5,601.4 290.5,602.8 292.5,604.3 294.5,605.9 296.5,607.5 298.5,609.2 300.5,610.9 302.5,612.5 304.5,614.1 306.5,615.8 308.5,617.5 310.5,619.3 312.5,621.3 314.5,623.4 316.5,625.6 318.5,627.7 320.5,629.7 322.5,631.5 324.5,633.3 326.5,635 328.5,636.7 330.5,638.3 332.5,640 334.5,641.6 336.5,643.1 338.5,644.5 340.5,645.7 342.5,646.8 344.5,647.8 346.5,648.7 348.5,649.6 350.5,650.4 352.5,651.2 354.5,652 356.5,652.8"/><polyline class="lr" points="229.5,569.5 229.5,569.5 229.7,569.5 229.9,569.5 230.1,569.6 230.5,569.6 230.9,569.7 231.5,569.8 232.1,569.9 232.7,570.1 233.5,570.3 234.3,570.6 236.5,571.4 238.5,572.3 240.5,573.4 242.5,574.5 244.5,575.7 246.5,577.1 248.5,578.5 250.5,579.8 252.5,581.1 254.5,582.4 256.5,583.8 258.5,585.3 260.5,586.8 262.5,588.3 264.5,589.7 266.5,591 268.5,592.3 270.5,593.8 272.5,595.4 274.5,597 276.5,598.7 278.5,600.4 280.5,602.2 282.5,603.9 284.5,605.8 286.5,607.7 288.5,609.6 290.5,611.6 292.5,613.6 294.5,615.5 296.5,617.3 298.5,619.1 300.5,620.9 302.5,622.7 304.5,624.5 306.5,626.2 308.5,628 310.5,629.8 312.5,631.6 314.5,633.4 316.5,635.2 318.5,637 320.5,638.9 322.5,640.7 324.5,642.5 326.5,644.3 328.5,646.1 330.5,647.8 332.5,649.6 334.5,651.4 336.5,653.3 338.5,655.2 340.5,657.2 342.5,659.3 344.5,661.3 346.5,663.3 348.5,665.3 350.5,667.3 352.5,669.3 354.5,671.3 356.5,673.3"/><polyline class="lr" points="229.5,569.5 229.5,569.5 229.7,569.5 229.9,569.5 230.1,569.5 230.5,569.6 230.9,569.6 231.5,569.7 232.1,569.9 232.7,570 233.5,570.2 234.3,570.5 236.5,571.2 238.5,572 240.5,572.9 242.5,573.8 244.5,574.9 246.5,576.2 248.5,577.4 250.5,578.7 252.5,579.9 254.5,581.2 256.5,582.5 258.5,583.9 260.5,585.3 262.5,586.7 264.5,588 266.5,589.3 268.5,590.6 270.5,592.1 272.5,593.7 274.5,595.3 276.5,597 278.5,598.7 280.5,600.5 282.5,602.2 284.5,603.9 286.5,605.7 288.5,607.5 290.5,609.2 292.5,611 294.5,612.7 296.5,614.5 298.5,616.2 300.5,617.8 302.5,619.3 304.5,620.8 306.5,622.2 308.5,623.5 310.5,624.9 312.5,626.2 314.5,627.6 316.5,629 318.5,630.4 320.5,631.9 322.5,633.3 324.5,634.7 326.5,636.1 328.5,637.6 330.5,639 332.5,640.4 334.5,641.7 336.5,643 338.5,644.2 340.5,645.4 342.5,646.5 344.5,647.4 346.5,648.3 348.5,649.1 350.5,649.9 352.5,650.6 354.5,651.3 356.5,652"/></g>
<rect class="fr0" x="229.5" y="569.5" width="125" height="125"/>
<path class="tk" d="M292 694v-3.3M230 652.83h3.3M230 611.17h3.3"/>
<circle class="pt" cx="231.28" cy="570" r="2.25"/><circle class="pt" cx="233.48" cy="570.33" r="2.25"/><circle class="pt" cx="236.52" cy="571" r="2.25"/><rect class="pt" x="238.01" y="570.72" width="4.7" height="3.07" rx="0.7"/><circle class="pt" cx="240.36" cy="572.25" r="2.25"/><rect class="pt" x="242.59" y="572.26" width="4.7" height="3.48" rx="0.7"/><circle class="pt" cx="244.94" cy="574" r="2.25"/><rect class="pt" x="247.86" y="574.55" width="4.7" height="3.9" rx="0.7"/><circle class="pt" cx="250.21" cy="576.5" r="2.25"/><rect class="pt" x="253.78" y="577.59" width="4.7" height="4.32" rx="0.7"/><circle class="pt" cx="256.13" cy="579.75" r="2.25"/><rect class="pt" x="260.28" y="581.3" width="4.7" height="4.4" rx="0.7"/><circle class="pt" cx="262.63" cy="583.5" r="2.25"/><rect class="pt" x="267.31" y="585.76" width="4.7" height="4.48" rx="0.7"/><circle class="pt" cx="269.66" cy="588" r="2.25"/><rect class="pt" x="274.82" y="590.63" width="4.7" height="4.73" rx="0.7"/><circle class="pt" cx="277.17" cy="593" r="2.25"/><rect class="pt" x="282.77" y="596.51" width="4.7" height="5.15" rx="0.7"/><circle class="pt" cx="285.12" cy="599.08" r="2.25"/><path class="eb" d="M293.46 602.79V607.79M291.16 602.79h4.6M291.16 607.79h4.6"/><circle class="pt" cx="293.46" cy="605.29" r="2.25"/><path class="eb" d="M302.15 609.29V615.12M299.85 609.29h4.6M299.85 615.12h4.6"/><circle class="pt" cx="302.15" cy="612.21" r="2.25"/><path class="eb" d="M311.15 616.46V622.96M308.85 616.46h4.6M308.85 622.96h4.6"/><circle class="pt" cx="311.15" cy="619.71" r="2.25"/><path class="eb" d="M320.44 624.33V631.67M318.14 624.33h4.6M318.14 631.67h4.6"/><circle class="pt" cx="320.44" cy="628" r="2.25"/><path class="eb" d="M329.98 631.83V639.75M327.68 631.83h4.6M327.68 639.75h4.6"/><circle class="pt" cx="329.98" cy="635.79" r="2.25"/><path class="eb" d="M339.75 640.42V649M337.45 640.42h4.6M337.45 649h4.6"/><circle class="pt" cx="339.75" cy="644.71" r="2.25"/><path class="eb" d="M349.73 649.21V658.38M347.43 649.21h4.6M347.43 658.38h4.6"/><circle class="pt" cx="349.73" cy="653.79" r="2.25"/>
<text class="t" text-anchor="middle" x="231.5" y="710">0.00</text>
<text class="t" text-anchor="middle" x="294" y="710">0.05</text>
<text class="t" text-anchor="middle" x="356.5" y="710">0.10</text>
<g clip-path="url(#c32)"><polygon class="fo" points="392,569.5 392,569.5 392.2,569.5 392.4,569.4 392.6,569.4 393,569.4 393.4,569.4 394,569.5 394.6,569.5 395.2,569.6 396,569.7 396.8,569.8 399,570.1 401,570.5 403,570.9 405,571.4 407,571.8 409,572.3 411,572.9 413,573.5 415,574.2 417,574.9 419,575.6 421,576.2 423,576.9 425,577.6 427,578.2 429,578.8 431,579.4 433,579.9 435,580.5 437,581.1 439,581.7 441,582.3 443,582.9 445,583.4 447,583.9 449,584.4 451,584.9 453,585.3 455,585.8 457,586.1 459,586.5 461,586.8 463,587.1 465,587.4 467,587.6 469,587.8 471,587.9 473,587.9 475,587.9 477,587.8 479,587.6 481,587.4 483,587.1 485,586.8 487,586.4 489,586 491,585.5 493,585 495,584.5 497,584 499,583.4 501,582.8 503,582.2 505,581.6 507,581 509,580.3 511,579.7 513,579 515,578.4 517,577.7 519,577 519,701.3 517,697.7 515,694.2 513,690.8 511,687.4 509,684.1 507,680.8 505,677.6 503,674.3 501,671 499,667.8 497,664.7 495,661.7 493,658.7 491,655.8 489,652.9 487,650 485,647.2 483,644.4 481,641.7 479,639 477,636.4 475,633.8 473,631.2 471,628.5 469,625.9 467,623.3 465,620.8 463,618.5 461,616.4 459,614.5 457,612.6 455,610.8 453,609 451,607.1 449,605.4 447,603.6 445,601.8 443,600.1 441,598.5 439,596.8 437,595.2 435,593.6 433,592 431,590.5 429,588.9 427,587.4 425,585.9 423,584.5 421,583.1 419,581.8 417,580.5 415,579.3 413,578.1 411,576.8 409,575.6 407,574.4 405,573.5 403,572.6 401,571.9 399,571.2 396.8,570.5 396,570.3 395.2,570.1 394.6,569.9 394,569.8 393.4,569.7 393,569.6 392.6,569.6 392.4,569.5 392.2,569.5 392,569.5 392,569.5"/><polygon class="fp" points="392,569.5 392,569.5 392.2,569.5 392.4,569.5 392.6,569.6 393,569.6 393.4,569.6 394,569.7 394.6,569.8 395.2,569.9 396,570.1 396.8,570.3 399,570.9 401,571.5 403,572.1 405,572.9 407,573.8 409,574.7 411,575.8 413,576.9 415,578 417,579.2 419,580.4 421,581.6 423,583 425,584.3 427,585.7 429,587.2 431,588.7 433,590.2 435,591.8 437,593.4 439,595 441,596.7 443,598.3 445,600.1 447,601.8 449,603.5 451,605.3 453,607.1 455,608.9 457,610.7 459,612.5 461,614.3 463,616.1 465,617.9 467,619.7 469,621.5 471,623.3 473,625.1 475,626.9 477,628.7 479,630.6 481,632.5 483,634.4 485,636.3 487,638.3 489,640.2 491,642.2 493,644.1 495,646.2 497,648.3 499,650.4 501,652.6 503,654.9 505,657.2 507,659.4 509,661.7 511,663.9 513,666.1 515,668.3 517,670.5 519,672.7 519,725.3 517,720.8 515,716.4 513,711.9 511,707.5 509,703 507,698.5 505,694.1 503,689.6 501,685.2 499,681 497,676.9 495,673 493,669.2 491,665.5 489,662 487,658.4 485,655 483,651.6 481,648.3 479,645.1 477,642.1 475,639.1 473,636.2 471,633.4 469,630.5 467,627.8 465,625.1 463,622.5 461,620.1 459,617.7 457,615.5 455,613.4 453,611.3 451,609.4 449,607.5 447,605.7 445,603.8 443,602 441,600.2 439,598.5 437,596.8 435,595.1 433,593.5 431,591.8 429,590.2 427,588.6 425,587.1 423,585.6 421,584.2 419,582.8 417,581.5 415,580.2 413,578.9 411,577.5 409,576.2 407,575 405,574 403,573.1 401,572.3 399,571.5 396.8,570.7 396,570.5 395.2,570.2 394.6,570 394,569.9 393.4,569.8 393,569.7 392.6,569.6 392.4,569.6 392.2,569.5 392,569.5 392,569.5"/><polygon class="fr" points="392,569.5 392,569.5 392.2,569.5 392.4,569.5 392.6,569.6 393,569.6 393.4,569.7 394,569.8 394.6,569.9 395.2,570 396,570.2 396.8,570.5 399,571.1 401,571.8 403,572.5 405,573.3 407,574.2 409,575.3 411,576.5 413,577.7 415,578.9 417,580.1 419,581.4 421,582.7 423,584 425,585.4 427,586.9 429,588.3 431,589.9 433,591.4 435,593 437,594.6 439,596.2 441,597.9 443,599.5 445,601.2 447,602.9 449,604.6 451,606.3 453,608 455,609.7 457,611.5 459,613.3 461,615.1 463,616.9 465,618.6 467,620.3 469,622 471,623.6 473,625.2 475,626.9 477,628.6 479,630.3 481,632 483,633.7 485,635.5 487,637.2 489,638.9 491,640.7 493,642.3 495,644 497,645.7 499,647.4 501,649.1 503,650.8 505,652.5 507,654.1 509,655.8 511,657.5 513,659.2 515,660.8 517,662.5 519,664.1 519,683.3 517,680.8 515,678.3 513,675.7 511,673.1 509,670.6 507,668 505,665.4 503,662.9 501,660.3 499,657.9 497,655.5 495,653.1 493,650.9 491,648.6 489,646.4 487,644.1 485,641.9 483,639.6 481,637.5 479,635.4 477,633.4 475,631.5 473,629.5 471,627.5 469,625.5 467,623.5 465,621.5 463,619.5 461,617.6 459,615.7 457,613.8 455,611.8 453,609.9 451,608.1 449,606.2 447,604.4 445,602.6 443,600.9 441,599.2 439,597.5 437,595.9 435,594.2 433,592.6 431,591.1 429,589.5 427,588 425,586.5 423,585.1 421,583.7 419,582.3 417,581 415,579.7 413,578.5 411,577.2 409,575.9 407,574.7 405,573.7 403,572.8 401,572.1 399,571.4 396.8,570.6 396,570.3 395.2,570.1 394.6,569.9 394,569.8 393.4,569.7 393,569.6 392.6,569.6 392.4,569.5 392.2,569.5 392,569.5 392,569.5"/><polyline class="lo" points="392,569.5 392,569.5 392.2,569.5 392.4,569.5 392.6,569.6 393,569.6 393.4,569.7 394,569.8 394.6,569.9 395.2,570.1 396,570.3 396.8,570.5 399,571.2 401,571.9 403,572.6 405,573.5 407,574.4 409,575.6 411,576.8 413,578.1 415,579.3 417,580.5 419,581.8 421,583.1 423,584.5 425,585.9 427,587.4 429,588.9 431,590.5 433,592 435,593.6 437,595.2 439,596.8 441,598.5 443,600.1 445,601.8 447,603.6 449,605.4 451,607.1 453,609 455,610.8 457,612.6 459,614.5 461,616.4 463,618.5 465,620.8 467,623.3 469,625.9 471,628.5 473,631.2 475,633.8 477,636.4 479,639 481,641.7 483,644.4 485,647.2 487,650 489,652.9 491,655.8 493,658.7 495,661.7 497,664.7 499,667.8 501,671 503,674.3 505,677.6 507,680.8 509,684.1 511,687.4 513,690.8 515,694.2 517,697.7 519,701.3"/><polyline class="lo" points="392,569.5 392,569.5 392.2,569.5 392.4,569.4 392.6,569.4 393,569.4 393.4,569.4 394,569.5 394.6,569.5 395.2,569.6 396,569.7 396.8,569.8 399,570.1 401,570.5 403,570.9 405,571.4 407,571.8 409,572.3 411,572.9 413,573.5 415,574.2 417,574.9 419,575.6 421,576.2 423,576.9 425,577.6 427,578.2 429,578.8 431,579.4 433,579.9 435,580.5 437,581.1 439,581.7 441,582.3 443,582.9 445,583.4 447,583.9 449,584.4 451,584.9 453,585.3 455,585.8 457,586.1 459,586.5 461,586.8 463,587.1 465,587.4 467,587.6 469,587.8 471,587.9 473,587.9 475,587.9 477,587.8 479,587.6 481,587.4 483,587.1 485,586.8 487,586.4 489,586 491,585.5 493,585 495,584.5 497,584 499,583.4 501,582.8 503,582.2 505,581.6 507,581 509,580.3 511,579.7 513,579 515,578.4 517,577.7 519,577"/><polyline class="lp" points="392,569.5 392,569.5 392.2,569.5 392.4,569.6 392.6,569.6 393,569.7 393.4,569.8 394,569.9 394.6,570 395.2,570.2 396,570.5 396.8,570.7 399,571.5 401,572.3 403,573.1 405,574 407,575 409,576.2 411,577.5 413,578.9 415,580.2 417,581.5 419,582.8 421,584.2 423,585.6 425,587.1 427,588.6 429,590.2 431,591.8 433,593.5 435,595.1 437,596.8 439,598.5 441,600.2 443,602 445,603.8 447,605.7 449,607.5 451,609.4 453,611.3 455,613.4 457,615.5 459,617.7 461,620.1 463,622.5 465,625.1 467,627.8 469,630.5 471,633.4 473,636.2 475,639.1 477,642.1 479,645.1 481,648.3 483,651.6 485,655 487,658.4 489,662 491,665.5 493,669.2 495,673 497,676.9 499,681 501,685.2 503,689.6 505,694.1 507,698.5 509,703 511,707.5 513,711.9 515,716.4 517,720.8 519,725.3"/><polyline class="lp" points="392,569.5 392,569.5 392.2,569.5 392.4,569.5 392.6,569.6 393,569.6 393.4,569.6 394,569.7 394.6,569.8 395.2,569.9 396,570.1 396.8,570.3 399,570.9 401,571.5 403,572.1 405,572.9 407,573.8 409,574.7 411,575.8 413,576.9 415,578 417,579.2 419,580.4 421,581.6 423,583 425,584.3 427,585.7 429,587.2 431,588.7 433,590.2 435,591.8 437,593.4 439,595 441,596.7 443,598.3 445,600.1 447,601.8 449,603.5 451,605.3 453,607.1 455,608.9 457,610.7 459,612.5 461,614.3 463,616.1 465,617.9 467,619.7 469,621.5 471,623.3 473,625.1 475,626.9 477,628.7 479,630.6 481,632.5 483,634.4 485,636.3 487,638.3 489,640.2 491,642.2 493,644.1 495,646.2 497,648.3 499,650.4 501,652.6 503,654.9 505,657.2 507,659.4 509,661.7 511,663.9 513,666.1 515,668.3 517,670.5 519,672.7"/><polyline class="lr" points="392,569.5 392,569.5 392.2,569.5 392.4,569.5 392.6,569.6 393,569.6 393.4,569.7 394,569.8 394.6,569.9 395.2,570.1 396,570.3 396.8,570.6 399,571.4 401,572.1 403,572.8 405,573.7 407,574.7 409,575.9 411,577.2 413,578.5 415,579.7 417,581 419,582.3 421,583.7 423,585.1 425,586.5 427,588 429,589.5 431,591.1 433,592.6 435,594.2 437,595.9 439,597.5 441,599.2 443,600.9 445,602.6 447,604.4 449,606.2 451,608.1 453,609.9 455,611.8 457,613.8 459,615.7 461,617.6 463,619.5 465,621.5 467,623.5 469,625.5 471,627.5 473,629.5 475,631.5 477,633.4 479,635.4 481,637.5 483,639.6 485,641.9 487,644.1 489,646.4 491,648.6 493,650.9 495,653.1 497,655.5 499,657.9 501,660.3 503,662.9 505,665.4 507,668 509,670.6 511,673.1 513,675.7 515,678.3 517,680.8 519,683.3"/><polyline class="lr" points="392,569.5 392,569.5 392.2,569.5 392.4,569.5 392.6,569.6 393,569.6 393.4,569.7 394,569.8 394.6,569.9 395.2,570 396,570.2 396.8,570.5 399,571.1 401,571.8 403,572.5 405,573.3 407,574.2 409,575.3 411,576.5 413,577.7 415,578.9 417,580.1 419,581.4 421,582.7 423,584 425,585.4 427,586.9 429,588.3 431,589.9 433,591.4 435,593 437,594.6 439,596.2 441,597.9 443,599.5 445,601.2 447,602.9 449,604.6 451,606.3 453,608 455,609.7 457,611.5 459,613.3 461,615.1 463,616.9 465,618.6 467,620.3 469,622 471,623.6 473,625.2 475,626.9 477,628.6 479,630.3 481,632 483,633.7 485,635.5 487,637.2 489,638.9 491,640.7 493,642.3 495,644 497,645.7 499,647.4 501,649.1 503,650.8 505,652.5 507,654.1 509,655.8 511,657.5 513,659.2 515,660.8 517,662.5 519,664.1"/></g>
<rect class="fr0" x="392" y="569.5" width="125" height="125"/>
<path class="tk" d="M454.5 694v-3.3M392.5 652.83h3.3M392.5 611.17h3.3"/>
<circle class="pt" cx="393.78" cy="570" r="2.25"/><circle class="pt" cx="395.98" cy="570.33" r="2.25"/><circle class="pt" cx="399.02" cy="571" r="2.25"/><rect class="pt" x="400.51" y="570.72" width="4.7" height="3.07" rx="0.7"/><circle class="pt" cx="402.86" cy="572.25" r="2.25"/><rect class="pt" x="405.09" y="572.26" width="4.7" height="3.48" rx="0.7"/><circle class="pt" cx="407.44" cy="574" r="2.25"/><rect class="pt" x="410.36" y="574.55" width="4.7" height="3.9" rx="0.7"/><circle class="pt" cx="412.71" cy="576.5" r="2.25"/><rect class="pt" x="416.28" y="577.59" width="4.7" height="4.32" rx="0.7"/><circle class="pt" cx="418.63" cy="579.75" r="2.25"/><rect class="pt" x="422.78" y="581.3" width="4.7" height="4.4" rx="0.7"/><circle class="pt" cx="425.13" cy="583.5" r="2.25"/><rect class="pt" x="429.81" y="585.76" width="4.7" height="4.48" rx="0.7"/><circle class="pt" cx="432.16" cy="588" r="2.25"/><rect class="pt" x="437.32" y="590.63" width="4.7" height="4.73" rx="0.7"/><circle class="pt" cx="439.67" cy="593" r="2.25"/><rect class="pt" x="445.27" y="596.51" width="4.7" height="5.15" rx="0.7"/><circle class="pt" cx="447.62" cy="599.08" r="2.25"/><path class="eb" d="M455.96 602.79V607.79M453.66 602.79h4.6M453.66 607.79h4.6"/><circle class="pt" cx="455.96" cy="605.29" r="2.25"/><path class="eb" d="M464.65 609.29V615.12M462.35 609.29h4.6M462.35 615.12h4.6"/><circle class="pt" cx="464.65" cy="612.21" r="2.25"/><path class="eb" d="M473.65 616.46V622.96M471.35 616.46h4.6M471.35 622.96h4.6"/><circle class="pt" cx="473.65" cy="619.71" r="2.25"/><path class="eb" d="M482.94 624.33V631.67M480.64 624.33h4.6M480.64 631.67h4.6"/><circle class="pt" cx="482.94" cy="628" r="2.25"/><path class="eb" d="M492.48 631.83V639.75M490.18 631.83h4.6M490.18 639.75h4.6"/><circle class="pt" cx="492.48" cy="635.79" r="2.25"/><path class="eb" d="M502.25 640.42V649M499.95 640.42h4.6M499.95 649h4.6"/><circle class="pt" cx="502.25" cy="644.71" r="2.25"/><path class="eb" d="M512.23 649.21V658.38M509.93 649.21h4.6M509.93 658.38h4.6"/><circle class="pt" cx="512.23" cy="653.79" r="2.25"/>
<text class="t" text-anchor="middle" x="394" y="710">0.00</text>
<text class="t" text-anchor="middle" x="456.5" y="710">0.05</text>
<text class="t" text-anchor="middle" x="519" y="710">0.10</text>
<rect x="266.5" y="546" width="31.2" height="26.9" fill="#ffffd9" stroke="#1c1c1c" stroke-width="1.3"/>
<text class="l" x="270.7" y="564"><tspan font-style="italic">P</tspan><tspan font-size="9.8px" dy="2.2">31</tspan></text>
<g clip-path="url(#c40)"><polygon class="fo" points="67.5,749.5 67.5,749.5 67.7,749.5 67.9,749.5 68.1,749.5 68.5,749.5 68.9,749.4 69.5,749.3 70.1,749.2 70.7,749 71.5,748.8 72.3,748.6 74.5,747.7 76.5,746.8 78.5,745.8 80.5,744.7 82.5,743.5 84.5,742.2 86.5,740.8 88.5,739.4 90.5,737.9 92.5,736.4 94.5,734.9 96.5,733.3 98.5,731.8 100.5,730.2 102.5,728.6 104.5,726.9 106.5,725.3 108.5,723.7 110.5,722 112.5,720.4 114.5,718.8 116.5,717.1 118.5,715.5 120.5,713.8 122.5,712.2 124.5,710.5 126.5,708.9 128.5,707.3 130.5,705.6 132.5,704 134.5,702.4 136.5,700.8 138.5,699.2 140.5,697.6 142.5,696 144.5,694.5 146.5,692.9 148.5,691.3 150.5,689.8 152.5,688.2 154.5,686.7 156.5,685.2 158.5,683.7 160.5,682.2 162.5,680.7 164.5,679.2 166.5,677.7 168.5,676.3 170.5,674.8 172.5,673.4 174.5,671.9 176.5,670.5 178.5,669.1 180.5,667.7 182.5,666.3 184.5,664.9 186.5,663.5 188.5,662.2 190.5,660.8 192.5,659.5 194.5,658.2 194.5,864.6 192.5,862.8 190.5,861 188.5,859.2 186.5,857.3 184.5,855.6 182.5,853.8 180.5,852 178.5,850.2 176.5,848.5 174.5,846.7 172.5,844.9 170.5,843.2 168.5,841.4 166.5,839.6 164.5,837.8 162.5,836 160.5,834.1 158.5,832.3 156.5,830.4 154.5,828.6 152.5,826.7 150.5,824.8 148.5,822.8 146.5,820.9 144.5,818.9 142.5,816.9 140.5,814.8 138.5,812.8 136.5,810.8 134.5,808.8 132.5,806.7 130.5,804.7 128.5,802.7 126.5,800.6 124.5,798.5 122.5,796.4 120.5,794.2 118.5,792.1 116.5,789.9 114.5,787.7 112.5,785.5 110.5,783.4 108.5,781.2 106.5,779.1 104.5,777 102.5,775 100.5,773 98.5,771 96.5,769.2 94.5,767.4 92.5,765.7 90.5,764.1 88.5,762.5 86.5,760.9 84.5,759.4 82.5,757.9 80.5,756.5 78.5,755.1 76.5,753.8 74.5,752.6 72.3,751.5 71.5,751.1 70.7,750.8 70.1,750.5 69.5,750.3 68.9,750.1 68.5,750 68.1,749.9 67.9,749.8 67.7,749.7 67.5,749.6 67.5,749.5"/><polygon class="fp" points="67.5,749.5 67.5,749.5 67.7,749.5 67.9,749.6 68.1,749.6 68.5,749.6 68.9,749.6 69.5,749.7 70.1,749.7 70.7,749.7 71.5,749.8 72.3,749.8 74.5,749.9 76.5,750.1 78.5,750.3 80.5,750.5 82.5,750.8 84.5,751.1 86.5,751.4 88.5,751.8 90.5,752.1 92.5,752.5 94.5,753 96.5,753.5 98.5,754.1 100.5,754.7 102.5,755.3 104.5,756 106.5,756.6 108.5,757.2 110.5,757.8 112.5,758.5 114.5,759.1 116.5,759.7 118.5,760.3 120.5,761 122.5,761.8 124.5,762.6 126.5,763.4 128.5,764.4 130.5,765.3 132.5,766.4 134.5,767.5 136.5,768.7 138.5,770 140.5,771.3 142.5,772.8 144.5,774.3 146.5,775.9 148.5,777.6 150.5,779.4 152.5,781.3 154.5,783.3 156.5,785.4 158.5,787.6 160.5,789.8 162.5,792.1 164.5,794.3 166.5,796.5 168.5,798.6 170.5,800.7 172.5,802.7 174.5,804.6 176.5,806.4 178.5,808.1 180.5,809.8 182.5,811.3 184.5,812.8 186.5,814.2 188.5,815.5 190.5,816.8 192.5,818 194.5,819.2 194.5,884.2 192.5,880.8 190.5,877.4 188.5,873.9 186.5,870.7 184.5,867.8 182.5,865.2 180.5,862.5 178.5,859.9 176.5,857.3 174.5,854.8 172.5,852.3 170.5,849.9 168.5,847.5 166.5,845.1 164.5,842.8 162.5,840.6 160.5,838.3 158.5,836.1 156.5,834 154.5,831.8 152.5,829.7 150.5,827.6 148.5,825.4 146.5,823.3 144.5,821.2 142.5,819 140.5,816.9 138.5,814.8 136.5,812.7 134.5,810.6 132.5,808.5 130.5,806.4 128.5,804.3 126.5,802.1 124.5,800 122.5,797.8 120.5,795.6 118.5,793.4 116.5,791.2 114.5,789 112.5,786.8 110.5,784.5 108.5,782.3 106.5,780.1 104.5,778 102.5,775.9 100.5,773.8 98.5,771.8 96.5,769.9 94.5,768 92.5,766.2 90.5,764.5 88.5,762.8 86.5,761.2 84.5,759.6 82.5,758.1 80.5,756.6 78.5,755.2 76.5,753.8 74.5,752.7 72.3,751.5 71.5,751.1 70.7,750.8 70.1,750.5 69.5,750.3 68.9,750.1 68.5,750 68.1,749.9 67.9,749.8 67.7,749.7 67.5,749.6 67.5,749.5"/><polygon class="fr" points="67.5,749.5 67.5,749.6 67.7,749.6 67.9,749.7 68.1,749.8 68.5,749.9 68.9,750.1 69.5,750.2 70.1,750.4 70.7,750.7 71.5,751 72.3,751.3 74.5,752.4 76.5,753.5 78.5,754.7 80.5,755.9 82.5,757.2 84.5,758.6 86.5,759.9 88.5,761.4 90.5,762.8 92.5,764.3 94.5,765.7 96.5,767.2 98.5,768.7 100.5,770.3 102.5,771.8 104.5,773.4 106.5,775 108.5,776.6 110.5,778.2 112.5,779.9 114.5,781.6 116.5,783.4 118.5,785.1 120.5,786.9 122.5,788.7 124.5,790.5 126.5,792.3 128.5,794.1 130.5,795.9 132.5,797.7 134.5,799.5 136.5,801.4 138.5,803.1 140.5,804.9 142.5,806.7 144.5,808.6 146.5,810.4 148.5,812.3 150.5,814.2 152.5,816.1 154.5,818 156.5,820 158.5,821.9 160.5,823.9 162.5,825.8 164.5,827.7 166.5,829.5 168.5,831.3 170.5,833.2 172.5,834.9 174.5,836.7 176.5,838.4 178.5,840.1 180.5,841.8 182.5,843.4 184.5,844.9 186.5,846.4 188.5,847.9 190.5,849.4 192.5,850.8 194.5,852.2 194.5,880.2 192.5,878.2 190.5,876.1 188.5,874.1 186.5,872.1 184.5,870.1 182.5,868 180.5,866 178.5,863.9 176.5,861.8 174.5,859.7 172.5,857.6 170.5,855.5 168.5,853.4 166.5,851.3 164.5,849.2 162.5,847 160.5,844.9 158.5,842.8 156.5,840.6 154.5,838.4 152.5,836.3 150.5,834.1 148.5,831.9 146.5,829.7 144.5,827.5 142.5,825.3 140.5,823.1 138.5,820.9 136.5,818.6 134.5,816.4 132.5,814.2 130.5,812 128.5,809.7 126.5,807.5 124.5,805.2 122.5,802.9 120.5,800.5 118.5,798.1 116.5,795.7 114.5,793.3 112.5,790.9 110.5,788.5 108.5,786.1 106.5,783.7 104.5,781.3 102.5,778.9 100.5,776.6 98.5,774.4 96.5,772.2 94.5,770.1 92.5,768 90.5,766 88.5,764.1 86.5,762.2 84.5,760.4 82.5,758.7 80.5,757.1 78.5,755.6 76.5,754.1 74.5,752.8 72.3,751.6 71.5,751.2 70.7,750.9 70.1,750.6 69.5,750.4 68.9,750.2 68.5,750 68.1,749.9 67.9,749.8 67.7,749.7 67.5,749.6 67.5,749.5"/><polyline class="lo" points="67.5,749.5 67.5,749.6 67.7,749.7 67.9,749.8 68.1,749.9 68.5,750 68.9,750.1 69.5,750.3 70.1,750.5 70.7,750.8 71.5,751.1 72.3,751.5 74.5,752.6 76.5,753.8 78.5,755.1 80.5,756.5 82.5,757.9 84.5,759.4 86.5,760.9 88.5,762.5 90.5,764.1 92.5,765.7 94.5,767.4 96.5,769.2 98.5,771 100.5,773 102.5,775 104.5,777 106.5,779.1 108.5,781.2 110.5,783.4 112.5,785.5 114.5,787.7 116.5,789.9 118.5,792.1 120.5,794.2 122.5,796.4 124.5,798.5 126.5,800.6 128.5,802.7 130.5,804.7 132.5,806.7 134.5,808.8 136.5,810.8 138.5,812.8 140.5,814.8 142.5,816.9 144.5,818.9 146.5,820.9 148.5,822.8 150.5,824.8 152.5,826.7 154.5,828.6 156.5,830.4 158.5,832.3 160.5,834.1 162.5,836 164.5,837.8 166.5,839.6 168.5,841.4 170.5,843.2 172.5,844.9 174.5,846.7 176.5,848.5 178.5,850.2 180.5,852 182.5,853.8 184.5,855.6 186.5,857.3 188.5,859.2 190.5,861 192.5,862.8 194.5,864.6"/><polyline class="lo" points="67.5,749.5 67.5,749.5 67.7,749.5 67.9,749.5 68.1,749.5 68.5,749.5 68.9,749.4 69.5,749.3 70.1,749.2 70.7,749 71.5,748.8 72.3,748.6 74.5,747.7 76.5,746.8 78.5,745.8 80.5,744.7 82.5,743.5 84.5,742.2 86.5,740.8 88.5,739.4 90.5,737.9 92.5,736.4 94.5,734.9 96.5,733.3 98.5,731.8 100.5,730.2 102.5,728.6 104.5,726.9 106.5,725.3 108.5,723.7 110.5,722 112.5,720.4 114.5,718.8 116.5,717.1 118.5,715.5 120.5,713.8 122.5,712.2 124.5,710.5 126.5,708.9 128.5,707.3 130.5,705.6 132.5,704 134.5,702.4 136.5,700.8 138.5,699.2 140.5,697.6 142.5,696 144.5,694.5 146.5,692.9 148.5,691.3 150.5,689.8 152.5,688.2 154.5,686.7 156.5,685.2 158.5,683.7 160.5,682.2 162.5,680.7 164.5,679.2 166.5,677.7 168.5,676.3 170.5,674.8 172.5,673.4 174.5,671.9 176.5,670.5 178.5,669.1 180.5,667.7 182.5,666.3 184.5,664.9 186.5,663.5 188.5,662.2 190.5,660.8 192.5,659.5 194.5,658.2"/><polyline class="lp" points="67.5,749.5 67.5,749.6 67.7,749.7 67.9,749.8 68.1,749.9 68.5,750 68.9,750.1 69.5,750.3 70.1,750.5 70.7,750.8 71.5,751.1 72.3,751.5 74.5,752.7 76.5,753.8 78.5,755.2 80.5,756.6 82.5,758.1 84.5,759.6 86.5,761.2 88.5,762.8 90.5,764.5 92.5,766.2 94.5,768 96.5,769.9 98.5,771.8 100.5,773.8 102.5,775.9 104.5,778 106.5,780.1 108.5,782.3 110.5,784.5 112.5,786.8 114.5,789 116.5,791.2 118.5,793.4 120.5,795.6 122.5,797.8 124.5,800 126.5,802.1 128.5,804.3 130.5,806.4 132.5,808.5 134.5,810.6 136.5,812.7 138.5,814.8 140.5,816.9 142.5,819 144.5,821.2 146.5,823.3 148.5,825.4 150.5,827.6 152.5,829.7 154.5,831.8 156.5,834 158.5,836.1 160.5,838.3 162.5,840.6 164.5,842.8 166.5,845.1 168.5,847.5 170.5,849.9 172.5,852.3 174.5,854.8 176.5,857.3 178.5,859.9 180.5,862.5 182.5,865.2 184.5,867.8 186.5,870.7 188.5,873.9 190.5,877.4 192.5,880.8 194.5,884.2"/><polyline class="lp" points="67.5,749.5 67.5,749.5 67.7,749.5 67.9,749.6 68.1,749.6 68.5,749.6 68.9,749.6 69.5,749.7 70.1,749.7 70.7,749.7 71.5,749.8 72.3,749.8 74.5,749.9 76.5,750.1 78.5,750.3 80.5,750.5 82.5,750.8 84.5,751.1 86.5,751.4 88.5,751.8 90.5,752.1 92.5,752.5 94.5,753 96.5,753.5 98.5,754.1 100.5,754.7 102.5,755.3 104.5,756 106.5,756.6 108.5,757.2 110.5,757.8 112.5,758.5 114.5,759.1 116.5,759.7 118.5,760.3 120.5,761 122.5,761.8 124.5,762.6 126.5,763.4 128.5,764.4 130.5,765.3 132.5,766.4 134.5,767.5 136.5,768.7 138.5,770 140.5,771.3 142.5,772.8 144.5,774.3 146.5,775.9 148.5,777.6 150.5,779.4 152.5,781.3 154.5,783.3 156.5,785.4 158.5,787.6 160.5,789.8 162.5,792.1 164.5,794.3 166.5,796.5 168.5,798.6 170.5,800.7 172.5,802.7 174.5,804.6 176.5,806.4 178.5,808.1 180.5,809.8 182.5,811.3 184.5,812.8 186.5,814.2 188.5,815.5 190.5,816.8 192.5,818 194.5,819.2"/><polyline class="lr" points="67.5,749.5 67.5,749.6 67.7,749.7 67.9,749.8 68.1,749.9 68.5,750 68.9,750.2 69.5,750.4 70.1,750.6 70.7,750.9 71.5,751.2 72.3,751.6 74.5,752.8 76.5,754.1 78.5,755.6 80.5,757.1 82.5,758.7 84.5,760.4 86.5,762.2 88.5,764.1 90.5,766 92.5,768 94.5,770.1 96.5,772.2 98.5,774.4 100.5,776.6 102.5,778.9 104.5,781.3 106.5,783.7 108.5,786.1 110.5,788.5 112.5,790.9 114.5,793.3 116.5,795.7 118.5,798.1 120.5,800.5 122.5,802.9 124.5,805.2 126.5,807.5 128.5,809.7 130.5,812 132.5,814.2 134.5,816.4 136.5,818.6 138.5,820.9 140.5,823.1 142.5,825.3 144.5,827.5 146.5,829.7 148.5,831.9 150.5,834.1 152.5,836.3 154.5,838.4 156.5,840.6 158.5,842.8 160.5,844.9 162.5,847 164.5,849.2 166.5,851.3 168.5,853.4 170.5,855.5 172.5,857.6 174.5,859.7 176.5,861.8 178.5,863.9 180.5,866 182.5,868 184.5,870.1 186.5,872.1 188.5,874.1 190.5,876.1 192.5,878.2 194.5,880.2"/><polyline class="lr" points="67.5,749.5 67.5,749.6 67.7,749.6 67.9,749.7 68.1,749.8 68.5,749.9 68.9,750.1 69.5,750.2 70.1,750.4 70.7,750.7 71.5,751 72.3,751.3 74.5,752.4 76.5,753.5 78.5,754.7 80.5,755.9 82.5,757.2 84.5,758.6 86.5,759.9 88.5,761.4 90.5,762.8 92.5,764.3 94.5,765.7 96.5,767.2 98.5,768.7 100.5,770.3 102.5,771.8 104.5,773.4 106.5,775 108.5,776.6 110.5,778.2 112.5,779.9 114.5,781.6 116.5,783.4 118.5,785.1 120.5,786.9 122.5,788.7 124.5,790.5 126.5,792.3 128.5,794.1 130.5,795.9 132.5,797.7 134.5,799.5 136.5,801.4 138.5,803.1 140.5,804.9 142.5,806.7 144.5,808.6 146.5,810.4 148.5,812.3 150.5,814.2 152.5,816.1 154.5,818 156.5,820 158.5,821.9 160.5,823.9 162.5,825.8 164.5,827.7 166.5,829.5 168.5,831.3 170.5,833.2 172.5,834.9 174.5,836.7 176.5,838.4 178.5,840.1 180.5,841.8 182.5,843.4 184.5,844.9 186.5,846.4 188.5,847.9 190.5,849.4 192.5,850.8 194.5,852.2"/></g>
<rect class="fr0" x="67.5" y="749.5" width="125" height="125"/>
<path class="tk" d="M130 874v-3.3M68 832.83h3.3M68 791.17h3.3"/>
<circle class="pt" cx="69.28" cy="750" r="2.25"/><circle class="pt" cx="71.48" cy="750.67" r="2.25"/><circle class="pt" cx="74.52" cy="751.83" r="2.25"/><circle class="pt" cx="78.36" cy="753.5" r="2.25"/><rect class="pt" x="80.59" y="754.47" width="4.7" height="3.07" rx="0.7"/><circle class="pt" cx="82.94" cy="756" r="2.25"/><rect class="pt" x="85.86" y="757.63" width="4.7" height="3.4" rx="0.7"/><circle class="pt" cx="88.21" cy="759.33" r="2.25"/><rect class="pt" x="91.78" y="761.22" width="4.7" height="3.9" rx="0.7"/><circle class="pt" cx="94.13" cy="763.17" r="2.25"/><rect class="pt" x="98.28" y="765.97" width="4.7" height="4.4" rx="0.7"/><circle class="pt" cx="100.63" cy="768.17" r="2.25"/><rect class="pt" x="105.31" y="771.3" width="4.7" height="4.73" rx="0.7"/><circle class="pt" cx="107.66" cy="773.67" r="2.25"/><rect class="pt" x="112.82" y="777.38" width="4.7" height="5.07" rx="0.7"/><circle class="pt" cx="115.17" cy="779.92" r="2.25"/><rect class="pt" x="120.77" y="783.97" width="4.7" height="5.73" rx="0.7"/><circle class="pt" cx="123.12" cy="786.83" r="2.25"/><path class="eb" d="M131.46 791.92V796.92M129.16 791.92h4.6M129.16 796.92h4.6"/><circle class="pt" cx="131.46" cy="794.42" r="2.25"/><path class="eb" d="M140.15 799.5V805.5M137.85 799.5h4.6M137.85 805.5h4.6"/><circle class="pt" cx="140.15" cy="802.5" r="2.25"/><path class="eb" d="M149.15 807.17V814.5M146.85 807.17h4.6M146.85 814.5h4.6"/><circle class="pt" cx="149.15" cy="810.83" r="2.25"/><path class="eb" d="M158.44 815.5V823.83M156.14 815.5h4.6M156.14 823.83h4.6"/><circle class="pt" cx="158.44" cy="819.67" r="2.25"/><path class="eb" d="M167.98 824.17V833.17M165.68 824.17h4.6M165.68 833.17h4.6"/><circle class="pt" cx="167.98" cy="828.67" r="2.25"/><path class="eb" d="M177.75 833.33V843.33M175.45 833.33h4.6M175.45 843.33h4.6"/><circle class="pt" cx="177.75" cy="838.33" r="2.25"/><path class="eb" d="M187.73 843V853.67M185.43 843h4.6M185.43 853.67h4.6"/><circle class="pt" cx="187.73" cy="848.33" r="2.25"/>
<text class="t" text-anchor="middle" x="69.5" y="890">0.00</text>
<text class="t" text-anchor="middle" x="132" y="890">0.05</text>
<text class="t" text-anchor="middle" x="194.5" y="890">0.10</text>
<text class="t" text-anchor="end" x="62.3" y="878.5">−1.5</text>
<text class="t" text-anchor="end" x="62.3" y="836.83">−1.0</text>
<text class="t" text-anchor="end" x="62.3" y="795.17">−0.5</text>
<text class="t" text-anchor="end" x="62.3" y="753.5">0.0</text>
<g clip-path="url(#c41)"><polygon class="fo" points="229.5,749.5 229.5,749.5 229.7,749.4 229.9,749.4 230.1,749.4 230.5,749.4 230.9,749.4 231.5,749.4 232.1,749.5 232.7,749.5 233.5,749.6 234.3,749.8 236.5,750.2 238.5,750.6 240.5,751 242.5,751.4 244.5,751.9 246.5,752.5 248.5,753.1 250.5,753.7 252.5,754.2 254.5,754.7 256.5,755.2 258.5,755.7 260.5,756.3 262.5,756.9 264.5,757.5 266.5,758.2 268.5,758.7 270.5,759.3 272.5,759.9 274.5,760.6 276.5,761.2 278.5,761.9 280.5,762.6 282.5,763.2 284.5,763.9 286.5,764.5 288.5,765.1 290.5,765.6 292.5,766.1 294.5,766.6 296.5,766.9 298.5,767.1 300.5,767.2 302.5,767.1 304.5,766.9 306.5,766.5 308.5,766 310.5,765.3 312.5,764.6 314.5,763.8 316.5,763 318.5,762 320.5,760.9 322.5,759.6 324.5,758.1 326.5,756.5 328.5,754.9 330.5,753.3 332.5,751.6 334.5,749.8 336.5,747.9 338.5,746 340.5,744 342.5,742.1 344.5,740.1 346.5,738.1 348.5,736.2 350.5,734.2 352.5,732.3 354.5,730.3 356.5,728.4 356.5,913.6 354.5,909.3 352.5,905 350.5,900.8 348.5,896.5 346.5,892.2 344.5,888 342.5,883.7 340.5,879.4 338.5,875.1 336.5,870.9 334.5,866.8 332.5,862.9 330.5,859.2 328.5,855.5 326.5,851.8 324.5,848.1 322.5,844.5 320.5,840.9 318.5,837.5 316.5,834.2 314.5,831.2 312.5,828.3 310.5,825.5 308.5,822.8 306.5,820.2 304.5,817.7 302.5,815.2 300.5,812.9 298.5,810.7 296.5,808.6 294.5,806.5 292.5,804.5 290.5,802.4 288.5,800.4 286.5,798.4 284.5,796.4 282.5,794.3 280.5,792.3 278.5,790.2 276.5,788.2 274.5,786.2 272.5,784.2 270.5,782.3 268.5,780.4 266.5,778.6 264.5,776.7 262.5,774.8 260.5,772.9 258.5,770.9 256.5,768.9 254.5,766.9 252.5,765 250.5,763 248.5,761.1 246.5,759.3 244.5,757.6 242.5,755.9 240.5,754.4 238.5,753 236.5,751.8 234.3,750.7 233.5,750.4 232.7,750.2 232.1,750 231.5,749.8 230.9,749.7 230.5,749.6 230.1,749.6 229.9,749.5 229.7,749.5 229.5,749.5 229.5,749.5"/><polygon class="fp" points="229.5,749.5 229.5,749.5 229.7,749.6 229.9,749.6 230.1,749.7 230.5,749.8 230.9,749.9 231.5,750 232.1,750.2 232.7,750.3 233.5,750.6 234.3,750.8 236.5,751.6 238.5,752.4 240.5,753.2 242.5,754.2 244.5,755.2 246.5,756.3 248.5,757.5 250.5,758.7 252.5,759.9 254.5,761.2 256.5,762.6 258.5,764 260.5,765.5 262.5,767.1 264.5,768.7 266.5,770.3 268.5,771.9 270.5,773.6 272.5,775.2 274.5,776.9 276.5,778.6 278.5,780.4 280.5,782.2 282.5,784 284.5,785.9 286.5,787.6 288.5,789.4 290.5,791.1 292.5,792.9 294.5,794.9 296.5,796.9 298.5,799 300.5,801.2 302.5,803.4 304.5,805.6 306.5,807.9 308.5,810.1 310.5,812.3 312.5,814.5 314.5,816.7 316.5,818.8 318.5,821 320.5,823.1 322.5,825.1 324.5,827 326.5,828.8 328.5,830.5 330.5,831.9 332.5,833.2 334.5,834.4 336.5,835.4 338.5,836.3 340.5,837.1 342.5,837.8 344.5,838.4 346.5,839 348.5,839.5 350.5,840 352.5,840.4 354.5,840.8 356.5,841.2 356.5,974.1 354.5,967.7 352.5,961.2 350.5,954.7 348.5,948.3 346.5,941.8 344.5,935.3 342.5,928.9 340.5,922.4 338.5,915.9 336.5,909.5 334.5,903 332.5,896.5 330.5,890.1 328.5,883.6 326.5,877.1 324.5,870.5 322.5,863.9 320.5,857.6 318.5,852 316.5,847 314.5,842.8 312.5,839 310.5,835.5 308.5,832 306.5,828.7 304.5,825.4 302.5,822 300.5,818.7 298.5,815.4 296.5,812.2 294.5,809.3 292.5,806.7 290.5,804.5 288.5,802.5 286.5,800.6 284.5,798.6 282.5,796.5 280.5,794.3 278.5,792.1 276.5,789.9 274.5,787.9 272.5,785.9 270.5,783.9 268.5,782 266.5,780.2 264.5,778.3 262.5,776.3 260.5,774.3 258.5,772.3 256.5,770.2 254.5,768.2 252.5,766.1 250.5,764.1 248.5,762.1 246.5,760.2 244.5,758.3 242.5,756.5 240.5,754.9 238.5,753.3 236.5,752.1 234.3,750.9 233.5,750.6 232.7,750.3 232.1,750 231.5,749.8 230.9,749.7 230.5,749.6 230.1,749.5 229.9,749.5 229.7,749.5 229.5,749.5 229.5,749.5"/><polygon class="fr" points="229.5,749.5 229.5,749.5 229.7,749.5 229.9,749.5 230.1,749.6 230.5,749.6 230.9,749.7 231.5,749.8 232.1,749.9 232.7,750.1 233.5,750.3 234.3,750.6 236.5,751.6 238.5,752.7 240.5,754.1 242.5,755.6 244.5,757.2 246.5,758.8 248.5,760.6 250.5,762.4 252.5,764.2 254.5,766.1 256.5,768 258.5,769.9 260.5,771.8 262.5,773.7 264.5,775.6 266.5,777.5 268.5,779.3 270.5,781.2 272.5,783.1 274.5,785.1 276.5,787 278.5,789 280.5,790.9 282.5,792.9 284.5,794.8 286.5,796.8 288.5,798.8 290.5,800.8 292.5,802.7 294.5,804.7 296.5,806.6 298.5,808.4 300.5,810.2 302.5,811.9 304.5,813.4 306.5,814.9 308.5,816.2 310.5,817.4 312.5,818.5 314.5,819.5 316.5,820.3 318.5,821.1 320.5,821.8 322.5,822.4 324.5,822.9 326.5,823.2 328.5,823.4 330.5,823.5 332.5,823.5 334.5,823.4 336.5,823.2 338.5,823 340.5,822.6 342.5,822.2 344.5,821.5 346.5,820.7 348.5,819.8 350.5,818.8 352.5,817.8 354.5,816.7 356.5,815.6 356.5,865.9 354.5,864.2 352.5,862.5 350.5,860.7 348.5,859 346.5,857.2 344.5,855.4 342.5,853.7 340.5,851.9 338.5,850 336.5,848.2 334.5,846.4 332.5,844.6 330.5,842.7 328.5,840.8 326.5,838.9 324.5,837 322.5,835 320.5,833.1 318.5,831.2 316.5,829.4 314.5,827.6 312.5,825.9 310.5,824 308.5,822.1 306.5,820.1 304.5,818.1 302.5,816 300.5,814 298.5,812 296.5,810 294.5,808 292.5,806 290.5,804 288.5,802 286.5,800 284.5,798 282.5,795.8 280.5,793.7 278.5,791.6 276.5,789.5 274.5,787.4 272.5,785.4 270.5,783.4 268.5,781.5 266.5,779.7 264.5,777.8 262.5,775.9 260.5,773.9 258.5,771.9 256.5,769.9 254.5,767.8 252.5,765.8 250.5,763.8 248.5,761.8 246.5,760 244.5,758.1 242.5,756.4 240.5,754.7 238.5,753.3 236.5,752 234.3,750.8 233.5,750.5 232.7,750.2 232.1,750 231.5,749.9 230.9,749.7 230.5,749.6 230.1,749.6 229.9,749.5 229.7,749.5 229.5,749.5 229.5,749.5"/><polyline class="lo" points="229.5,749.5 229.5,749.5 229.7,749.5 229.9,749.5 230.1,749.6 230.5,749.6 230.9,749.7 231.5,749.8 232.1,750 232.7,750.2 233.5,750.4 234.3,750.7 236.5,751.8 238.5,753 240.5,754.4 242.5,755.9 244.5,757.6 246.5,759.3 248.5,761.1 250.5,763 252.5,765 254.5,766.9 256.5,768.9 258.5,770.9 260.5,772.9 262.5,774.8 264.5,776.7 266.5,778.6 268.5,780.4 270.5,782.3 272.5,784.2 274.5,786.2 276.5,788.2 278.5,790.2 280.5,792.3 282.5,794.3 284.5,796.4 286.5,798.4 288.5,800.4 290.5,802.4 292.5,804.5 294.5,806.5 296.5,808.6 298.5,810.7 300.5,812.9 302.5,815.2 304.5,817.7 306.5,820.2 308.5,822.8 310.5,825.5 312.5,828.3 314.5,831.2 316.5,834.2 318.5,837.5 320.5,840.9 322.5,844.5 324.5,848.1 326.5,851.8 328.5,855.5 330.5,859.2 332.5,862.9 334.5,866.8 336.5,870.9 338.5,875.1 340.5,879.4 342.5,883.7 344.5,888 346.5,892.2 348.5,896.5 350.5,900.8 352.5,905 354.5,909.3 356.5,913.6"/><polyline class="lo" points="229.5,749.5 229.5,749.5 229.7,749.4 229.9,749.4 230.1,749.4 230.5,749.4 230.9,749.4 231.5,749.4 232.1,749.5 232.7,749.5 233.5,749.6 234.3,749.8 236.5,750.2 238.5,750.6 240.5,751 242.5,751.4 244.5,751.9 246.5,752.5 248.5,753.1 250.5,753.7 252.5,754.2 254.5,754.7 256.5,755.2 258.5,755.7 260.5,756.3 262.5,756.9 264.5,757.5 266.5,758.2 268.5,758.7 270.5,759.3 272.5,759.9 274.5,760.6 276.5,761.2 278.5,761.9 280.5,762.6 282.5,763.2 284.5,763.9 286.5,764.5 288.5,765.1 290.5,765.6 292.5,766.1 294.5,766.6 296.5,766.9 298.5,767.1 300.5,767.2 302.5,767.1 304.5,766.9 306.5,766.5 308.5,766 310.5,765.3 312.5,764.6 314.5,763.8 316.5,763 318.5,762 320.5,760.9 322.5,759.6 324.5,758.1 326.5,756.5 328.5,754.9 330.5,753.3 332.5,751.6 334.5,749.8 336.5,747.9 338.5,746 340.5,744 342.5,742.1 344.5,740.1 346.5,738.1 348.5,736.2 350.5,734.2 352.5,732.3 354.5,730.3 356.5,728.4"/><polyline class="lp" points="229.5,749.5 229.5,749.5 229.7,749.5 229.9,749.5 230.1,749.5 230.5,749.6 230.9,749.7 231.5,749.8 232.1,750 232.7,750.3 233.5,750.6 234.3,750.9 236.5,752.1 238.5,753.3 240.5,754.9 242.5,756.5 244.5,758.3 246.5,760.2 248.5,762.1 250.5,764.1 252.5,766.1 254.5,768.2 256.5,770.2 258.5,772.3 260.5,774.3 262.5,776.3 264.5,778.3 266.5,780.2 268.5,782 270.5,783.9 272.5,785.9 274.5,787.9 276.5,789.9 278.5,792.1 280.5,794.3 282.5,796.5 284.5,798.6 286.5,800.6 288.5,802.5 290.5,804.5 292.5,806.7 294.5,809.3 296.5,812.2 298.5,815.4 300.5,818.7 302.5,822 304.5,825.4 306.5,828.7 308.5,832 310.5,835.5 312.5,839 314.5,842.8 316.5,847 318.5,852 320.5,857.6 322.5,863.9 324.5,870.5 326.5,877.1 328.5,883.6 330.5,890.1 332.5,896.5 334.5,903 336.5,909.5 338.5,915.9 340.5,922.4 342.5,928.9 344.5,935.3 346.5,941.8 348.5,948.3 350.5,954.7 352.5,961.2 354.5,967.7 356.5,974.1"/><polyline class="lp" points="229.5,749.5 229.5,749.5 229.7,749.6 229.9,749.6 230.1,749.7 230.5,749.8 230.9,749.9 231.5,750 232.1,750.2 232.7,750.3 233.5,750.6 234.3,750.8 236.5,751.6 238.5,752.4 240.5,753.2 242.5,754.2 244.5,755.2 246.5,756.3 248.5,757.5 250.5,758.7 252.5,759.9 254.5,761.2 256.5,762.6 258.5,764 260.5,765.5 262.5,767.1 264.5,768.7 266.5,770.3 268.5,771.9 270.5,773.6 272.5,775.2 274.5,776.9 276.5,778.6 278.5,780.4 280.5,782.2 282.5,784 284.5,785.9 286.5,787.6 288.5,789.4 290.5,791.1 292.5,792.9 294.5,794.9 296.5,796.9 298.5,799 300.5,801.2 302.5,803.4 304.5,805.6 306.5,807.9 308.5,810.1 310.5,812.3 312.5,814.5 314.5,816.7 316.5,818.8 318.5,821 320.5,823.1 322.5,825.1 324.5,827 326.5,828.8 328.5,830.5 330.5,831.9 332.5,833.2 334.5,834.4 336.5,835.4 338.5,836.3 340.5,837.1 342.5,837.8 344.5,838.4 346.5,839 348.5,839.5 350.5,840 352.5,840.4 354.5,840.8 356.5,841.2"/><polyline class="lr" points="229.5,749.5 229.5,749.5 229.7,749.5 229.9,749.5 230.1,749.6 230.5,749.6 230.9,749.7 231.5,749.9 232.1,750 232.7,750.2 233.5,750.5 234.3,750.8 236.5,752 238.5,753.3 240.5,754.7 242.5,756.4 244.5,758.1 246.5,760 248.5,761.8 250.5,763.8 252.5,765.8 254.5,767.8 256.5,769.9 258.5,771.9 260.5,773.9 262.5,775.9 264.5,777.8 266.5,779.7 268.5,781.5 270.5,783.4 272.5,785.4 274.5,787.4 276.5,789.5 278.5,791.6 280.5,793.7 282.5,795.8 284.5,798 286.5,800 288.5,802 290.5,804 292.5,806 294.5,808 296.5,810 298.5,812 300.5,814 302.5,816 304.5,818.1 306.5,820.1 308.5,822.1 310.5,824 312.5,825.9 314.5,827.6 316.5,829.4 318.5,831.2 320.5,833.1 322.5,835 324.5,837 326.5,838.9 328.5,840.8 330.5,842.7 332.5,844.6 334.5,846.4 336.5,848.2 338.5,850 340.5,851.9 342.5,853.7 344.5,855.4 346.5,857.2 348.5,859 350.5,860.7 352.5,862.5 354.5,864.2 356.5,865.9"/><polyline class="lr" points="229.5,749.5 229.5,749.5 229.7,749.5 229.9,749.5 230.1,749.6 230.5,749.6 230.9,749.7 231.5,749.8 232.1,749.9 232.7,750.1 233.5,750.3 234.3,750.6 236.5,751.6 238.5,752.7 240.5,754.1 242.5,755.6 244.5,757.2 246.5,758.8 248.5,760.6 250.5,762.4 252.5,764.2 254.5,766.1 256.5,768 258.5,769.9 260.5,771.8 262.5,773.7 264.5,775.6 266.5,777.5 268.5,779.3 270.5,781.2 272.5,783.1 274.5,785.1 276.5,787 278.5,789 280.5,790.9 282.5,792.9 284.5,794.8 286.5,796.8 288.5,798.8 290.5,800.8 292.5,802.7 294.5,804.7 296.5,806.6 298.5,808.4 300.5,810.2 302.5,811.9 304.5,813.4 306.5,814.9 308.5,816.2 310.5,817.4 312.5,818.5 314.5,819.5 316.5,820.3 318.5,821.1 320.5,821.8 322.5,822.4 324.5,822.9 326.5,823.2 328.5,823.4 330.5,823.5 332.5,823.5 334.5,823.4 336.5,823.2 338.5,823 340.5,822.6 342.5,822.2 344.5,821.5 346.5,820.7 348.5,819.8 350.5,818.8 352.5,817.8 354.5,816.7 356.5,815.6"/></g>
<rect class="fr0" x="229.5" y="749.5" width="125" height="125"/>
<path class="tk" d="M292 874v-3.3M230 832.83h3.3M230 791.17h3.3"/>
<circle class="pt" cx="231.28" cy="750" r="2.25"/><circle class="pt" cx="233.48" cy="750.67" r="2.25"/><circle class="pt" cx="236.52" cy="751.83" r="2.25"/><circle class="pt" cx="240.36" cy="753.5" r="2.25"/><rect class="pt" x="242.59" y="754.47" width="4.7" height="3.07" rx="0.7"/><circle class="pt" cx="244.94" cy="756" r="2.25"/><rect class="pt" x="247.86" y="757.63" width="4.7" height="3.4" rx="0.7"/><circle class="pt" cx="250.21" cy="759.33" r="2.25"/><rect class="pt" x="253.78" y="761.22" width="4.7" height="3.9" rx="0.7"/><circle class="pt" cx="256.13" cy="763.17" r="2.25"/><rect class="pt" x="260.28" y="765.97" width="4.7" height="4.4" rx="0.7"/><circle class="pt" cx="262.63" cy="768.17" r="2.25"/><rect class="pt" x="267.31" y="771.3" width="4.7" height="4.73" rx="0.7"/><circle class="pt" cx="269.66" cy="773.67" r="2.25"/><rect class="pt" x="274.82" y="777.38" width="4.7" height="5.07" rx="0.7"/><circle class="pt" cx="277.17" cy="779.92" r="2.25"/><rect class="pt" x="282.77" y="783.97" width="4.7" height="5.73" rx="0.7"/><circle class="pt" cx="285.12" cy="786.83" r="2.25"/><path class="eb" d="M293.46 791.92V796.92M291.16 791.92h4.6M291.16 796.92h4.6"/><circle class="pt" cx="293.46" cy="794.42" r="2.25"/><path class="eb" d="M302.15 799.5V805.5M299.85 799.5h4.6M299.85 805.5h4.6"/><circle class="pt" cx="302.15" cy="802.5" r="2.25"/><path class="eb" d="M311.15 807.17V814.5M308.85 807.17h4.6M308.85 814.5h4.6"/><circle class="pt" cx="311.15" cy="810.83" r="2.25"/><path class="eb" d="M320.44 815.5V823.83M318.14 815.5h4.6M318.14 823.83h4.6"/><circle class="pt" cx="320.44" cy="819.67" r="2.25"/><path class="eb" d="M329.98 824.17V833.17M327.68 824.17h4.6M327.68 833.17h4.6"/><circle class="pt" cx="329.98" cy="828.67" r="2.25"/><path class="eb" d="M339.75 833.33V843.33M337.45 833.33h4.6M337.45 843.33h4.6"/><circle class="pt" cx="339.75" cy="838.33" r="2.25"/><path class="eb" d="M349.73 843V853.67M347.43 843h4.6M347.43 853.67h4.6"/><circle class="pt" cx="349.73" cy="848.33" r="2.25"/>
<text class="t" text-anchor="middle" x="231.5" y="890">0.00</text>
<text class="t" text-anchor="middle" x="294" y="890">0.05</text>
<text class="t" text-anchor="middle" x="356.5" y="890">0.10</text>
<g clip-path="url(#c42)"><polygon class="fo" points="392,749.5 392,749.5 392.2,749.5 392.4,749.5 392.6,749.5 393,749.5 393.4,749.4 394,749.3 394.6,749.2 395.2,749 396,748.8 396.8,748.6 399,747.7 401,746.8 403,745.8 405,744.7 407,743.5 409,742.2 411,740.8 413,739.4 415,737.9 417,736.4 419,734.9 421,733.3 423,731.8 425,730.2 427,728.6 429,726.9 431,725.3 433,723.7 435,722 437,720.4 439,718.8 441,717.1 443,715.5 445,713.8 447,712.2 449,710.5 451,708.9 453,707.3 455,705.6 457,704 459,702.4 461,700.8 463,699.2 465,697.6 467,696 469,694.5 471,692.9 473,691.3 475,689.8 477,688.2 479,686.7 481,685.2 483,683.7 485,682.2 487,680.7 489,679.2 491,677.7 493,676.3 495,674.8 497,673.4 499,671.9 501,670.5 503,669.1 505,667.7 507,666.3 509,664.9 511,663.5 513,662.2 515,660.8 517,659.5 519,658.2 519,925 517,921.2 515,917.3 513,913.5 511,909.6 509,905.8 507,901.9 505,898.1 503,894.3 501,890.4 499,886.6 497,882.7 495,878.9 493,875.1 491,871.4 489,867.8 487,864.1 485,860.5 483,856.9 481,853.3 479,849.8 477,846.4 475,843 473,839.7 471,836.5 469,833.3 467,830.1 465,826.9 463,823.7 461,820.5 459,817.2 457,813.9 455,810.7 453,807.4 451,804.1 449,801 447,798 445,795.1 443,792.5 441,790 439,787.6 437,785.1 435,782.5 433,780 431,777.6 429,775.4 427,773.3 425,771.4 423,769.6 421,767.9 419,766.2 417,764.7 415,763.1 413,761.7 411,760.3 409,758.8 407,757.4 405,755.8 403,754.2 401,752.8 399,751.7 396.8,750.7 396,750.4 395.2,750.2 394.6,750 394,749.8 393.4,749.7 393,749.6 392.6,749.6 392.4,749.5 392.2,749.5 392,749.5 392,749.5"/><polygon class="fp" points="392,749.5 392,749.5 392.2,749.5 392.4,749.5 392.6,749.5 393,749.6 393.4,749.6 394,749.7 394.6,749.8 395.2,749.9 396,750.1 396.8,750.3 399,751.1 401,752 403,753 405,754.2 407,755.3 409,756.5 411,757.7 413,758.9 415,760.1 417,761.4 419,762.7 421,764.1 423,765.6 425,767.2 427,768.8 429,770.5 431,772.2 433,774 435,775.8 437,777.6 439,779.4 441,781.3 443,783.2 445,785.2 447,787.1 449,789.1 451,791 453,793 455,795 457,797 459,799 461,801 463,803 465,804.9 467,806.7 469,808.4 471,810.1 473,811.7 475,813.3 477,814.8 479,816.1 481,817.3 483,818.3 485,819.2 487,820 489,820.7 491,821.3 493,821.9 495,822.4 497,822.9 499,823.3 501,823.6 503,823.9 505,824.1 507,824.3 509,824.4 511,824.4 513,824.4 515,824.4 517,824.4 519,824.4 519,976.4 517,971.6 515,966.7 513,961.9 511,957.1 509,952.2 507,947.4 505,942.6 503,937.7 501,932.9 499,928.1 497,923.3 495,918.4 493,913.6 491,908.8 489,903.9 487,899.1 485,894.3 483,889.5 481,884.6 479,879.8 477,875 475,870.3 473,865.7 471,861.1 469,856.5 467,851.9 465,847.4 463,842.9 461,838.7 459,834.5 457,830.3 455,826.3 453,822.2 451,818.1 449,813.9 447,809.4 445,804.8 443,800.5 441,796.9 439,793.8 437,790.5 435,787 433,784 431,781.2 429,778.7 427,776.2 425,773.9 423,771.8 421,769.7 419,767.8 417,766 415,764.2 413,762.6 411,761 409,759.5 407,758 405,756.3 403,754.7 401,753.2 399,751.9 396.8,750.9 396,750.5 395.2,750.2 394.6,750 394,749.8 393.4,749.7 393,749.6 392.6,749.6 392.4,749.5 392.2,749.5 392,749.5 392,749.5"/><polygon class="fr" points="392,749.5 392,749.5 392.2,749.5 392.4,749.5 392.6,749.5 393,749.6 393.4,749.7 394,749.8 394.6,749.9 395.2,750.1 396,750.3 396.8,750.6 399,751.6 401,752.6 403,754 405,755.6 407,757.1 409,758.5 411,759.9 413,761.3 415,762.7 417,764.2 419,765.7 421,767.3 423,768.8 425,770.4 427,772 429,773.5 431,775.1 433,776.6 435,778.1 437,779.6 439,781.1 441,782.5 443,784 445,785.5 447,787.1 449,788.6 451,790.2 453,791.7 455,793.3 457,794.7 459,796.1 461,797.4 463,798.5 465,799.5 467,800.4 469,801.1 471,801.8 473,802.3 475,802.7 477,803 479,803.2 481,803.3 483,803.3 485,803.1 487,802.9 489,802.6 491,802.1 493,801.7 495,801 497,800.3 499,799.4 501,798.3 503,797.1 505,795.8 507,794.2 509,792.5 511,790.7 513,788.9 515,786.9 517,785 519,783.1 519,864 517,862 515,860 513,857.9 511,855.9 509,853.9 507,851.8 505,849.8 503,847.8 501,845.8 499,843.8 497,841.8 495,839.8 493,837.9 491,835.9 489,833.9 487,831.9 485,829.8 483,827.8 481,825.8 479,823.8 477,821.9 475,819.9 473,818 471,816 469,814.1 467,812.1 465,810.2 463,808.2 461,806.3 459,804.3 457,802.4 455,800.4 453,798.4 451,796.4 449,794.5 447,792.5 445,790.6 443,788.7 441,786.8 439,784.9 437,783.1 435,781.2 433,779.3 431,777.5 429,775.7 427,773.8 425,772 423,770.3 421,768.5 419,766.9 417,765.2 415,763.6 413,762.1 411,760.6 409,759.2 407,757.7 405,756.1 403,754.5 401,753 399,751.8 396.8,750.8 396,750.5 395.2,750.2 394.6,750 394,749.9 393.4,749.7 393,749.7 392.6,749.6 392.4,749.5 392.2,749.5 392,749.5 392,749.5"/><polyline class="lo" points="392,749.5 392,749.5 392.2,749.5 392.4,749.5 392.6,749.6 393,749.6 393.4,749.7 394,749.8 394.6,750 395.2,750.2 396,750.4 396.8,750.7 399,751.7 401,752.8 403,754.2 405,755.8 407,757.4 409,758.8 411,760.3 413,761.7 415,763.1 417,764.7 419,766.2 421,767.9 423,769.6 425,771.4 427,773.3 429,775.4 431,777.6 433,780 435,782.5 437,785.1 439,787.6 441,790 443,792.5 445,795.1 447,798 449,801 451,804.1 453,807.4 455,810.7 457,813.9 459,817.2 461,820.5 463,823.7 465,826.9 467,830.1 469,833.3 471,836.5 473,839.7 475,843 477,846.4 479,849.8 481,853.3 483,856.9 485,860.5 487,864.1 489,867.8 491,871.4 493,875.1 495,878.9 497,882.7 499,886.6 501,890.4 503,894.3 505,898.1 507,901.9 509,905.8 511,909.6 513,913.5 515,917.3 517,921.2 519,925"/><polyline class="lo" points="392,749.5 392,749.5 392.2,749.5 392.4,749.5 392.6,749.5 393,749.5 393.4,749.4 394,749.3 394.6,749.2 395.2,749 396,748.8 396.8,748.6 399,747.7 401,746.8 403,745.8 405,744.7 407,743.5 409,742.2 411,740.8 413,739.4 415,737.9 417,736.4 419,734.9 421,733.3 423,731.8 425,730.2 427,728.6 429,726.9 431,725.3 433,723.7 435,722 437,720.4 439,718.8 441,717.1 443,715.5 445,713.8 447,712.2 449,710.5 451,708.9 453,707.3 455,705.6 457,704 459,702.4 461,700.8 463,699.2 465,697.6 467,696 469,694.5 471,692.9 473,691.3 475,689.8 477,688.2 479,686.7 481,685.2 483,683.7 485,682.2 487,680.7 489,679.2 491,677.7 493,676.3 495,674.8 497,673.4 499,671.9 501,670.5 503,669.1 505,667.7 507,666.3 509,664.9 511,663.5 513,662.2 515,660.8 517,659.5 519,658.2"/><polyline class="lp" points="392,749.5 392,749.5 392.2,749.5 392.4,749.5 392.6,749.6 393,749.6 393.4,749.7 394,749.8 394.6,750 395.2,750.2 396,750.5 396.8,750.9 399,751.9 401,753.2 403,754.7 405,756.3 407,758 409,759.5 411,761 413,762.6 415,764.2 417,766 419,767.8 421,769.7 423,771.8 425,773.9 427,776.2 429,778.7 431,781.2 433,784 435,787 437,790.5 439,793.8 441,796.9 443,800.5 445,804.8 447,809.4 449,813.9 451,818.1 453,822.2 455,826.3 457,830.3 459,834.5 461,838.7 463,842.9 465,847.4 467,851.9 469,856.5 471,861.1 473,865.7 475,870.3 477,875 479,879.8 481,884.6 483,889.5 485,894.3 487,899.1 489,903.9 491,908.8 493,913.6 495,918.4 497,923.3 499,928.1 501,932.9 503,937.7 505,942.6 507,947.4 509,952.2 511,957.1 513,961.9 515,966.7 517,971.6 519,976.4"/><polyline class="lp" points="392,749.5 392,749.5 392.2,749.5 392.4,749.5 392.6,749.5 393,749.6 393.4,749.6 394,749.7 394.6,749.8 395.2,749.9 396,750.1 396.8,750.3 399,751.1 401,752 403,753 405,754.2 407,755.3 409,756.5 411,757.7 413,758.9 415,760.1 417,761.4 419,762.7 421,764.1 423,765.6 425,767.2 427,768.8 429,770.5 431,772.2 433,774 435,775.8 437,777.6 439,779.4 441,781.3 443,783.2 445,785.2 447,787.1 449,789.1 451,791 453,793 455,795 457,797 459,799 461,801 463,803 465,804.9 467,806.7 469,808.4 471,810.1 473,811.7 475,813.3 477,814.8 479,816.1 481,817.3 483,818.3 485,819.2 487,820 489,820.7 491,821.3 493,821.9 495,822.4 497,822.9 499,823.3 501,823.6 503,823.9 505,824.1 507,824.3 509,824.4 511,824.4 513,824.4 515,824.4 517,824.4 519,824.4"/><polyline class="lr" points="392,749.5 392,749.5 392.2,749.5 392.4,749.5 392.6,749.6 393,749.7 393.4,749.7 394,749.9 394.6,750 395.2,750.2 396,750.5 396.8,750.8 399,751.8 401,753 403,754.5 405,756.1 407,757.7 409,759.2 411,760.6 413,762.1 415,763.6 417,765.2 419,766.9 421,768.5 423,770.3 425,772 427,773.8 429,775.7 431,777.5 433,779.3 435,781.2 437,783.1 439,784.9 441,786.8 443,788.7 445,790.6 447,792.5 449,794.5 451,796.4 453,798.4 455,800.4 457,802.4 459,804.3 461,806.3 463,808.2 465,810.2 467,812.1 469,814.1 471,816 473,818 475,819.9 477,821.9 479,823.8 481,825.8 483,827.8 485,829.8 487,831.9 489,833.9 491,835.9 493,837.9 495,839.8 497,841.8 499,843.8 501,845.8 503,847.8 505,849.8 507,851.8 509,853.9 511,855.9 513,857.9 515,860 517,862 519,864"/><polyline class="lr" points="392,749.5 392,749.5 392.2,749.5 392.4,749.5 392.6,749.5 393,749.6 393.4,749.7 394,749.8 394.6,749.9 395.2,750.1 396,750.3 396.8,750.6 399,751.6 401,752.6 403,754 405,755.6 407,757.1 409,758.5 411,759.9 413,761.3 415,762.7 417,764.2 419,765.7 421,767.3 423,768.8 425,770.4 427,772 429,773.5 431,775.1 433,776.6 435,778.1 437,779.6 439,781.1 441,782.5 443,784 445,785.5 447,787.1 449,788.6 451,790.2 453,791.7 455,793.3 457,794.7 459,796.1 461,797.4 463,798.5 465,799.5 467,800.4 469,801.1 471,801.8 473,802.3 475,802.7 477,803 479,803.2 481,803.3 483,803.3 485,803.1 487,802.9 489,802.6 491,802.1 493,801.7 495,801 497,800.3 499,799.4 501,798.3 503,797.1 505,795.8 507,794.2 509,792.5 511,790.7 513,788.9 515,786.9 517,785 519,783.1"/></g>
<rect class="fr0" x="392" y="749.5" width="125" height="125"/>
<path class="tk" d="M454.5 874v-3.3M392.5 832.83h3.3M392.5 791.17h3.3"/>
<circle class="pt" cx="393.78" cy="750" r="2.25"/><circle class="pt" cx="395.98" cy="750.67" r="2.25"/><circle class="pt" cx="399.02" cy="751.83" r="2.25"/><circle class="pt" cx="402.86" cy="753.5" r="2.25"/><rect class="pt" x="405.09" y="754.47" width="4.7" height="3.07" rx="0.7"/><circle class="pt" cx="407.44" cy="756" r="2.25"/><rect class="pt" x="410.36" y="757.63" width="4.7" height="3.4" rx="0.7"/><circle class="pt" cx="412.71" cy="759.33" r="2.25"/><rect class="pt" x="416.28" y="761.22" width="4.7" height="3.9" rx="0.7"/><circle class="pt" cx="418.63" cy="763.17" r="2.25"/><rect class="pt" x="422.78" y="765.97" width="4.7" height="4.4" rx="0.7"/><circle class="pt" cx="425.13" cy="768.17" r="2.25"/><rect class="pt" x="429.81" y="771.3" width="4.7" height="4.73" rx="0.7"/><circle class="pt" cx="432.16" cy="773.67" r="2.25"/><rect class="pt" x="437.32" y="777.38" width="4.7" height="5.07" rx="0.7"/><circle class="pt" cx="439.67" cy="779.92" r="2.25"/><rect class="pt" x="445.27" y="783.97" width="4.7" height="5.73" rx="0.7"/><circle class="pt" cx="447.62" cy="786.83" r="2.25"/><path class="eb" d="M455.96 791.92V796.92M453.66 791.92h4.6M453.66 796.92h4.6"/><circle class="pt" cx="455.96" cy="794.42" r="2.25"/><path class="eb" d="M464.65 799.5V805.5M462.35 799.5h4.6M462.35 805.5h4.6"/><circle class="pt" cx="464.65" cy="802.5" r="2.25"/><path class="eb" d="M473.65 807.17V814.5M471.35 807.17h4.6M471.35 814.5h4.6"/><circle class="pt" cx="473.65" cy="810.83" r="2.25"/><path class="eb" d="M482.94 815.5V823.83M480.64 815.5h4.6M480.64 823.83h4.6"/><circle class="pt" cx="482.94" cy="819.67" r="2.25"/><path class="eb" d="M492.48 824.17V833.17M490.18 824.17h4.6M490.18 833.17h4.6"/><circle class="pt" cx="492.48" cy="828.67" r="2.25"/><path class="eb" d="M502.25 833.33V843.33M499.95 833.33h4.6M499.95 843.33h4.6"/><circle class="pt" cx="502.25" cy="838.33" r="2.25"/><path class="eb" d="M512.23 843V853.67M509.93 843h4.6M509.93 853.67h4.6"/><circle class="pt" cx="512.23" cy="848.33" r="2.25"/>
<text class="t" text-anchor="middle" x="394" y="890">0.00</text>
<text class="t" text-anchor="middle" x="456.5" y="890">0.05</text>
<text class="t" text-anchor="middle" x="519" y="890">0.10</text>
<rect x="266.5" y="726" width="31.2" height="26.9" fill="#ffffd9" stroke="#1c1c1c" stroke-width="1.3"/>
<text class="l" x="270.7" y="744"><tspan font-style="italic">P</tspan><tspan font-size="9.8px" dy="2.2">13</tspan></text>
<g clip-path="url(#c50)"><polygon class="fo" points="67.5,1054.5 67.5,1054.4 67.7,1054.4 67.9,1054.3 68.1,1054.2 68.5,1054.2 68.9,1054.1 69.5,1054 70.1,1054 70.7,1053.9 71.5,1053.8 72.3,1053.6 74.5,1053.1 76.5,1052.7 78.5,1052.2 80.5,1051.6 82.5,1051 84.5,1050.3 86.5,1049.6 88.5,1048.8 90.5,1048.1 92.5,1047.3 94.5,1046.5 96.5,1045.6 98.5,1044.6 100.5,1043.6 102.5,1042.5 104.5,1041.5 106.5,1040.4 108.5,1039.3 110.5,1038.2 112.5,1037 114.5,1035.8 116.5,1034.5 118.5,1033.2 120.5,1031.8 122.5,1030.4 124.5,1029 126.5,1027.6 128.5,1026.1 130.5,1024.6 132.5,1022.9 134.5,1021.1 136.5,1019.3 138.5,1017.4 140.5,1015.5 142.5,1013.7 144.5,1011.9 146.5,1010 148.5,1008 150.5,1005.9 152.5,1003.7 154.5,1001.4 156.5,999.1 158.5,996.8 160.5,994.4 162.5,992.1 164.5,989.8 166.5,987.5 168.5,985.3 170.5,983 172.5,980.7 174.5,978.5 176.5,976.3 178.5,974 180.5,971.6 182.5,969.1 184.5,966.4 186.5,963.6 188.5,960.8 190.5,958 192.5,955.3 194.5,952.6 194.5,1016.5 192.5,1017 190.5,1017.5 188.5,1017.9 186.5,1018.4 184.5,1018.9 182.5,1019.4 180.5,1019.9 178.5,1020.4 176.5,1020.9 174.5,1021.5 172.5,1022.1 170.5,1022.6 168.5,1023.2 166.5,1023.8 164.5,1024.4 162.5,1025 160.5,1025.6 158.5,1026.2 156.5,1026.9 154.5,1027.5 152.5,1028.1 150.5,1028.8 148.5,1029.5 146.5,1030.1 144.5,1030.8 142.5,1031.4 140.5,1032 138.5,1032.7 136.5,1033.4 134.5,1034.1 132.5,1034.8 130.5,1035.6 128.5,1036.3 126.5,1037 124.5,1037.6 122.5,1038.3 120.5,1038.9 118.5,1039.6 116.5,1040.4 114.5,1041.1 112.5,1041.8 110.5,1042.5 108.5,1043.2 106.5,1043.9 104.5,1044.5 102.5,1045.2 100.5,1045.8 98.5,1046.4 96.5,1047 94.5,1047.5 92.5,1048 90.5,1048.5 88.5,1049.1 86.5,1049.7 84.5,1050.3 82.5,1051 80.5,1051.6 78.5,1052.2 76.5,1052.7 74.5,1053.1 72.3,1053.6 71.5,1053.8 70.7,1053.9 70.1,1054 69.5,1054 68.9,1054.1 68.5,1054.2 68.1,1054.2 67.9,1054.3 67.7,1054.4 67.5,1054.4 67.5,1054.5"/><polygon class="fp" points="67.5,1054.5 67.5,1054.4 67.7,1054.4 67.9,1054.3 68.1,1054.2 68.5,1054.2 68.9,1054.1 69.5,1054 70.1,1054 70.7,1053.9 71.5,1053.8 72.3,1053.6 74.5,1053.1 76.5,1052.7 78.5,1052.2 80.5,1051.6 82.5,1051 84.5,1050.3 86.5,1049.6 88.5,1048.8 90.5,1048.1 92.5,1047.3 94.5,1046.5 96.5,1045.6 98.5,1044.6 100.5,1043.6 102.5,1042.5 104.5,1041.5 106.5,1040.4 108.5,1039.3 110.5,1038.2 112.5,1037 114.5,1035.8 116.5,1034.5 118.5,1033.2 120.5,1031.8 122.5,1030.4 124.5,1029 126.5,1027.6 128.5,1026.1 130.5,1024.6 132.5,1022.9 134.5,1021.1 136.5,1019.3 138.5,1017.4 140.5,1015.5 142.5,1013.7 144.5,1011.9 146.5,1010 148.5,1008 150.5,1005.9 152.5,1003.7 154.5,1001.4 156.5,999.1 158.5,996.8 160.5,994.4 162.5,992.1 164.5,989.8 166.5,987.5 168.5,985.3 170.5,983 172.5,980.7 174.5,978.5 176.5,976.3 178.5,974 180.5,971.6 182.5,969.1 184.5,966.4 186.5,963.6 188.5,960.8 190.5,958 192.5,955.3 194.5,952.6 194.5,987.7 192.5,988.8 190.5,989.9 188.5,991 186.5,992.1 184.5,993.3 182.5,994.4 180.5,995.6 178.5,996.7 176.5,997.9 174.5,999.1 172.5,1000.3 170.5,1001.5 168.5,1002.8 166.5,1004 164.5,1005.3 162.5,1006.5 160.5,1007.8 158.5,1009.1 156.5,1010.4 154.5,1011.6 152.5,1012.8 150.5,1014.1 148.5,1015.3 146.5,1016.5 144.5,1017.7 142.5,1018.9 140.5,1020.1 138.5,1021.4 136.5,1022.6 134.5,1023.9 132.5,1025.2 130.5,1026.4 128.5,1027.6 126.5,1028.8 124.5,1029.9 122.5,1031 120.5,1032.2 118.5,1033.4 116.5,1034.7 114.5,1036 112.5,1037.2 110.5,1038.3 108.5,1039.3 106.5,1040.4 104.5,1041.4 102.5,1042.5 100.5,1043.6 98.5,1044.6 96.5,1045.6 94.5,1046.5 92.5,1047.3 90.5,1048.1 88.5,1048.8 86.5,1049.6 84.5,1050.3 82.5,1051 80.5,1051.6 78.5,1052.2 76.5,1052.7 74.5,1053.1 72.3,1053.6 71.5,1053.8 70.7,1053.9 70.1,1054 69.5,1054 68.9,1054.1 68.5,1054.2 68.1,1054.2 67.9,1054.3 67.7,1054.4 67.5,1054.4 67.5,1054.5"/><polygon class="fr" points="67.5,1054.5 67.5,1054.4 67.7,1054.4 67.9,1054.3 68.1,1054.2 68.5,1054.2 68.9,1054.1 69.5,1054 70.1,1054 70.7,1053.9 71.5,1053.8 72.3,1053.6 74.5,1053.1 76.5,1052.7 78.5,1052.2 80.5,1051.6 82.5,1051 84.5,1050.3 86.5,1049.6 88.5,1048.8 90.5,1048.1 92.5,1047.3 94.5,1046.5 96.5,1045.6 98.5,1044.6 100.5,1043.6 102.5,1042.5 104.5,1041.5 106.5,1040.4 108.5,1039.3 110.5,1038.2 112.5,1037 114.5,1035.8 116.5,1034.5 118.5,1033.2 120.5,1031.8 122.5,1030.4 124.5,1029 126.5,1027.5 128.5,1025.9 130.5,1024.2 132.5,1022.4 134.5,1020.5 136.5,1018.6 138.5,1016.5 140.5,1014.5 142.5,1012.4 144.5,1010.4 146.5,1008.3 148.5,1006.2 150.5,1004.1 152.5,1002 154.5,999.9 156.5,997.6 158.5,995.3 160.5,993 162.5,990.6 164.5,988.2 166.5,985.8 168.5,983.4 170.5,980.9 172.5,978.5 174.5,976 176.5,973.4 178.5,970.7 180.5,968 182.5,965.2 184.5,962.4 186.5,959.5 188.5,956.6 190.5,953.7 192.5,950.8 194.5,947.9 194.5,957.7 192.5,959.8 190.5,961.9 188.5,964 186.5,966.2 184.5,968.4 182.5,970.6 180.5,972.8 178.5,975 176.5,977.3 174.5,979.6 172.5,981.9 170.5,984.2 168.5,986.6 166.5,989 164.5,991.4 162.5,993.8 160.5,996.2 158.5,998.6 156.5,1000.9 154.5,1003.2 152.5,1005.5 150.5,1007.6 148.5,1009.7 146.5,1011.7 144.5,1013.6 142.5,1015.4 140.5,1017.1 138.5,1018.9 136.5,1020.6 134.5,1022.2 132.5,1023.6 130.5,1024.9 128.5,1026.2 126.5,1027.6 124.5,1029 122.5,1030.4 120.5,1031.8 118.5,1033.2 116.5,1034.5 114.5,1035.8 112.5,1037 110.5,1038.2 108.5,1039.3 106.5,1040.4 104.5,1041.5 102.5,1042.5 100.5,1043.6 98.5,1044.6 96.5,1045.6 94.5,1046.5 92.5,1047.3 90.5,1048.1 88.5,1048.8 86.5,1049.6 84.5,1050.3 82.5,1051 80.5,1051.6 78.5,1052.2 76.5,1052.7 74.5,1053.1 72.3,1053.6 71.5,1053.8 70.7,1053.9 70.1,1054 69.5,1054 68.9,1054.1 68.5,1054.2 68.1,1054.2 67.9,1054.3 67.7,1054.4 67.5,1054.4 67.5,1054.5"/><polyline class="lo" points="67.5,1054.5 67.5,1054.4 67.7,1054.4 67.9,1054.3 68.1,1054.2 68.5,1054.2 68.9,1054.1 69.5,1054 70.1,1054 70.7,1053.9 71.5,1053.8 72.3,1053.6 74.5,1053.1 76.5,1052.7 78.5,1052.2 80.5,1051.6 82.5,1051 84.5,1050.3 86.5,1049.7 88.5,1049.1 90.5,1048.5 92.5,1048 94.5,1047.5 96.5,1047 98.5,1046.4 100.5,1045.8 102.5,1045.2 104.5,1044.5 106.5,1043.9 108.5,1043.2 110.5,1042.5 112.5,1041.8 114.5,1041.1 116.5,1040.4 118.5,1039.6 120.5,1038.9 122.5,1038.3 124.5,1037.6 126.5,1037 128.5,1036.3 130.5,1035.6 132.5,1034.8 134.5,1034.1 136.5,1033.4 138.5,1032.7 140.5,1032 142.5,1031.4 144.5,1030.8 146.5,1030.1 148.5,1029.5 150.5,1028.8 152.5,1028.1 154.5,1027.5 156.5,1026.9 158.5,1026.2 160.5,1025.6 162.5,1025 164.5,1024.4 166.5,1023.8 168.5,1023.2 170.5,1022.6 172.5,1022.1 174.5,1021.5 176.5,1020.9 178.5,1020.4 180.5,1019.9 182.5,1019.4 184.5,1018.9 186.5,1018.4 188.5,1017.9 190.5,1017.5 192.5,1017 194.5,1016.5"/><polyline class="lo" points="67.5,1054.5 67.5,1054.4 67.7,1054.4 67.9,1054.3 68.1,1054.2 68.5,1054.2 68.9,1054.1 69.5,1054 70.1,1054 70.7,1053.9 71.5,1053.8 72.3,1053.6 74.5,1053.1 76.5,1052.7 78.5,1052.2 80.5,1051.6 82.5,1051 84.5,1050.3 86.5,1049.6 88.5,1048.8 90.5,1048.1 92.5,1047.3 94.5,1046.5 96.5,1045.6 98.5,1044.6 100.5,1043.6 102.5,1042.5 104.5,1041.5 106.5,1040.4 108.5,1039.3 110.5,1038.2 112.5,1037 114.5,1035.8 116.5,1034.5 118.5,1033.2 120.5,1031.8 122.5,1030.4 124.5,1029 126.5,1027.6 128.5,1026.1 130.5,1024.6 132.5,1022.9 134.5,1021.1 136.5,1019.3 138.5,1017.4 140.5,1015.5 142.5,1013.7 144.5,1011.9 146.5,1010 148.5,1008 150.5,1005.9 152.5,1003.7 154.5,1001.4 156.5,999.1 158.5,996.8 160.5,994.4 162.5,992.1 164.5,989.8 166.5,987.5 168.5,985.3 170.5,983 172.5,980.7 174.5,978.5 176.5,976.3 178.5,974 180.5,971.6 182.5,969.1 184.5,966.4 186.5,963.6 188.5,960.8 190.5,958 192.5,955.3 194.5,952.6"/><polyline class="lp" points="67.5,1054.5 67.5,1054.4 67.7,1054.4 67.9,1054.3 68.1,1054.2 68.5,1054.2 68.9,1054.1 69.5,1054 70.1,1054 70.7,1053.9 71.5,1053.8 72.3,1053.6 74.5,1053.1 76.5,1052.7 78.5,1052.2 80.5,1051.6 82.5,1051 84.5,1050.3 86.5,1049.6 88.5,1048.8 90.5,1048.1 92.5,1047.3 94.5,1046.5 96.5,1045.6 98.5,1044.6 100.5,1043.6 102.5,1042.5 104.5,1041.4 106.5,1040.4 108.5,1039.3 110.5,1038.3 112.5,1037.2 114.5,1036 116.5,1034.7 118.5,1033.4 120.5,1032.2 122.5,1031 124.5,1029.9 126.5,1028.8 128.5,1027.6 130.5,1026.4 132.5,1025.2 134.5,1023.9 136.5,1022.6 138.5,1021.4 140.5,1020.1 142.5,1018.9 144.5,1017.7 146.5,1016.5 148.5,1015.3 150.5,1014.1 152.5,1012.8 154.5,1011.6 156.5,1010.4 158.5,1009.1 160.5,1007.8 162.5,1006.5 164.5,1005.3 166.5,1004 168.5,1002.8 170.5,1001.5 172.5,1000.3 174.5,999.1 176.5,997.9 178.5,996.7 180.5,995.6 182.5,994.4 184.5,993.3 186.5,992.1 188.5,991 190.5,989.9 192.5,988.8 194.5,987.7"/><polyline class="lp" points="67.5,1054.5 67.5,1054.4 67.7,1054.4 67.9,1054.3 68.1,1054.2 68.5,1054.2 68.9,1054.1 69.5,1054 70.1,1054 70.7,1053.9 71.5,1053.8 72.3,1053.6 74.5,1053.1 76.5,1052.7 78.5,1052.2 80.5,1051.6 82.5,1051 84.5,1050.3 86.5,1049.6 88.5,1048.8 90.5,1048.1 92.5,1047.3 94.5,1046.5 96.5,1045.6 98.5,1044.6 100.5,1043.6 102.5,1042.5 104.5,1041.5 106.5,1040.4 108.5,1039.3 110.5,1038.2 112.5,1037 114.5,1035.8 116.5,1034.5 118.5,1033.2 120.5,1031.8 122.5,1030.4 124.5,1029 126.5,1027.6 128.5,1026.1 130.5,1024.6 132.5,1022.9 134.5,1021.1 136.5,1019.3 138.5,1017.4 140.5,1015.5 142.5,1013.7 144.5,1011.9 146.5,1010 148.5,1008 150.5,1005.9 152.5,1003.7 154.5,1001.4 156.5,999.1 158.5,996.8 160.5,994.4 162.5,992.1 164.5,989.8 166.5,987.5 168.5,985.3 170.5,983 172.5,980.7 174.5,978.5 176.5,976.3 178.5,974 180.5,971.6 182.5,969.1 184.5,966.4 186.5,963.6 188.5,960.8 190.5,958 192.5,955.3 194.5,952.6"/><polyline class="lr" points="67.5,1054.5 67.5,1054.4 67.7,1054.4 67.9,1054.3 68.1,1054.2 68.5,1054.2 68.9,1054.1 69.5,1054 70.1,1054 70.7,1053.9 71.5,1053.8 72.3,1053.6 74.5,1053.1 76.5,1052.7 78.5,1052.2 80.5,1051.6 82.5,1051 84.5,1050.3 86.5,1049.6 88.5,1048.8 90.5,1048.1 92.5,1047.3 94.5,1046.5 96.5,1045.6 98.5,1044.6 100.5,1043.6 102.5,1042.5 104.5,1041.5 106.5,1040.4 108.5,1039.3 110.5,1038.2 112.5,1037 114.5,1035.8 116.5,1034.5 118.5,1033.2 120.5,1031.8 122.5,1030.4 124.5,1029 126.5,1027.6 128.5,1026.2 130.5,1024.9 132.5,1023.6 134.5,1022.2 136.5,1020.6 138.5,1018.9 140.5,1017.1 142.5,1015.4 144.5,1013.6 146.5,1011.7 148.5,1009.7 150.5,1007.6 152.5,1005.5 154.5,1003.2 156.5,1000.9 158.5,998.6 160.5,996.2 162.5,993.8 164.5,991.4 166.5,989 168.5,986.6 170.5,984.2 172.5,981.9 174.5,979.6 176.5,977.3 178.5,975 180.5,972.8 182.5,970.6 184.5,968.4 186.5,966.2 188.5,964 190.5,961.9 192.5,959.8 194.5,957.7"/><polyline class="lr" points="67.5,1054.5 67.5,1054.4 67.7,1054.4 67.9,1054.3 68.1,1054.2 68.5,1054.2 68.9,1054.1 69.5,1054 70.1,1054 70.7,1053.9 71.5,1053.8 72.3,1053.6 74.5,1053.1 76.5,1052.7 78.5,1052.2 80.5,1051.6 82.5,1051 84.5,1050.3 86.5,1049.6 88.5,1048.8 90.5,1048.1 92.5,1047.3 94.5,1046.5 96.5,1045.6 98.5,1044.6 100.5,1043.6 102.5,1042.5 104.5,1041.5 106.5,1040.4 108.5,1039.3 110.5,1038.2 112.5,1037 114.5,1035.8 116.5,1034.5 118.5,1033.2 120.5,1031.8 122.5,1030.4 124.5,1029 126.5,1027.5 128.5,1025.9 130.5,1024.2 132.5,1022.4 134.5,1020.5 136.5,1018.6 138.5,1016.5 140.5,1014.5 142.5,1012.4 144.5,1010.4 146.5,1008.3 148.5,1006.2 150.5,1004.1 152.5,1002 154.5,999.9 156.5,997.6 158.5,995.3 160.5,993 162.5,990.6 164.5,988.2 166.5,985.8 168.5,983.4 170.5,980.9 172.5,978.5 174.5,976 176.5,973.4 178.5,970.7 180.5,968 182.5,965.2 184.5,962.4 186.5,959.5 188.5,956.6 190.5,953.7 192.5,950.8 194.5,947.9"/></g>
<rect class="fr0" x="67.5" y="929.5" width="125" height="125"/>
<path class="tk" d="M130 1054v-3.3M68 1029.5h3.3M68 1004.5h3.3M68 979.5h3.3M68 954.5h3.3"/>
<circle class="pt" cx="69.28" cy="1054" r="2.25"/><circle class="pt" cx="71.48" cy="1053.7" r="2.25"/><circle class="pt" cx="74.52" cy="1053.2" r="2.25"/><circle class="pt" cx="78.36" cy="1052.3" r="2.25"/><circle class="pt" cx="82.94" cy="1051" r="2.25"/><circle class="pt" cx="88.21" cy="1049" r="2.25"/><circle class="pt" cx="94.13" cy="1046.8" r="2.25"/><circle class="pt" cx="100.63" cy="1043.7" r="2.25"/><circle class="pt" cx="107.66" cy="1039.8" r="2.25"/><circle class="pt" cx="115.17" cy="1035.7" r="2.25"/><rect class="pt" x="120.77" y="1028.6" width="4.7" height="3.2" rx="0.7"/><circle class="pt" cx="123.12" cy="1030.2" r="2.25"/><rect class="pt" x="129.11" y="1022.2" width="4.7" height="3.6" rx="0.7"/><circle class="pt" cx="131.46" cy="1024" r="2.25"/><rect class="pt" x="137.8" y="1014.5" width="4.7" height="4" rx="0.7"/><circle class="pt" cx="140.15" cy="1016.5" r="2.25"/><rect class="pt" x="146.8" y="1005.5" width="4.7" height="4.4" rx="0.7"/><circle class="pt" cx="149.15" cy="1007.7" r="2.25"/><rect class="pt" x="156.09" y="994.7" width="4.7" height="4.6" rx="0.7"/><circle class="pt" cx="158.44" cy="997" r="2.25"/><rect class="pt" x="165.63" y="982.55" width="4.7" height="4.9" rx="0.7"/><circle class="pt" cx="167.98" cy="985" r="2.25"/><rect class="pt" x="175.4" y="968.2" width="4.7" height="5.6" rx="0.7"/><circle class="pt" cx="177.75" cy="971" r="2.25"/><path class="eb" d="M187.73 952V957M185.43 952h4.6M185.43 957h4.6"/><circle class="pt" cx="187.73" cy="954.5" r="2.25"/>
<text class="t" text-anchor="middle" x="69.5" y="1070">0.00</text>
<text class="t" text-anchor="middle" x="132" y="1070">0.05</text>
<text class="t" text-anchor="middle" x="194.5" y="1070">0.10</text>
<text class="t" text-anchor="end" x="62.3" y="1058.5">0</text>
<text class="t" text-anchor="end" x="62.3" y="1033.5">5</text>
<text class="t" text-anchor="end" x="62.3" y="1008.5">10</text>
<text class="t" text-anchor="end" x="62.3" y="983.5">15</text>
<text class="t" text-anchor="end" x="62.3" y="958.5">20</text>
<text class="t" text-anchor="end" x="62.3" y="933.5">25</text>
<g clip-path="url(#c51)"><polygon class="fo" points="229.5,1054.5 229.5,1054.4 229.7,1054.4 229.9,1054.3 230.1,1054.2 230.5,1054.2 230.9,1054.1 231.5,1054 232.1,1054 232.7,1053.9 233.5,1053.8 234.3,1053.6 236.5,1053.1 238.5,1052.7 240.5,1052.2 242.5,1051.6 244.5,1051 246.5,1050.3 248.5,1049.6 250.5,1048.8 252.5,1048.1 254.5,1047.3 256.5,1046.5 258.5,1045.6 260.5,1044.6 262.5,1043.6 264.5,1042.5 266.5,1041.5 268.5,1040.4 270.5,1039.3 272.5,1038.2 274.5,1037 276.5,1035.8 278.5,1034.5 280.5,1033.2 282.5,1031.8 284.5,1030.4 286.5,1029 288.5,1027.7 290.5,1026.2 292.5,1024.7 294.5,1023 296.5,1021.2 298.5,1019.4 300.5,1017.5 302.5,1015.5 304.5,1013.6 306.5,1011.6 308.5,1009.6 310.5,1007.6 312.5,1005.5 314.5,1003.3 316.5,1001.1 318.5,998.8 320.5,996.4 322.5,994 324.5,991.5 326.5,988.9 328.5,986.3 330.5,983.7 332.5,981.1 334.5,978.5 336.5,975.9 338.5,973.2 340.5,970.6 342.5,968 344.5,965.4 346.5,962.7 348.5,960 350.5,957.2 352.5,954.4 354.5,951.5 356.5,948.6 356.5,1010.6 354.5,1011 352.5,1011.4 350.5,1011.9 348.5,1012.3 346.5,1012.8 344.5,1013.2 342.5,1013.7 340.5,1014.2 338.5,1014.7 336.5,1015.3 334.5,1015.8 332.5,1016.4 330.5,1017 328.5,1017.6 326.5,1018.2 324.5,1018.9 322.5,1019.5 320.5,1020.2 318.5,1020.9 316.5,1021.6 314.5,1022.3 312.5,1023.1 310.5,1023.9 308.5,1024.7 306.5,1025.5 304.5,1026.4 302.5,1027.2 300.5,1028.1 298.5,1028.9 296.5,1029.8 294.5,1030.6 292.5,1031.5 290.5,1032.4 288.5,1033.3 286.5,1034.2 284.5,1035.1 282.5,1036 280.5,1037 278.5,1037.9 276.5,1038.8 274.5,1039.8 272.5,1040.7 270.5,1041.6 268.5,1042.5 266.5,1043.4 264.5,1044.2 262.5,1045 260.5,1045.8 258.5,1046.5 256.5,1047.2 254.5,1047.9 252.5,1048.5 250.5,1049.1 248.5,1049.8 246.5,1050.4 244.5,1051 242.5,1051.6 240.5,1052.2 238.5,1052.7 236.5,1053.1 234.3,1053.6 233.5,1053.8 232.7,1053.9 232.1,1054 231.5,1054 230.9,1054.1 230.5,1054.2 230.1,1054.2 229.9,1054.3 229.7,1054.4 229.5,1054.4 229.5,1054.5"/><polygon class="fp" points="229.5,1054.5 229.5,1054.4 229.7,1054.4 229.9,1054.3 230.1,1054.2 230.5,1054.2 230.9,1054.1 231.5,1054 232.1,1054 232.7,1053.9 233.5,1053.8 234.3,1053.6 236.5,1053.1 238.5,1052.7 240.5,1052.2 242.5,1051.6 244.5,1051 246.5,1050.3 248.5,1049.6 250.5,1048.8 252.5,1048.1 254.5,1047.3 256.5,1046.5 258.5,1045.6 260.5,1044.6 262.5,1043.6 264.5,1042.5 266.5,1041.5 268.5,1040.4 270.5,1039.3 272.5,1038.2 274.5,1037 276.5,1035.8 278.5,1034.5 280.5,1033.2 282.5,1031.8 284.5,1030.4 286.5,1029 288.5,1027.7 290.5,1026.2 292.5,1024.7 294.5,1023 296.5,1021.2 298.5,1019.4 300.5,1017.5 302.5,1015.5 304.5,1013.6 306.5,1011.6 308.5,1009.6 310.5,1007.6 312.5,1005.5 314.5,1003.3 316.5,1001.1 318.5,998.8 320.5,996.4 322.5,994 324.5,991.5 326.5,988.9 328.5,986.3 330.5,983.7 332.5,981.1 334.5,978.5 336.5,975.9 338.5,973.2 340.5,970.6 342.5,968 344.5,965.4 346.5,962.7 348.5,960 350.5,957.2 352.5,954.4 354.5,951.5 356.5,948.6 356.5,988.4 354.5,989.5 352.5,990.6 350.5,991.6 348.5,992.7 346.5,993.8 344.5,994.9 342.5,996.1 340.5,997.2 338.5,998.4 336.5,999.6 334.5,1000.8 332.5,1002 330.5,1003.2 328.5,1004.4 326.5,1005.6 324.5,1006.8 322.5,1008 320.5,1009.2 318.5,1010.4 316.5,1011.6 314.5,1012.8 312.5,1014.1 310.5,1015.3 308.5,1016.6 306.5,1017.8 304.5,1019 302.5,1020.2 300.5,1021.4 298.5,1022.5 296.5,1023.6 294.5,1024.8 292.5,1025.9 290.5,1027.1 288.5,1028.3 286.5,1029.5 284.5,1030.7 282.5,1032 280.5,1033.3 278.5,1034.5 276.5,1035.8 274.5,1037 272.5,1038.2 270.5,1039.3 268.5,1040.4 266.5,1041.5 264.5,1042.5 262.5,1043.6 260.5,1044.6 258.5,1045.6 256.5,1046.5 254.5,1047.3 252.5,1048.1 250.5,1048.8 248.5,1049.6 246.5,1050.3 244.5,1051 242.5,1051.6 240.5,1052.2 238.5,1052.7 236.5,1053.1 234.3,1053.6 233.5,1053.8 232.7,1053.9 232.1,1054 231.5,1054 230.9,1054.1 230.5,1054.2 230.1,1054.2 229.9,1054.3 229.7,1054.4 229.5,1054.4 229.5,1054.5"/><polygon class="fr" points="229.5,1054.5 229.5,1054.4 229.7,1054.4 229.9,1054.3 230.1,1054.2 230.5,1054.2 230.9,1054.1 231.5,1054 232.1,1054 232.7,1053.9 233.5,1053.8 234.3,1053.6 236.5,1053.1 238.5,1052.7 240.5,1052.2 242.5,1051.6 244.5,1051 246.5,1050.3 248.5,1049.6 250.5,1048.8 252.5,1048.1 254.5,1047.3 256.5,1046.5 258.5,1045.6 260.5,1044.6 262.5,1043.6 264.5,1042.5 266.5,1041.5 268.5,1040.4 270.5,1039.3 272.5,1038.2 274.5,1037 276.5,1035.8 278.5,1034.5 280.5,1033.2 282.5,1031.8 284.5,1030.4 286.5,1029 288.5,1027.6 290.5,1026 292.5,1024.3 294.5,1022.3 296.5,1020.2 298.5,1018 300.5,1015.9 302.5,1013.8 304.5,1011.8 306.5,1009.9 308.5,1007.8 310.5,1005.5 312.5,1003 314.5,1000.3 316.5,997.8 318.5,995.3 320.5,992.9 322.5,990.5 324.5,988.1 326.5,985.6 328.5,983.1 330.5,980.6 332.5,977.9 334.5,975.1 336.5,972.3 338.5,969.4 340.5,966.4 342.5,963.4 344.5,960.3 346.5,957.1 348.5,953.9 350.5,950.8 352.5,947.6 354.5,944.4 356.5,941.2 356.5,956.1 354.5,958.6 352.5,961.1 350.5,963.6 348.5,966.2 346.5,968.7 344.5,971.3 342.5,973.8 340.5,976.3 338.5,978.8 336.5,981.3 334.5,983.8 332.5,986.2 330.5,988.6 328.5,990.9 326.5,993.2 324.5,995.4 322.5,997.6 320.5,999.8 318.5,1001.9 316.5,1003.9 314.5,1005.9 312.5,1007.9 310.5,1009.8 308.5,1011.7 306.5,1013.5 304.5,1015.4 302.5,1017.1 300.5,1018.9 298.5,1020.6 296.5,1022.2 294.5,1023.7 292.5,1025.1 290.5,1026.4 288.5,1027.7 286.5,1029.1 284.5,1030.4 282.5,1031.8 280.5,1033.1 278.5,1034.5 276.5,1035.8 274.5,1037 272.5,1038.2 270.5,1039.3 268.5,1040.4 266.5,1041.5 264.5,1042.5 262.5,1043.6 260.5,1044.6 258.5,1045.6 256.5,1046.5 254.5,1047.3 252.5,1048.1 250.5,1048.8 248.5,1049.6 246.5,1050.3 244.5,1051 242.5,1051.6 240.5,1052.2 238.5,1052.7 236.5,1053.1 234.3,1053.6 233.5,1053.8 232.7,1053.9 232.1,1054 231.5,1054 230.9,1054.1 230.5,1054.2 230.1,1054.2 229.9,1054.3 229.7,1054.4 229.5,1054.4 229.5,1054.5"/><polyline class="lo" points="229.5,1054.5 229.5,1054.4 229.7,1054.4 229.9,1054.3 230.1,1054.2 230.5,1054.2 230.9,1054.1 231.5,1054 232.1,1054 232.7,1053.9 233.5,1053.8 234.3,1053.6 236.5,1053.1 238.5,1052.7 240.5,1052.2 242.5,1051.6 244.5,1051 246.5,1050.4 248.5,1049.8 250.5,1049.1 252.5,1048.5 254.5,1047.9 256.5,1047.2 258.5,1046.5 260.5,1045.8 262.5,1045 264.5,1044.2 266.5,1043.4 268.5,1042.5 270.5,1041.6 272.5,1040.7 274.5,1039.8 276.5,1038.8 278.5,1037.9 280.5,1037 282.5,1036 284.5,1035.1 286.5,1034.2 288.5,1033.3 290.5,1032.4 292.5,1031.5 294.5,1030.6 296.5,1029.8 298.5,1028.9 300.5,1028.1 302.5,1027.2 304.5,1026.4 306.5,1025.5 308.5,1024.7 310.5,1023.9 312.5,1023.1 314.5,1022.3 316.5,1021.6 318.5,1020.9 320.5,1020.2 322.5,1019.5 324.5,1018.9 326.5,1018.2 328.5,1017.6 330.5,1017 332.5,1016.4 334.5,1015.8 336.5,1015.3 338.5,1014.7 340.5,1014.2 342.5,1013.7 344.5,1013.2 346.5,1012.8 348.5,1012.3 350.5,1011.9 352.5,1011.4 354.5,1011 356.5,1010.6"/><polyline class="lo" points="229.5,1054.5 229.5,1054.4 229.7,1054.4 229.9,1054.3 230.1,1054.2 230.5,1054.2 230.9,1054.1 231.5,1054 232.1,1054 232.7,1053.9 233.5,1053.8 234.3,1053.6 236.5,1053.1 238.5,1052.7 240.5,1052.2 242.5,1051.6 244.5,1051 246.5,1050.3 248.5,1049.6 250.5,1048.8 252.5,1048.1 254.5,1047.3 256.5,1046.5 258.5,1045.6 260.5,1044.6 262.5,1043.6 264.5,1042.5 266.5,1041.5 268.5,1040.4 270.5,1039.3 272.5,1038.2 274.5,1037 276.5,1035.8 278.5,1034.5 280.5,1033.2 282.5,1031.8 284.5,1030.4 286.5,1029 288.5,1027.7 290.5,1026.2 292.5,1024.7 294.5,1023 296.5,1021.2 298.5,1019.4 300.5,1017.5 302.5,1015.5 304.5,1013.6 306.5,1011.6 308.5,1009.6 310.5,1007.6 312.5,1005.5 314.5,1003.3 316.5,1001.1 318.5,998.8 320.5,996.4 322.5,994 324.5,991.5 326.5,988.9 328.5,986.3 330.5,983.7 332.5,981.1 334.5,978.5 336.5,975.9 338.5,973.2 340.5,970.6 342.5,968 344.5,965.4 346.5,962.7 348.5,960 350.5,957.2 352.5,954.4 354.5,951.5 356.5,948.6"/><polyline class="lp" points="229.5,1054.5 229.5,1054.4 229.7,1054.4 229.9,1054.3 230.1,1054.2 230.5,1054.2 230.9,1054.1 231.5,1054 232.1,1054 232.7,1053.9 233.5,1053.8 234.3,1053.6 236.5,1053.1 238.5,1052.7 240.5,1052.2 242.5,1051.6 244.5,1051 246.5,1050.3 248.5,1049.6 250.5,1048.8 252.5,1048.1 254.5,1047.3 256.5,1046.5 258.5,1045.6 260.5,1044.6 262.5,1043.6 264.5,1042.5 266.5,1041.5 268.5,1040.4 270.5,1039.3 272.5,1038.2 274.5,1037 276.5,1035.8 278.5,1034.5 280.5,1033.3 282.5,1032 284.5,1030.7 286.5,1029.5 288.5,1028.3 290.5,1027.1 292.5,1025.9 294.5,1024.8 296.5,1023.6 298.5,1022.5 300.5,1021.4 302.5,1020.2 304.5,1019 306.5,1017.8 308.5,1016.6 310.5,1015.3 312.5,1014.1 314.5,1012.8 316.5,1011.6 318.5,1010.4 320.5,1009.2 322.5,1008 324.5,1006.8 326.5,1005.6 328.5,1004.4 330.5,1003.2 332.5,1002 334.5,1000.8 336.5,999.6 338.5,998.4 340.5,997.2 342.5,996.1 344.5,994.9 346.5,993.8 348.5,992.7 350.5,991.6 352.5,990.6 354.5,989.5 356.5,988.4"/><polyline class="lp" points="229.5,1054.5 229.5,1054.4 229.7,1054.4 229.9,1054.3 230.1,1054.2 230.5,1054.2 230.9,1054.1 231.5,1054 232.1,1054 232.7,1053.9 233.5,1053.8 234.3,1053.6 236.5,1053.1 238.5,1052.7 240.5,1052.2 242.5,1051.6 244.5,1051 246.5,1050.3 248.5,1049.6 250.5,1048.8 252.5,1048.1 254.5,1047.3 256.5,1046.5 258.5,1045.6 260.5,1044.6 262.5,1043.6 264.5,1042.5 266.5,1041.5 268.5,1040.4 270.5,1039.3 272.5,1038.2 274.5,1037 276.5,1035.8 278.5,1034.5 280.5,1033.2 282.5,1031.8 284.5,1030.4 286.5,1029 288.5,1027.7 290.5,1026.2 292.5,1024.7 294.5,1023 296.5,1021.2 298.5,1019.4 300.5,1017.5 302.5,1015.5 304.5,1013.6 306.5,1011.6 308.5,1009.6 310.5,1007.6 312.5,1005.5 314.5,1003.3 316.5,1001.1 318.5,998.8 320.5,996.4 322.5,994 324.5,991.5 326.5,988.9 328.5,986.3 330.5,983.7 332.5,981.1 334.5,978.5 336.5,975.9 338.5,973.2 340.5,970.6 342.5,968 344.5,965.4 346.5,962.7 348.5,960 350.5,957.2 352.5,954.4 354.5,951.5 356.5,948.6"/><polyline class="lr" points="229.5,1054.5 229.5,1054.4 229.7,1054.4 229.9,1054.3 230.1,1054.2 230.5,1054.2 230.9,1054.1 231.5,1054 232.1,1054 232.7,1053.9 233.5,1053.8 234.3,1053.6 236.5,1053.1 238.5,1052.7 240.5,1052.2 242.5,1051.6 244.5,1051 246.5,1050.3 248.5,1049.6 250.5,1048.8 252.5,1048.1 254.5,1047.3 256.5,1046.5 258.5,1045.6 260.5,1044.6 262.5,1043.6 264.5,1042.5 266.5,1041.5 268.5,1040.4 270.5,1039.3 272.5,1038.2 274.5,1037 276.5,1035.8 278.5,1034.5 280.5,1033.1 282.5,1031.8 284.5,1030.4 286.5,1029.1 288.5,1027.7 290.5,1026.4 292.5,1025.1 294.5,1023.7 296.5,1022.2 298.5,1020.6 300.5,1018.9 302.5,1017.1 304.5,1015.4 306.5,1013.5 308.5,1011.7 310.5,1009.8 312.5,1007.9 314.5,1005.9 316.5,1003.9 318.5,1001.9 320.5,999.8 322.5,997.6 324.5,995.4 326.5,993.2 328.5,990.9 330.5,988.6 332.5,986.2 334.5,983.8 336.5,981.3 338.5,978.8 340.5,976.3 342.5,973.8 344.5,971.3 346.5,968.7 348.5,966.2 350.5,963.6 352.5,961.1 354.5,958.6 356.5,956.1"/><polyline class="lr" points="229.5,1054.5 229.5,1054.4 229.7,1054.4 229.9,1054.3 230.1,1054.2 230.5,1054.2 230.9,1054.1 231.5,1054 232.1,1054 232.7,1053.9 233.5,1053.8 234.3,1053.6 236.5,1053.1 238.5,1052.7 240.5,1052.2 242.5,1051.6 244.5,1051 246.5,1050.3 248.5,1049.6 250.5,1048.8 252.5,1048.1 254.5,1047.3 256.5,1046.5 258.5,1045.6 260.5,1044.6 262.5,1043.6 264.5,1042.5 266.5,1041.5 268.5,1040.4 270.5,1039.3 272.5,1038.2 274.5,1037 276.5,1035.8 278.5,1034.5 280.5,1033.2 282.5,1031.8 284.5,1030.4 286.5,1029 288.5,1027.6 290.5,1026 292.5,1024.3 294.5,1022.3 296.5,1020.2 298.5,1018 300.5,1015.9 302.5,1013.8 304.5,1011.8 306.5,1009.9 308.5,1007.8 310.5,1005.5 312.5,1003 314.5,1000.3 316.5,997.8 318.5,995.3 320.5,992.9 322.5,990.5 324.5,988.1 326.5,985.6 328.5,983.1 330.5,980.6 332.5,977.9 334.5,975.1 336.5,972.3 338.5,969.4 340.5,966.4 342.5,963.4 344.5,960.3 346.5,957.1 348.5,953.9 350.5,950.8 352.5,947.6 354.5,944.4 356.5,941.2"/></g>
<rect class="fr0" x="229.5" y="929.5" width="125" height="125"/>
<path class="tk" d="M292 1054v-3.3M230 1029.5h3.3M230 1004.5h3.3M230 979.5h3.3M230 954.5h3.3"/>
<circle class="pt" cx="231.28" cy="1054" r="2.25"/><circle class="pt" cx="233.48" cy="1053.7" r="2.25"/><circle class="pt" cx="236.52" cy="1053.2" r="2.25"/><circle class="pt" cx="240.36" cy="1052.3" r="2.25"/><circle class="pt" cx="244.94" cy="1051" r="2.25"/><circle class="pt" cx="250.21" cy="1049" r="2.25"/><circle class="pt" cx="256.13" cy="1046.8" r="2.25"/><circle class="pt" cx="262.63" cy="1043.7" r="2.25"/><circle class="pt" cx="269.66" cy="1039.8" r="2.25"/><circle class="pt" cx="277.17" cy="1035.7" r="2.25"/><rect class="pt" x="282.77" y="1028.6" width="4.7" height="3.2" rx="0.7"/><circle class="pt" cx="285.12" cy="1030.2" r="2.25"/><rect class="pt" x="291.11" y="1022.2" width="4.7" height="3.6" rx="0.7"/><circle class="pt" cx="293.46" cy="1024" r="2.25"/><rect class="pt" x="299.8" y="1014.5" width="4.7" height="4" rx="0.7"/><circle class="pt" cx="302.15" cy="1016.5" r="2.25"/><rect class="pt" x="308.8" y="1005.5" width="4.7" height="4.4" rx="0.7"/><circle class="pt" cx="311.15" cy="1007.7" r="2.25"/><rect class="pt" x="318.09" y="994.7" width="4.7" height="4.6" rx="0.7"/><circle class="pt" cx="320.44" cy="997" r="2.25"/><rect class="pt" x="327.63" y="982.55" width="4.7" height="4.9" rx="0.7"/><circle class="pt" cx="329.98" cy="985" r="2.25"/><rect class="pt" x="337.4" y="968.2" width="4.7" height="5.6" rx="0.7"/><circle class="pt" cx="339.75" cy="971" r="2.25"/><path class="eb" d="M349.73 952V957M347.43 952h4.6M347.43 957h4.6"/><circle class="pt" cx="349.73" cy="954.5" r="2.25"/>
<text class="t" text-anchor="middle" x="231.5" y="1070">0.00</text>
<text class="t" text-anchor="middle" x="294" y="1070">0.05</text>
<text class="t" text-anchor="middle" x="356.5" y="1070">0.10</text>
<g clip-path="url(#c52)"><polygon class="fo" points="392,1054.5 392,1054.4 392.2,1054.4 392.4,1054.3 392.6,1054.2 393,1054.2 393.4,1054.1 394,1054 394.6,1054 395.2,1053.9 396,1053.8 396.8,1053.6 399,1053.1 401,1052.7 403,1052.2 405,1051.6 407,1051 409,1050.3 411,1049.6 413,1048.8 415,1048.1 417,1047.3 419,1046.5 421,1045.6 423,1044.6 425,1043.6 427,1042.5 429,1041.5 431,1040.4 433,1039.3 435,1038.2 437,1037 439,1035.8 441,1034.5 443,1033.1 445,1031.7 447,1030.4 449,1029.1 451,1027.9 453,1026.6 455,1025.1 457,1023.5 459,1021.7 461,1019.8 463,1017.9 465,1016.1 467,1014.3 469,1012.5 471,1010.8 473,1008.9 475,1007 477,1005 479,1003 481,1001 483,998.9 485,996.9 487,994.8 489,992.6 491,990.2 493,987.7 495,985 497,982.2 499,979.5 501,976.9 503,974.4 505,971.9 507,969.3 509,966.6 511,963.7 513,960.8 515,957.9 517,955 519,952.2 519,999.8 517,1000.8 515,1001.8 513,1002.7 511,1003.7 509,1004.6 507,1005.6 505,1006.5 503,1007.4 501,1008.3 499,1009.3 497,1010.2 495,1011.2 493,1012.2 491,1013.2 489,1014.2 487,1015.2 485,1016.2 483,1017.2 481,1018.2 479,1019.2 477,1020.2 475,1021.2 473,1022.1 471,1023.1 469,1024.1 467,1025.1 465,1026 463,1027 461,1028 459,1029 457,1030 455,1031 453,1032 451,1033 449,1034 447,1034.9 445,1035.8 443,1036.7 441,1037.6 439,1038.5 437,1039.4 435,1040.2 433,1041.1 431,1041.9 429,1042.8 427,1043.6 425,1044.4 423,1045.2 421,1046 419,1046.7 417,1047.5 415,1048.2 413,1048.9 411,1049.6 409,1050.3 407,1051 405,1051.6 403,1052.2 401,1052.7 399,1053.1 396.8,1053.6 396,1053.8 395.2,1053.9 394.6,1054 394,1054 393.4,1054.1 393,1054.2 392.6,1054.2 392.4,1054.3 392.2,1054.4 392,1054.4 392,1054.5"/><polygon class="fp" points="392,1054.5 392,1054.4 392.2,1054.4 392.4,1054.3 392.6,1054.2 393,1054.2 393.4,1054.1 394,1054 394.6,1054 395.2,1053.9 396,1053.8 396.8,1053.6 399,1053.1 401,1052.7 403,1052.2 405,1051.6 407,1051 409,1050.3 411,1049.6 413,1048.8 415,1048.1 417,1047.3 419,1046.5 421,1045.6 423,1044.6 425,1043.6 427,1042.5 429,1041.5 431,1040.4 433,1039.3 435,1038.2 437,1037 439,1035.8 441,1034.5 443,1033.1 445,1031.7 447,1030.4 449,1029.1 451,1027.9 453,1026.6 455,1025.1 457,1023.5 459,1021.7 461,1019.8 463,1017.9 465,1016.1 467,1014.3 469,1012.5 471,1010.8 473,1008.9 475,1007 477,1005 479,1003 481,1001 483,998.9 485,996.9 487,994.8 489,992.6 491,990.2 493,987.7 495,985 497,982.2 499,979.5 501,976.9 503,974.4 505,971.9 507,969.3 509,966.6 511,963.7 513,960.8 515,957.9 517,955 519,952.2 519,978.3 517,979.8 515,981.3 513,982.8 511,984.3 509,985.8 507,987.3 505,988.9 503,990.4 501,991.9 499,993.4 497,994.9 495,996.4 493,997.9 491,999.4 489,1000.8 487,1002.3 485,1003.7 483,1005.2 481,1006.6 479,1008.1 477,1009.5 475,1010.9 473,1012.4 471,1013.8 469,1015.2 467,1016.6 465,1018 463,1019.4 461,1020.8 459,1022.1 457,1023.4 455,1024.7 453,1026 451,1027.3 449,1028.7 447,1030 445,1031.4 443,1032.8 441,1034.2 439,1035.5 437,1036.8 435,1038 433,1039.2 431,1040.4 429,1041.5 427,1042.6 425,1043.6 423,1044.6 421,1045.6 419,1046.5 417,1047.3 415,1048.1 413,1048.8 411,1049.6 409,1050.3 407,1051 405,1051.6 403,1052.2 401,1052.7 399,1053.1 396.8,1053.6 396,1053.8 395.2,1053.9 394.6,1054 394,1054 393.4,1054.1 393,1054.2 392.6,1054.2 392.4,1054.3 392.2,1054.4 392,1054.4 392,1054.5"/><polygon class="fr" points="392,1054.5 392,1054.4 392.2,1054.4 392.4,1054.3 392.6,1054.2 393,1054.2 393.4,1054.1 394,1054 394.6,1054 395.2,1053.9 396,1053.8 396.8,1053.6 399,1053.1 401,1052.7 403,1052.2 405,1051.6 407,1051 409,1050.3 411,1049.6 413,1048.8 415,1048.1 417,1047.3 419,1046.5 421,1045.6 423,1044.6 425,1043.6 427,1042.5 429,1041.5 431,1040.4 433,1039.3 435,1038.2 437,1037 439,1035.8 441,1034.5 443,1033.1 445,1031.8 447,1030.4 449,1029.1 451,1027.8 453,1026.4 455,1024.8 457,1023 459,1021.1 461,1019 463,1017 465,1015 467,1013.1 469,1011.3 471,1009.4 473,1007.5 475,1005.6 477,1003.6 479,1001.5 481,999.4 483,997.1 485,994.8 487,992.5 489,990.1 491,987.7 493,985.3 495,982.9 497,980.4 499,977.8 501,975.2 503,972.5 505,969.6 507,966.6 509,963.6 511,960.6 513,957.6 515,954.7 517,951.7 519,948.8 519,956.9 517,959.5 515,962.1 513,964.7 511,967.4 509,970 507,972.7 505,975.3 503,977.9 501,980.5 499,983.1 497,985.6 495,988 493,990.3 491,992.6 489,994.7 487,996.8 485,998.9 483,1000.9 481,1002.8 479,1004.8 477,1006.6 475,1008.5 473,1010.3 471,1012.1 469,1013.8 467,1015.6 465,1017.3 463,1019.1 461,1020.8 459,1022.5 457,1024 455,1025.5 453,1026.8 451,1028 449,1029.2 447,1030.4 445,1031.7 443,1033.1 441,1034.5 439,1035.8 437,1037 435,1038.2 433,1039.3 431,1040.4 429,1041.5 427,1042.5 425,1043.6 423,1044.6 421,1045.6 419,1046.5 417,1047.3 415,1048.1 413,1048.8 411,1049.6 409,1050.3 407,1051 405,1051.6 403,1052.2 401,1052.7 399,1053.1 396.8,1053.6 396,1053.8 395.2,1053.9 394.6,1054 394,1054 393.4,1054.1 393,1054.2 392.6,1054.2 392.4,1054.3 392.2,1054.4 392,1054.4 392,1054.5"/><polyline class="lo" points="392,1054.5 392,1054.4 392.2,1054.4 392.4,1054.3 392.6,1054.2 393,1054.2 393.4,1054.1 394,1054 394.6,1054 395.2,1053.9 396,1053.8 396.8,1053.6 399,1053.1 401,1052.7 403,1052.2 405,1051.6 407,1051 409,1050.3 411,1049.6 413,1048.9 415,1048.2 417,1047.5 419,1046.7 421,1046 423,1045.2 425,1044.4 427,1043.6 429,1042.8 431,1041.9 433,1041.1 435,1040.2 437,1039.4 439,1038.5 441,1037.6 443,1036.7 445,1035.8 447,1034.9 449,1034 451,1033 453,1032 455,1031 457,1030 459,1029 461,1028 463,1027 465,1026 467,1025.1 469,1024.1 471,1023.1 473,1022.1 475,1021.2 477,1020.2 479,1019.2 481,1018.2 483,1017.2 485,1016.2 487,1015.2 489,1014.2 491,1013.2 493,1012.2 495,1011.2 497,1010.2 499,1009.3 501,1008.3 503,1007.4 505,1006.5 507,1005.6 509,1004.6 511,1003.7 513,1002.7 515,1001.8 517,1000.8 519,999.8"/><polyline class="lo" points="392,1054.5 392,1054.4 392.2,1054.4 392.4,1054.3 392.6,1054.2 393,1054.2 393.4,1054.1 394,1054 394.6,1054 395.2,1053.9 396,1053.8 396.8,1053.6 399,1053.1 401,1052.7 403,1052.2 405,1051.6 407,1051 409,1050.3 411,1049.6 413,1048.8 415,1048.1 417,1047.3 419,1046.5 421,1045.6 423,1044.6 425,1043.6 427,1042.5 429,1041.5 431,1040.4 433,1039.3 435,1038.2 437,1037 439,1035.8 441,1034.5 443,1033.1 445,1031.7 447,1030.4 449,1029.1 451,1027.9 453,1026.6 455,1025.1 457,1023.5 459,1021.7 461,1019.8 463,1017.9 465,1016.1 467,1014.3 469,1012.5 471,1010.8 473,1008.9 475,1007 477,1005 479,1003 481,1001 483,998.9 485,996.9 487,994.8 489,992.6 491,990.2 493,987.7 495,985 497,982.2 499,979.5 501,976.9 503,974.4 505,971.9 507,969.3 509,966.6 511,963.7 513,960.8 515,957.9 517,955 519,952.2"/><polyline class="lp" points="392,1054.5 392,1054.4 392.2,1054.4 392.4,1054.3 392.6,1054.2 393,1054.2 393.4,1054.1 394,1054 394.6,1054 395.2,1053.9 396,1053.8 396.8,1053.6 399,1053.1 401,1052.7 403,1052.2 405,1051.6 407,1051 409,1050.3 411,1049.6 413,1048.8 415,1048.1 417,1047.3 419,1046.5 421,1045.6 423,1044.6 425,1043.6 427,1042.6 429,1041.5 431,1040.4 433,1039.2 435,1038 437,1036.8 439,1035.5 441,1034.2 443,1032.8 445,1031.4 447,1030 449,1028.7 451,1027.3 453,1026 455,1024.7 457,1023.4 459,1022.1 461,1020.8 463,1019.4 465,1018 467,1016.6 469,1015.2 471,1013.8 473,1012.4 475,1010.9 477,1009.5 479,1008.1 481,1006.6 483,1005.2 485,1003.7 487,1002.3 489,1000.8 491,999.4 493,997.9 495,996.4 497,994.9 499,993.4 501,991.9 503,990.4 505,988.9 507,987.3 509,985.8 511,984.3 513,982.8 515,981.3 517,979.8 519,978.3"/><polyline class="lp" points="392,1054.5 392,1054.4 392.2,1054.4 392.4,1054.3 392.6,1054.2 393,1054.2 393.4,1054.1 394,1054 394.6,1054 395.2,1053.9 396,1053.8 396.8,1053.6 399,1053.1 401,1052.7 403,1052.2 405,1051.6 407,1051 409,1050.3 411,1049.6 413,1048.8 415,1048.1 417,1047.3 419,1046.5 421,1045.6 423,1044.6 425,1043.6 427,1042.5 429,1041.5 431,1040.4 433,1039.3 435,1038.2 437,1037 439,1035.8 441,1034.5 443,1033.1 445,1031.7 447,1030.4 449,1029.1 451,1027.9 453,1026.6 455,1025.1 457,1023.5 459,1021.7 461,1019.8 463,1017.9 465,1016.1 467,1014.3 469,1012.5 471,1010.8 473,1008.9 475,1007 477,1005 479,1003 481,1001 483,998.9 485,996.9 487,994.8 489,992.6 491,990.2 493,987.7 495,985 497,982.2 499,979.5 501,976.9 503,974.4 505,971.9 507,969.3 509,966.6 511,963.7 513,960.8 515,957.9 517,955 519,952.2"/><polyline class="lr" points="392,1054.5 392,1054.4 392.2,1054.4 392.4,1054.3 392.6,1054.2 393,1054.2 393.4,1054.1 394,1054 394.6,1054 395.2,1053.9 396,1053.8 396.8,1053.6 399,1053.1 401,1052.7 403,1052.2 405,1051.6 407,1051 409,1050.3 411,1049.6 413,1048.8 415,1048.1 417,1047.3 419,1046.5 421,1045.6 423,1044.6 425,1043.6 427,1042.5 429,1041.5 431,1040.4 433,1039.3 435,1038.2 437,1037 439,1035.8 441,1034.5 443,1033.1 445,1031.7 447,1030.4 449,1029.2 451,1028 453,1026.8 455,1025.5 457,1024 459,1022.5 461,1020.8 463,1019.1 465,1017.3 467,1015.6 469,1013.8 471,1012.1 473,1010.3 475,1008.5 477,1006.6 479,1004.8 481,1002.8 483,1000.9 485,998.9 487,996.8 489,994.7 491,992.6 493,990.3 495,988 497,985.6 499,983.1 501,980.5 503,977.9 505,975.3 507,972.7 509,970 511,967.4 513,964.7 515,962.1 517,959.5 519,956.9"/><polyline class="lr" points="392,1054.5 392,1054.4 392.2,1054.4 392.4,1054.3 392.6,1054.2 393,1054.2 393.4,1054.1 394,1054 394.6,1054 395.2,1053.9 396,1053.8 396.8,1053.6 399,1053.1 401,1052.7 403,1052.2 405,1051.6 407,1051 409,1050.3 411,1049.6 413,1048.8 415,1048.1 417,1047.3 419,1046.5 421,1045.6 423,1044.6 425,1043.6 427,1042.5 429,1041.5 431,1040.4 433,1039.3 435,1038.2 437,1037 439,1035.8 441,1034.5 443,1033.1 445,1031.8 447,1030.4 449,1029.1 451,1027.8 453,1026.4 455,1024.8 457,1023 459,1021.1 461,1019 463,1017 465,1015 467,1013.1 469,1011.3 471,1009.4 473,1007.5 475,1005.6 477,1003.6 479,1001.5 481,999.4 483,997.1 485,994.8 487,992.5 489,990.1 491,987.7 493,985.3 495,982.9 497,980.4 499,977.8 501,975.2 503,972.5 505,969.6 507,966.6 509,963.6 511,960.6 513,957.6 515,954.7 517,951.7 519,948.8"/></g>
<rect class="fr0" x="392" y="929.5" width="125" height="125"/>
<path class="tk" d="M454.5 1054v-3.3M392.5 1029.5h3.3M392.5 1004.5h3.3M392.5 979.5h3.3M392.5 954.5h3.3"/>
<circle class="pt" cx="393.78" cy="1054" r="2.25"/><circle class="pt" cx="395.98" cy="1053.7" r="2.25"/><circle class="pt" cx="399.02" cy="1053.2" r="2.25"/><circle class="pt" cx="402.86" cy="1052.3" r="2.25"/><circle class="pt" cx="407.44" cy="1051" r="2.25"/><circle class="pt" cx="412.71" cy="1049" r="2.25"/><circle class="pt" cx="418.63" cy="1046.8" r="2.25"/><circle class="pt" cx="425.13" cy="1043.7" r="2.25"/><circle class="pt" cx="432.16" cy="1039.8" r="2.25"/><circle class="pt" cx="439.67" cy="1035.7" r="2.25"/><rect class="pt" x="445.27" y="1028.6" width="4.7" height="3.2" rx="0.7"/><circle class="pt" cx="447.62" cy="1030.2" r="2.25"/><rect class="pt" x="453.61" y="1022.2" width="4.7" height="3.6" rx="0.7"/><circle class="pt" cx="455.96" cy="1024" r="2.25"/><rect class="pt" x="462.3" y="1014.5" width="4.7" height="4" rx="0.7"/><circle class="pt" cx="464.65" cy="1016.5" r="2.25"/><rect class="pt" x="471.3" y="1005.5" width="4.7" height="4.4" rx="0.7"/><circle class="pt" cx="473.65" cy="1007.7" r="2.25"/><rect class="pt" x="480.59" y="994.7" width="4.7" height="4.6" rx="0.7"/><circle class="pt" cx="482.94" cy="997" r="2.25"/><rect class="pt" x="490.13" y="982.55" width="4.7" height="4.9" rx="0.7"/><circle class="pt" cx="492.48" cy="985" r="2.25"/><rect class="pt" x="499.9" y="968.2" width="4.7" height="5.6" rx="0.7"/><circle class="pt" cx="502.25" cy="971" r="2.25"/><path class="eb" d="M512.23 952V957M509.93 952h4.6M509.93 957h4.6"/><circle class="pt" cx="512.23" cy="954.5" r="2.25"/>
<text class="t" text-anchor="middle" x="394" y="1070">0.00</text>
<text class="t" text-anchor="middle" x="456.5" y="1070">0.05</text>
<text class="t" text-anchor="middle" x="519" y="1070">0.10</text>
<rect x="266.5" y="906" width="31.2" height="26.9" fill="#ffffd9" stroke="#1c1c1c" stroke-width="1.3"/>
<text class="l" x="270.7" y="924"><tspan font-style="italic">P</tspan><tspan font-size="9.8px" dy="2.2">33</tspan></text>
<text class="l" style="font-size:14.8px" transform="translate(11.3 581) rotate(-90)"><tspan font-style="italic">δ</tspan> [degree]</text>
<text class="l" style="font-size:15px" x="254.2" y="1108.3">T<tspan font-style="italic" font-size="11.5px" dy="3">π</tspan><tspan dy="-3" dx="0.6">[GeV]</tspan></text>
</svg></body></html>
